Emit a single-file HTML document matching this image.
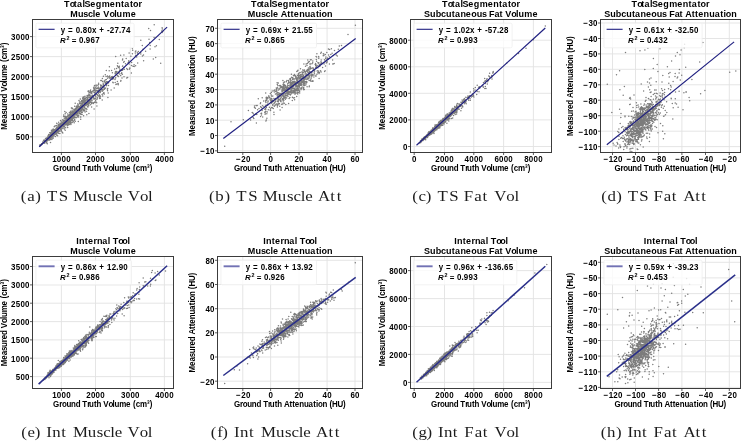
<!DOCTYPE html>
<html><head><meta charset="utf-8"><style>
html,body{margin:0;padding:0;background:#fff;}
svg{display:block;filter:blur(0.35px);}
text.s{font-family:"Liberation Sans",sans-serif;font-weight:bold;fill:#000;stroke:#000;stroke-width:0px;}
</style></head><body>
<svg width="741" height="441" viewBox="0 0 741 441">
<rect width="741" height="441" fill="#fff"/>
<path d="M61.4 19.5V152.5M95.5 19.5V152.5M130.3 19.5V152.5M164.4 19.5V152.5M32.5 136.8H173.5M32.5 116.8H173.5M32.5 96.7H173.5M32.5 76.7H173.5M32.5 56.6H173.5M32.5 36.6H173.5" stroke="#e2e2e2" stroke-width="0.9" fill="none"/>
<path d="M75.8 111.4h0M119.5 73.9h0M113.6 78.6h0M64.7 121.2h0M68.7 120.4h0M64.4 122.2h0M90.1 99.1h0M73.8 109.3h0M95.6 87.8h0M47.0 142.1h0M129.2 63.9h0M72.9 112.5h0M93.5 97.9h0M72.0 113.1h0M67.1 119.5h0M86.9 99.2h0M98.3 91.6h0M70.6 116.2h0M71.7 114.4h0M93.6 102.8h0M58.7 130.8h0M50.4 138.4h0M85.0 96.3h0M61.9 124.5h0M46.3 139.4h0M59.6 127.1h0M65.4 123.7h0M54.2 134.4h0M50.6 134.2h0M75.9 113.7h0M100.8 80.4h0M70.0 117.1h0M60.7 126.3h0M84.7 104.9h0M94.7 95.0h0M68.6 119.0h0M89.3 92.6h0M106.3 70.5h0M70.5 121.2h0M59.6 126.9h0M83.7 101.9h0M81.1 111.1h0M108.5 85.6h0M53.1 134.7h0M62.1 132.1h0M59.2 126.2h0M48.1 138.5h0M78.0 110.6h0M88.8 99.7h0M60.8 125.8h0M120.6 55.3h0M98.2 90.4h0M91.8 93.2h0M85.2 105.7h0M103.0 84.9h0M52.5 134.9h0M91.4 98.3h0M91.1 102.2h0M47.7 140.3h0M83.7 102.9h0M69.6 115.6h0M96.8 90.2h0M66.0 123.6h0M74.6 112.2h0M83.6 115.8h0M58.6 126.0h0M90.9 98.2h0M72.7 114.3h0M87.8 95.8h0M64.5 124.2h0M108.0 76.7h0M91.1 99.9h0M71.1 114.8h0M92.0 99.0h0M115.1 73.8h0M140.8 40.3h0M49.7 138.2h0M100.3 92.5h0M87.0 103.2h0M72.9 113.9h0M56.7 123.3h0M115.0 79.4h0M53.4 138.1h0M90.0 102.0h0M116.9 84.0h0M49.5 138.2h0M68.6 119.0h0M52.8 136.1h0M81.0 110.2h0M126.7 78.0h0M154.1 37.5h0M47.6 140.2h0M63.5 120.6h0M94.2 89.7h0M129.9 68.2h0M85.7 104.5h0M60.7 126.3h0M82.4 102.9h0M74.7 119.4h0M70.6 117.4h0M60.9 121.1h0M84.8 104.1h0M82.6 104.8h0M73.0 114.9h0M70.2 121.5h0M53.1 131.5h0M65.1 121.5h0M112.8 76.6h0M70.9 114.4h0M51.2 133.7h0M118.3 84.8h0M88.9 97.6h0M159.3 39.4h0M76.5 110.9h0M65.6 124.0h0M51.1 137.3h0M117.9 66.8h0M59.5 127.6h0M62.3 125.7h0M90.9 99.3h0M59.3 127.5h0M69.2 118.4h0M67.7 127.5h0M79.6 112.0h0M108.3 83.1h0M75.5 109.6h0M101.6 80.5h0M66.3 124.0h0M83.2 97.0h0M44.4 141.6h0M51.1 134.4h0M97.3 94.6h0M63.3 125.7h0M90.4 91.6h0M89.2 100.4h0M117.8 73.5h0M97.8 85.3h0M105.3 74.7h0M72.5 120.4h0M61.4 126.2h0M60.9 126.2h0M65.1 116.7h0M55.1 125.7h0M64.0 123.3h0M73.0 113.4h0M81.2 103.4h0M67.9 115.8h0M46.3 140.5h0M73.4 111.2h0M80.5 110.4h0M107.9 97.4h0M90.3 104.7h0M62.4 124.1h0M61.0 123.8h0M153.3 59.0h0M96.0 102.0h0M143.0 49.2h0M160.7 63.3h0M59.5 125.9h0M84.7 99.0h0M86.8 114.8h0M89.8 95.1h0M89.2 100.1h0M79.9 102.3h0M79.2 107.6h0M50.5 136.4h0M71.4 115.6h0M60.6 123.7h0M78.0 109.0h0M65.4 121.6h0M91.5 103.8h0M98.1 88.3h0M82.7 105.2h0M82.9 97.4h0M77.2 110.5h0M65.8 121.6h0M71.4 118.2h0M64.9 119.9h0M84.8 104.2h0M75.4 114.9h0M90.4 90.4h0M52.5 129.9h0M100.5 90.9h0M60.4 129.2h0M60.9 122.9h0M70.7 119.5h0M63.7 114.9h0M82.2 106.3h0M63.5 120.6h0M55.9 133.9h0M59.1 127.7h0M117.4 65.7h0M76.1 109.9h0M54.6 133.2h0M75.2 103.2h0M49.9 134.8h0M140.7 52.6h0M50.3 137.3h0M87.4 102.0h0M89.3 92.7h0M51.1 136.9h0M82.4 105.3h0M104.5 89.2h0M87.1 95.5h0M81.4 107.1h0M102.7 81.6h0M78.9 106.6h0M83.4 107.0h0M72.2 112.7h0M92.0 91.9h0M57.7 131.9h0M97.1 87.9h0M64.8 111.5h0M55.6 131.7h0M84.2 101.0h0M135.6 65.7h0M103.2 83.3h0M64.6 124.2h0M94.0 90.6h0M65.7 121.5h0M72.3 119.3h0M77.1 106.3h0M43.0 143.3h0M79.6 112.2h0M56.4 130.0h0M61.5 128.1h0M50.8 134.7h0M50.4 136.1h0M57.7 130.0h0M98.3 86.9h0M134.2 66.5h0M74.5 109.5h0M108.2 93.0h0M69.4 112.5h0M46.4 139.4h0M78.6 110.1h0M86.4 104.9h0M66.2 119.2h0M82.5 106.1h0M90.1 99.0h0M58.8 125.1h0M50.8 136.5h0M70.2 117.9h0M70.4 115.4h0M67.6 116.1h0M104.2 85.8h0M137.3 52.7h0M66.4 120.6h0M94.1 90.7h0M102.4 78.4h0M94.5 98.6h0M106.5 83.6h0M66.9 120.4h0M95.4 90.2h0M154.2 24.7h0M97.6 91.2h0M62.8 123.5h0M91.2 91.7h0M115.2 82.6h0M84.3 107.0h0M63.7 124.6h0M128.1 62.8h0M53.5 132.4h0M88.1 102.5h0M74.7 106.3h0M54.2 134.0h0M113.4 77.7h0M83.7 99.6h0M54.6 130.1h0M91.0 97.4h0M66.1 119.8h0M46.5 138.1h0M61.6 125.3h0M81.5 103.7h0M92.1 100.8h0M79.0 108.5h0M76.1 117.8h0M87.1 105.1h0M70.4 120.8h0M111.6 70.5h0M78.6 111.0h0M82.3 104.4h0M89.2 103.4h0M56.0 131.1h0M61.3 126.4h0M127.4 69.6h0M83.4 101.0h0M69.0 123.9h0M83.5 101.8h0M65.2 113.7h0M81.9 109.5h0M62.0 124.9h0M81.8 112.7h0M49.7 136.7h0M118.2 83.5h0M64.6 120.6h0M49.6 137.7h0M70.2 123.6h0M67.3 124.2h0M78.7 115.6h0M54.9 132.5h0M85.1 99.4h0M53.1 134.4h0M83.4 109.8h0M68.4 121.8h0M79.7 107.9h0M47.3 143.7h0M54.8 130.5h0M86.8 99.8h0M74.2 122.7h0M132.7 50.2h0M61.3 130.4h0M79.2 109.8h0M60.4 123.4h0M58.2 133.1h0M74.2 120.5h0M74.0 118.0h0M99.0 96.2h0M78.1 110.5h0M60.5 128.1h0M80.1 110.1h0M115.6 78.1h0M39.9 146.3h0M71.9 118.9h0M58.7 127.5h0M91.7 97.3h0M71.2 120.1h0M148.7 28.5h0M102.1 94.6h0M100.6 84.9h0M79.5 111.7h0M74.1 112.4h0M83.5 102.7h0M116.6 68.5h0M89.0 93.1h0M67.6 122.6h0M115.7 56.5h0M79.7 106.9h0M73.3 117.5h0M60.0 130.9h0M63.7 116.5h0M62.5 119.9h0M39.8 146.1h0M105.3 80.1h0M90.0 92.5h0M70.4 116.9h0M106.4 85.8h0M86.2 102.4h0M84.4 100.3h0M41.9 144.1h0M70.0 121.8h0M88.9 96.1h0M131.4 73.0h0M143.5 54.9h0M122.5 59.9h0M54.6 131.5h0M43.9 141.8h0M90.1 98.1h0M75.7 108.2h0M103.2 86.6h0M72.2 122.4h0M80.4 106.8h0M50.5 142.5h0M86.5 111.2h0M65.9 116.5h0M83.8 100.0h0M86.8 103.8h0M72.4 115.5h0M82.9 105.0h0M74.7 109.3h0M96.0 96.9h0M88.0 104.6h0M64.0 125.1h0M63.3 123.5h0M138.3 51.6h0M72.8 116.4h0M104.3 81.0h0M85.0 108.0h0M63.7 123.7h0M60.6 128.4h0M77.9 114.1h0M81.3 101.8h0M91.4 98.9h0M53.3 135.7h0M63.2 123.9h0M72.9 118.4h0M130.9 56.2h0M42.7 142.0h0M86.2 97.6h0M64.1 126.3h0M86.0 103.1h0M65.0 116.6h0M84.2 105.1h0M129.1 53.1h0M83.9 97.8h0M86.1 108.6h0M84.4 98.6h0M60.6 124.3h0M89.3 95.2h0M70.5 111.2h0M59.6 126.1h0M74.2 113.3h0M70.1 115.3h0M95.8 94.9h0M74.1 111.9h0M64.3 129.1h0M123.9 55.1h0M104.2 88.4h0M115.5 71.4h0M91.2 96.0h0M72.6 114.7h0M66.3 120.7h0M69.0 118.2h0M102.7 96.0h0M77.7 112.5h0M50.7 133.2h0M74.2 117.4h0M51.5 137.4h0M79.0 100.5h0M54.1 129.7h0M53.3 129.7h0M77.8 110.2h0M73.3 113.5h0M48.8 136.0h0M95.7 90.4h0M162.8 31.3h0M50.7 138.9h0M142.4 55.9h0M61.6 129.8h0M65.0 117.5h0M71.1 117.9h0M51.2 135.8h0M116.8 72.0h0M87.8 100.7h0M60.6 125.0h0M69.1 120.6h0M50.4 139.4h0M67.7 114.0h0M102.3 91.3h0M48.3 139.1h0M66.0 123.9h0M78.5 111.8h0M106.5 83.3h0M119.0 66.9h0M65.6 125.1h0M60.8 125.6h0M86.6 105.1h0M67.4 116.2h0M68.4 123.2h0M107.7 81.7h0M135.4 51.2h0M81.5 112.5h0M70.8 116.5h0M90.1 98.0h0M46.6 141.2h0M74.6 114.1h0M56.0 128.4h0M94.8 93.1h0M78.4 111.4h0M70.8 117.7h0M41.6 143.8h0M94.5 88.3h0M132.4 53.7h0M60.9 124.2h0M93.6 87.8h0M94.8 102.1h0M50.0 139.6h0M102.2 100.0h0M119.3 66.3h0M80.6 117.1h0M73.6 114.5h0M97.0 88.4h0M50.1 139.4h0M77.2 113.5h0M106.7 84.9h0M53.6 131.5h0M104.4 94.1h0M66.4 120.2h0M44.9 140.2h0M72.7 114.7h0M57.2 129.4h0M82.9 100.3h0M54.5 131.8h0M106.6 83.7h0M60.8 127.4h0M83.9 101.9h0M63.2 125.0h0M68.2 117.4h0M112.2 77.8h0M80.2 103.6h0M66.8 123.3h0M53.5 133.1h0M110.9 77.5h0M95.2 92.0h0M68.1 115.9h0M81.0 105.9h0M56.4 128.3h0M56.6 125.4h0M59.4 125.5h0M83.9 109.3h0M82.3 112.2h0M60.7 124.7h0M95.3 95.9h0M96.9 91.0h0M79.2 109.8h0M106.1 76.6h0M68.9 114.9h0M72.5 119.4h0M87.2 100.4h0M74.3 114.9h0M97.2 98.9h0M53.5 131.9h0M122.5 69.9h0M60.1 125.9h0M71.4 107.9h0M51.9 131.9h0M91.0 92.8h0M115.7 77.8h0M107.4 89.7h0M98.6 84.5h0M49.9 137.3h0M60.1 127.0h0M65.5 123.2h0M57.8 129.0h0M109.4 66.8h0M79.5 110.2h0M74.5 114.6h0M87.6 100.3h0M57.5 128.8h0M58.2 132.0h0M58.6 133.2h0M87.9 103.6h0M83.5 106.0h0M90.3 102.4h0M107.7 88.5h0M52.2 136.7h0M63.8 124.9h0M78.5 110.3h0M52.3 138.1h0M64.3 124.9h0M105.2 83.0h0M108.6 82.6h0M107.6 90.7h0M76.0 113.5h0M70.4 117.6h0M107.7 78.3h0M67.2 125.7h0M83.5 102.4h0M117.9 76.3h0M67.3 119.8h0M62.9 122.6h0M74.8 116.6h0M90.9 102.1h0M87.5 102.0h0M78.7 106.8h0M89.7 102.0h0M49.5 140.1h0M58.9 130.2h0M78.9 108.0h0M57.9 126.3h0M52.4 135.6h0M54.0 133.7h0M58.0 129.6h0M71.1 117.3h0M56.5 132.9h0M80.7 109.7h0M135.8 55.3h0M71.8 115.9h0M115.7 75.3h0M82.1 110.7h0M55.2 133.1h0M69.5 120.8h0M57.1 127.4h0M96.3 85.9h0M54.7 131.4h0M117.8 63.3h0M90.3 100.3h0M45.4 141.5h0M96.9 99.3h0M128.6 62.0h0M60.0 128.6h0M104.1 85.6h0M47.4 138.2h0M81.2 108.4h0M48.8 140.0h0M87.5 101.7h0M47.5 139.1h0M40.8 145.3h0M85.0 100.9h0M63.2 125.0h0M98.5 92.6h0M77.6 104.1h0M68.2 116.2h0M91.4 98.2h0M133.0 66.3h0M53.7 134.2h0M89.9 97.5h0M83.6 101.5h0M51.4 130.2h0M131.6 62.5h0M149.7 42.4h0M57.5 130.5h0M137.9 54.1h0M76.3 113.3h0M71.4 120.2h0M126.2 58.6h0M80.5 107.4h0M83.1 100.2h0M126.8 68.5h0M116.3 73.0h0M100.7 85.6h0M51.7 139.1h0M49.7 139.5h0M109.5 76.5h0M57.9 128.9h0M78.6 116.9h0M55.8 132.9h0M71.0 120.4h0M53.1 134.7h0M132.4 48.5h0M56.6 131.8h0M72.3 108.6h0M70.9 117.8h0M112.8 82.2h0M51.4 131.9h0M74.3 110.3h0M70.5 112.7h0M88.9 91.2h0M87.2 96.9h0M65.5 118.3h0M80.9 114.4h0M67.2 123.0h0M87.1 99.7h0M72.7 114.4h0M62.2 123.1h0M74.4 115.3h0M84.1 99.7h0M65.0 116.3h0M82.6 103.4h0M124.2 61.4h0M44.9 140.5h0M48.0 136.6h0M54.3 132.0h0M72.5 117.1h0M84.9 102.7h0M112.9 76.8h0M70.2 122.5h0M41.9 143.8h0M43.0 143.0h0M105.3 83.3h0M79.5 110.9h0M52.9 132.7h0M109.2 77.3h0M50.1 137.9h0M109.9 78.4h0M123.7 62.3h0M60.4 124.7h0M55.3 133.7h0M99.0 95.7h0M55.5 131.3h0M99.6 95.3h0M54.2 126.8h0M97.7 95.8h0M77.2 113.9h0M66.1 119.4h0M58.4 129.9h0M80.8 117.0h0M46.5 140.1h0M69.1 121.8h0M66.8 122.5h0M93.4 103.6h0M53.5 135.4h0M136.7 57.1h0M68.4 119.6h0M54.9 134.6h0M120.7 75.5h0M134.1 64.7h0M70.9 116.6h0M58.4 129.2h0M75.4 117.4h0M61.6 124.1h0M68.4 121.7h0M128.8 60.7h0M84.9 107.9h0M78.5 108.9h0M83.7 105.7h0M73.7 114.3h0M98.9 88.4h0M100.2 87.5h0M67.3 120.0h0M77.5 110.3h0M85.7 108.7h0M71.0 117.3h0M155.7 57.5h0M75.3 121.3h0M55.5 132.3h0M93.3 97.3h0M58.3 125.1h0M64.9 120.8h0M83.1 101.1h0M72.2 117.0h0M60.4 125.8h0M63.9 120.2h0M63.2 122.8h0M111.2 77.6h0M61.1 126.0h0M63.6 126.6h0M155.0 46.7h0M63.9 127.9h0M125.5 63.7h0M117.5 75.5h0M71.7 118.7h0M51.5 134.6h0M86.6 104.8h0M93.2 91.1h0M103.4 76.3h0M76.7 109.9h0M112.8 82.3h0M120.9 80.4h0M56.1 126.1h0M122.7 66.0h0M79.2 113.8h0M63.7 120.7h0M68.3 124.9h0M145.6 51.2h0M104.0 87.4h0M47.5 139.7h0M77.0 115.6h0M71.9 107.8h0M71.2 118.1h0M64.6 121.8h0M51.0 135.6h0M99.6 98.5h0M57.7 130.8h0M67.3 119.8h0M63.1 121.7h0M61.0 127.3h0M95.5 92.1h0M84.7 105.5h0M61.8 123.9h0M57.6 135.8h0M65.4 120.3h0M103.4 90.0h0M78.0 112.6h0M80.7 119.2h0M68.1 123.1h0M69.5 116.3h0M80.3 99.0h0M47.0 140.8h0M131.5 65.5h0M60.0 125.9h0M63.6 123.0h0M118.5 76.5h0M80.4 108.7h0M76.0 113.6h0M63.4 122.3h0M49.9 135.1h0M79.5 102.0h0M112.4 72.8h0M58.3 127.1h0M119.6 70.6h0M55.1 129.6h0M60.9 129.1h0M88.2 91.0h0M75.0 112.0h0M93.8 88.6h0M60.7 128.7h0M56.4 128.1h0M46.8 138.9h0M54.1 133.2h0M55.8 132.8h0M51.4 137.2h0M82.7 98.4h0M62.0 121.9h0M45.7 140.5h0M59.3 127.4h0M53.4 135.0h0M114.2 87.9h0M111.1 90.1h0M54.8 133.6h0M50.8 136.2h0M56.8 133.1h0M109.7 76.1h0M68.4 117.6h0M59.7 127.1h0M74.4 120.1h0M112.7 79.2h0M51.8 135.0h0M67.0 124.6h0M51.9 139.6h0M142.3 45.6h0M102.8 89.2h0M72.1 110.3h0M92.8 91.0h0M44.7 140.8h0M81.8 105.8h0M52.4 132.6h0M52.6 130.9h0M61.3 125.8h0M67.7 120.7h0M90.2 96.1h0M94.1 109.0h0M81.5 106.7h0M57.6 130.5h0M93.3 95.9h0M72.3 116.2h0M111.7 76.8h0M58.0 128.8h0M40.0 145.9h0M65.3 122.6h0M162.1 27.7h0M87.1 104.0h0M70.8 113.7h0M100.4 98.3h0M88.1 99.9h0M86.9 99.9h0M64.6 126.7h0M76.8 113.0h0M79.9 103.2h0M62.4 125.4h0M55.2 133.8h0M78.3 121.6h0M103.5 84.6h0M92.4 96.2h0M87.8 98.3h0M88.1 91.5h0M81.4 107.1h0M106.2 83.2h0M150.1 48.9h0M76.3 112.1h0M81.5 107.1h0M106.3 79.6h0M135.3 52.9h0M82.8 109.0h0M84.1 106.6h0M77.2 105.8h0M54.1 135.0h0M109.2 76.8h0M69.6 112.8h0M48.2 137.0h0M71.8 115.2h0M48.1 135.7h0M56.8 129.4h0M75.5 112.6h0M58.0 129.6h0M107.5 76.1h0M50.9 134.2h0M81.6 100.5h0M89.9 100.7h0M124.4 69.3h0M102.0 90.2h0M80.9 106.4h0M77.1 113.8h0M73.9 110.8h0M110.4 78.1h0M62.3 127.9h0M88.9 113.6h0M73.2 121.4h0M81.1 101.5h0M69.6 118.4h0M161.7 30.9h0M62.3 126.3h0M81.5 105.4h0M82.1 114.4h0M91.6 107.0h0M86.9 109.2h0M86.2 102.3h0M104.4 81.7h0M50.6 135.0h0M75.5 113.1h0M53.9 136.0h0M81.0 104.2h0M54.5 133.0h0M57.6 129.5h0M73.9 114.4h0M121.7 72.8h0M90.7 101.8h0M82.7 108.4h0M122.0 78.0h0M57.8 128.6h0M44.9 141.7h0M66.5 117.9h0M69.3 124.5h0M114.6 69.0h0M162.2 32.5h0M52.7 134.5h0M129.8 68.0h0M99.2 94.7h0M84.6 110.5h0M77.3 107.6h0M65.6 122.6h0M78.7 106.8h0M52.2 132.7h0M87.6 103.5h0M72.9 115.9h0M83.6 106.5h0M84.4 99.8h0M56.2 130.5h0M118.2 71.9h0M56.8 128.4h0M101.0 89.2h0M49.7 132.7h0M84.8 107.9h0M59.7 124.1h0M76.4 106.5h0M62.5 128.2h0M44.2 140.6h0M55.5 130.8h0M77.0 107.9h0M92.2 102.7h0M51.1 135.1h0M44.6 143.3h0M58.9 129.1h0M70.8 112.3h0M62.8 125.0h0M59.9 133.4h0M99.7 97.3h0M103.9 92.4h0M96.0 88.3h0M58.0 130.9h0M77.2 117.0h0M71.1 112.9h0M51.5 134.6h0M100.9 87.0h0M77.5 113.9h0M65.4 117.7h0M122.8 69.5h0M96.7 102.7h0M99.9 95.8h0M113.2 82.7h0M95.2 94.9h0M53.5 131.6h0M67.2 122.7h0M105.3 88.2h0M60.5 120.6h0M76.2 111.6h0M85.5 105.5h0M123.9 67.4h0M117.4 81.6h0M101.4 85.5h0M71.3 113.3h0M102.0 91.0h0M89.2 95.1h0M71.8 117.2h0M120.0 69.4h0M88.2 104.0h0M60.7 128.7h0M115.9 84.4h0M69.8 117.3h0M91.2 99.2h0M50.4 136.8h0M74.9 117.4h0M57.8 132.3h0M57.4 131.3h0M46.5 139.0h0M162.3 28.9h0M72.0 118.3h0M81.1 106.2h0M109.2 70.8h0M72.6 115.0h0M88.7 91.0h0M52.3 133.5h0M80.0 103.1h0M66.6 122.6h0M88.3 95.3h0M79.6 113.5h0M52.0 134.2h0M47.0 140.0h0M56.8 135.3h0M95.6 100.6h0M86.1 97.7h0M85.5 101.1h0M45.5 138.6h0M40.5 145.3h0M62.8 133.0h0M68.1 118.8h0M63.2 125.9h0M84.1 106.7h0M71.4 118.0h0M54.4 134.3h0M58.7 131.0h0M78.6 104.9h0M76.8 109.7h0M73.5 116.9h0M69.5 119.7h0M78.0 106.6h0M56.9 129.1h0M67.5 119.5h0M88.8 105.8h0M90.0 101.0h0M71.6 120.2h0M85.1 112.0h0M76.4 108.5h0M46.7 140.4h0M98.5 93.2h0M73.8 117.8h0M48.0 137.0h0M53.2 128.9h0M119.3 68.1h0M39.8 144.9h0M68.2 123.6h0M99.8 89.0h0M78.4 109.0h0M95.9 86.0h0M72.1 115.8h0M56.4 132.9h0M52.1 134.8h0M81.8 108.6h0M122.7 59.1h0M73.8 111.9h0M106.5 81.8h0M64.3 122.6h0M54.3 130.6h0M121.3 73.4h0M129.3 69.3h0M127.6 77.6h0M66.0 117.9h0M54.7 131.0h0M54.5 130.9h0M70.2 117.5h0M90.4 90.9h0M88.3 105.1h0M51.3 132.8h0M79.7 112.1h0M75.4 114.4h0M77.2 115.8h0M74.5 113.3h0M70.6 118.2h0M90.8 96.3h0M78.0 112.6h0M80.5 113.6h0M61.6 124.2h0M85.0 98.2h0M72.3 113.1h0M44.6 141.8h0M87.5 99.6h0M69.4 124.1h0M101.9 89.9h0M71.5 112.5h0M72.9 113.5h0M80.1 111.8h0M74.8 110.3h0M65.8 122.2h0M47.5 137.6h0M143.6 60.8h0M49.7 138.0h0M67.8 118.9h0M92.6 95.2h0M84.6 101.8h0M90.0 99.2h0M96.4 94.1h0M115.2 72.8h0M82.4 102.7h0M56.7 134.2h0M80.5 109.3h0M67.4 120.9h0M64.0 123.0h0M82.1 102.3h0M124.0 76.8h0M61.2 124.6h0M61.2 130.9h0M94.9 98.2h0M89.3 102.2h0M150.2 45.6h0M105.7 88.0h0M80.6 110.0h0M68.1 120.8h0M80.2 109.4h0M71.2 123.1h0M52.1 137.8h0M75.2 114.6h0M71.2 114.9h0M70.0 114.5h0M66.1 112.6h0M135.4 56.3h0M94.0 99.2h0M102.3 86.7h0M63.0 122.5h0M56.5 130.2h0M69.0 122.3h0M81.0 108.0h0M67.7 120.1h0M70.9 121.8h0M103.2 93.5h0M82.4 101.2h0M57.1 135.6h0M66.2 120.9h0M62.1 126.0h0M79.4 103.6h0M54.6 130.9h0M71.1 119.8h0M93.9 89.3h0M75.7 114.6h0M58.1 123.9h0M62.8 119.8h0M78.0 110.7h0M87.5 98.0h0M98.7 90.0h0M71.8 119.3h0M52.7 131.8h0M122.5 66.3h0M82.4 102.7h0M85.3 98.8h0M82.6 100.2h0M56.3 128.2h0M68.3 119.8h0M81.3 106.9h0M105.9 82.0h0M76.4 112.2h0M69.8 118.8h0M83.8 97.0h0M116.6 71.4h0M94.5 85.5h0M122.4 74.2h0M118.9 72.5h0M102.5 89.8h0M51.9 135.7h0M99.1 92.1h0M91.0 98.7h0M64.4 124.4h0M90.6 90.1h0M85.6 100.2h0M65.5 124.3h0M72.3 117.6h0M69.4 116.0h0M80.6 105.6h0M66.2 123.2h0M89.3 95.4h0M46.3 142.7h0M69.0 120.3h0M48.6 134.6h0M65.2 130.2h0M88.5 101.3h0M75.5 109.0h0M72.6 115.9h0M76.6 114.5h0M129.4 68.9h0M55.4 136.5h0M100.5 96.2h0M50.4 136.1h0M65.4 123.8h0M78.9 109.5h0M59.0 128.5h0M80.0 107.3h0M95.0 102.5h0M54.2 133.4h0M73.3 115.9h0M67.1 121.5h0M46.1 141.9h0M70.9 124.4h0M59.9 125.7h0M118.6 67.4h0M58.7 122.3h0M135.9 51.0h0M64.3 118.3h0M149.0 39.2h0M89.1 101.5h0M86.7 100.0h0M97.6 97.8h0M101.0 87.4h0M121.5 70.6h0M137.7 62.9h0M67.7 116.1h0M53.5 130.8h0M40.5 144.8h0M66.9 118.1h0M96.1 85.1h0M84.5 104.7h0M77.8 115.7h0M67.7 123.0h0M62.4 122.9h0M69.0 118.0h0M84.8 110.2h0M47.8 136.2h0M95.0 93.2h0M51.0 132.2h0M71.5 112.5h0M62.5 126.1h0M67.3 120.0h0M56.2 132.6h0M54.7 134.1h0M70.0 118.8h0M55.6 130.1h0M66.3 117.0h0M62.1 127.8h0M63.9 121.5h0M55.8 131.1h0M41.9 144.5h0M69.4 114.6h0M82.5 107.4h0M50.4 133.3h0M75.0 114.2h0M53.9 135.0h0M74.1 111.1h0M83.8 110.9h0M87.4 106.7h0M85.9 103.5h0M61.2 126.0h0M100.0 91.0h0M65.7 127.8h0M83.6 110.6h0M94.0 92.6h0M68.4 117.5h0M53.0 136.0h0M91.1 96.5h0M55.1 131.2h0M58.3 126.1h0M55.3 133.3h0M98.6 83.3h0M71.3 117.5h0M43.5 140.3h0M94.9 89.6h0M156.4 45.8h0M140.8 54.1h0M63.5 123.0h0M76.6 107.6h0M88.0 107.0h0M100.4 91.8h0M75.6 110.1h0M55.4 130.3h0M95.6 98.8h0M91.1 102.0h0M52.4 133.3h0M67.1 123.6h0M81.3 106.0h0M74.7 109.9h0M88.4 100.3h0M96.9 106.0h0M88.9 94.5h0M72.2 111.6h0M52.1 131.4h0M91.1 93.8h0M120.8 81.3h0M150.5 30.4h0M74.0 112.7h0M74.0 110.6h0M122.9 69.4h0M122.5 70.3h0M83.2 106.3h0M94.1 87.1h0M60.2 126.2h0M90.1 99.7h0M59.2 131.3h0M71.5 114.6h0M72.0 115.8h0M65.2 121.8h0M44.5 140.0h0M59.2 125.9h0M82.9 105.5h0" stroke="#7c7c7c" stroke-width="1.5" stroke-linecap="round" fill="none"/>
<path d="M39.2 146.7L167.1 27.1" stroke="#1f1f80" stroke-width="1.2" fill="none"/>
<rect x="35.9" y="23.2" width="98.2" height="24.6" rx="1.5" fill="#fff" fill-opacity="0.8" stroke="#efefef" stroke-width="0.8"/>
<path d="M38.6 29.3h16" stroke="#1f1f80" stroke-width="1.1"/>
<text class="s" transform="matrix(1,0,0,1.1,0,-3.26)" x="60.77 64.98 67.98 73.41 75.79 80.38 82.75 87.40 92.10 96.31 99.31 104.74 107.00 109.75 114.40 118.99 121.36 126.01" y="32.6" font-size="7.96">y = 0.80x + -27.74</text>
<text x="60.1" y="43.0" font-size="7.96" font-style="italic" class="s">R</text>
<text x="66.5" y="40.3" font-size="5.4" class="s">2</text>
<text x="71.7" y="43.0" font-size="7.96" class="s">=</text>
<text class="s" transform="matrix(1,0,0,1.1,0,-4.30)" x="78.91 83.50 85.87 90.52 95.16" y="43.0" font-size="7.96">0.967</text>
<rect x="32.5" y="19.5" width="141.0" height="133.0" fill="none" stroke="#3c3c3c" stroke-width="1"/>
<text class="s" transform="matrix(1,0,0,1.1,0,-16.24)" x="52.22 56.86 61.51 66.15" y="162.4" font-size="7.96">1000</text>
<text class="s" transform="matrix(1,0,0,1.1,0,-16.24)" x="86.32 90.96 95.61 100.25" y="162.4" font-size="7.96">2000</text>
<text class="s" transform="matrix(1,0,0,1.1,0,-16.24)" x="121.12 125.76 130.41 135.05" y="162.4" font-size="7.96">3000</text>
<text class="s" transform="matrix(1,0,0,1.1,0,-16.24)" x="155.22 159.86 164.51 169.15" y="162.4" font-size="7.96">4000</text>
<text class="s" transform="matrix(1,0,0,1.1,0,-14.03)" x="15.78 20.42 25.06" y="140.3" font-size="7.96">500</text>
<text class="s" transform="matrix(1,0,0,1.1,0,-12.03)" x="11.13 15.78 20.42 25.06" y="120.3" font-size="7.96">1000</text>
<text class="s" transform="matrix(1,0,0,1.1,0,-10.02)" x="11.13 15.78 20.42 25.06" y="100.2" font-size="7.96">1500</text>
<text class="s" transform="matrix(1,0,0,1.1,0,-8.02)" x="11.13 15.78 20.42 25.06" y="80.2" font-size="7.96">2000</text>
<text class="s" transform="matrix(1,0,0,1.1,0,-6.01)" x="11.13 15.78 20.42 25.06" y="60.1" font-size="7.96">2500</text>
<text class="s" transform="matrix(1,0,0,1.1,0,-4.01)" x="11.13 15.78 20.42 25.06" y="40.1" font-size="7.96">3000</text>
<path d="M61.4 152.5v2.5M95.5 152.5v2.5M130.3 152.5v2.5M164.4 152.5v2.5M32.5 136.8h-2.5M32.5 116.8h-2.5M32.5 96.7h-2.5M32.5 76.7h-2.5M32.5 56.6h-2.5M32.5 36.6h-2.5" stroke="#333" stroke-width="0.8"/>
<text class="s" transform="matrix(1,0,0,1.1,0,-17.14)" x="53.13 59.22 62.07 66.46 71.08 75.71 80.30 82.36 87.20 89.05 93.91 96.54 101.12 103.23 108.40 112.41 114.41 119.18 126.08 130.59 132.96 135.73 139.96 146.97 149.86" y="171.4" font-size="7.96">Ground Truth Volume (cm³)</text>
<text class="s" transform="translate(7.4,86.0) rotate(-90) scale(1,1.1)" x="-43.76 -37.27 -32.79 -28.42 -24.43 -19.73 -16.87 -12.47 -7.88 -5.78 -0.61 3.40 5.40 10.17 17.07 21.59 23.95 26.72 30.96 37.96 40.85" y="0" font-size="7.96">Measured Volume (cm³)</text>
<text class="s" transform="matrix(1,0,0,1.1,0,-0.67)" x="64.10 69.70 73.86 77.01 82.42 84.41 90.38 95.86 101.66 109.87 115.34 121.09 124.23 129.89 133.03 138.52" y="6.7" font-size="9.02">TotalSegmentator</text>
<text class="s" transform="matrix(1,0,0,1.1,0,-1.67)" x="70.18 77.99 83.30 87.99 92.87 95.27 100.61 103.25 109.42 114.15 116.63 122.43 130.64" y="16.6" font-size="9.02">Muscle Volume</text>
<text transform="translate(86.70,0) scale(1.14,1) translate(-86.70,0)" x="28.94 34.47 41.59 47.12 51.86 62.15 70.06 74.81 87.86 95.76 101.38 107.70 111.64 117.97 122.71 133.40 140.52" y="200.8" font-size="14.8" font-family='"Liberation Serif", serif' fill="#1c1c1c">(a) TS Muscle Vol</text>
<path d="M242.8 19.5V152.5M270.6 19.5V152.5M299.0 19.5V152.5M327.1 19.5V152.5M355.0 19.5V152.5M217.5 150.8H362.5M217.5 135.5H362.5M217.5 120.2H362.5M217.5 104.9H362.5M217.5 89.6H362.5M217.5 74.2H362.5M217.5 58.9H362.5M217.5 43.6H362.5M217.5 28.3H362.5" stroke="#e2e2e2" stroke-width="0.9" fill="none"/>
<path d="M293.2 84.8h0M311.0 68.5h0M305.9 84.8h0M305.6 76.0h0M320.7 70.9h0M272.8 100.6h0M282.6 86.7h0M270.8 100.5h0M291.5 85.7h0M310.2 67.4h0M292.9 93.0h0M301.7 78.8h0M261.0 113.5h0M295.8 77.4h0M277.9 101.3h0M323.3 53.7h0M308.3 62.4h0M309.4 86.0h0M292.3 87.3h0M303.7 87.2h0M304.5 70.0h0M287.5 95.0h0M284.8 88.2h0M291.4 85.2h0M283.0 98.7h0M283.2 102.0h0M288.5 82.6h0M280.9 98.3h0M306.3 74.2h0M266.2 97.4h0M307.3 75.3h0M282.7 95.2h0M284.0 98.5h0M270.3 99.9h0M290.9 92.2h0M289.1 98.6h0M296.6 86.6h0M284.2 96.0h0M294.9 93.9h0M324.1 63.9h0M300.3 75.6h0M283.5 89.5h0M309.4 61.5h0M291.1 80.5h0M303.4 76.5h0M303.7 89.8h0M286.7 89.2h0M260.6 102.8h0M287.4 91.5h0M302.7 70.1h0M286.8 95.7h0M300.8 78.4h0M309.9 68.1h0M284.0 82.3h0M314.1 70.1h0M320.7 53.3h0M311.6 73.9h0M313.0 81.3h0M311.9 72.2h0M331.4 48.7h0M296.5 85.1h0M293.4 75.7h0M303.5 79.0h0M277.8 85.7h0M266.9 118.3h0M278.3 83.0h0M299.7 92.9h0M301.4 79.9h0M267.2 112.1h0M261.4 107.5h0M287.9 90.8h0M290.1 89.7h0M292.5 82.3h0M304.7 71.2h0M314.1 71.9h0M297.3 75.2h0M303.7 88.1h0M274.7 105.8h0M273.3 108.6h0M297.3 79.7h0M304.6 71.6h0M305.6 78.9h0M303.4 81.9h0M306.6 82.8h0M307.0 71.2h0M263.6 100.9h0M280.8 98.2h0M301.1 80.9h0M303.4 80.4h0M267.6 104.9h0M313.2 67.9h0M285.8 104.5h0M289.4 91.8h0M298.0 77.2h0M306.0 81.5h0M268.9 96.1h0M310.1 64.5h0M294.6 90.2h0M280.2 100.1h0M288.6 81.1h0M256.4 123.1h0M282.3 100.1h0M296.4 93.0h0M281.2 94.4h0M287.7 87.6h0M290.8 84.5h0M294.1 83.2h0M310.6 81.0h0M292.9 78.8h0M288.9 89.2h0M302.5 81.1h0M328.4 48.9h0M287.5 89.2h0M302.0 76.9h0M266.5 100.5h0M316.1 56.4h0M304.5 77.3h0M315.9 64.5h0M292.3 100.4h0M275.6 104.7h0M308.3 61.9h0M306.1 64.0h0M278.5 97.5h0M268.3 109.7h0M301.0 88.2h0M290.4 95.0h0M337.3 56.0h0M282.9 103.8h0M284.3 93.0h0M291.4 88.1h0M265.1 114.2h0M278.2 104.8h0M321.1 71.9h0M291.1 90.3h0M283.0 94.7h0M271.6 98.4h0M303.2 88.8h0M304.5 79.4h0M297.7 82.2h0M286.7 88.7h0M298.5 76.6h0M299.8 83.3h0M281.7 86.8h0M303.9 63.9h0M257.6 109.8h0M271.4 92.6h0M288.1 83.5h0M291.5 84.2h0M273.5 101.6h0M298.9 79.8h0M311.2 59.8h0M301.0 79.3h0M297.1 87.3h0M307.3 77.9h0M300.2 75.6h0M273.9 103.7h0M289.9 82.5h0M315.2 64.6h0M273.9 98.4h0M294.4 74.6h0M286.7 98.1h0M278.0 100.1h0M276.1 99.2h0M295.0 81.7h0M298.7 89.5h0M298.6 84.9h0M268.7 95.9h0M288.4 91.5h0M299.2 75.6h0M309.3 74.9h0M304.7 81.5h0M307.4 71.9h0M311.9 63.8h0M307.3 75.4h0M279.4 103.8h0M294.3 89.5h0M281.2 97.4h0M253.1 117.4h0M264.8 112.6h0M328.6 55.1h0M274.3 106.2h0M255.4 108.2h0M283.4 99.4h0M319.0 72.3h0M292.6 79.5h0M300.3 76.3h0M288.7 91.2h0M291.9 90.3h0M314.7 71.0h0M306.8 75.3h0M291.9 85.3h0M308.4 68.1h0M311.5 77.0h0M289.6 88.4h0M297.9 81.9h0M297.7 90.7h0M281.9 87.2h0M312.8 61.1h0M290.5 87.9h0M282.8 104.1h0M264.9 111.9h0M271.8 96.2h0M319.1 78.6h0M273.9 112.2h0M300.6 83.4h0M287.1 87.7h0M302.0 74.4h0M303.5 72.2h0M280.1 109.9h0M288.3 93.1h0M295.0 90.4h0M295.3 90.3h0M292.8 81.6h0M288.0 87.4h0M304.0 82.3h0M315.6 67.8h0M302.5 77.8h0M280.7 87.7h0M300.1 84.1h0M294.4 81.3h0M301.2 84.2h0M324.5 59.8h0M289.7 88.7h0M293.1 84.4h0M278.2 97.0h0M288.4 80.5h0M283.6 97.0h0M320.4 70.8h0M298.5 85.0h0M283.6 90.1h0M325.9 56.9h0M270.7 102.6h0M307.9 78.4h0M310.5 74.9h0M303.1 82.1h0M288.9 85.8h0M291.1 87.0h0M287.5 88.3h0M306.6 75.0h0M254.0 114.4h0M284.6 85.1h0M295.9 86.1h0M283.4 90.2h0M262.5 105.7h0M289.2 92.6h0M280.5 85.5h0M306.9 73.9h0M316.9 74.2h0M294.5 79.0h0M260.6 106.7h0M290.0 83.9h0M277.6 98.3h0M304.9 78.8h0M321.9 63.1h0M298.7 89.2h0M327.7 58.7h0M318.9 65.9h0M305.1 71.6h0M278.7 97.6h0M296.9 79.4h0M270.5 110.6h0M312.8 75.3h0M297.4 78.1h0M318.7 58.2h0M300.5 75.1h0M262.7 117.0h0M306.7 81.5h0M311.5 75.5h0M323.9 55.6h0M279.2 99.5h0M280.1 94.1h0M296.9 80.3h0M277.8 94.5h0M272.3 102.0h0M277.1 95.8h0M339.3 46.1h0M284.8 91.0h0M278.1 97.1h0M287.7 85.3h0M295.2 75.5h0M316.9 53.8h0M311.1 78.7h0M308.4 72.6h0M295.8 83.0h0M297.7 88.5h0M284.2 93.9h0M269.4 107.2h0M329.4 64.0h0M287.2 93.5h0M312.1 67.9h0M289.6 94.2h0M293.4 88.5h0M292.3 87.1h0M271.5 107.5h0M293.6 92.4h0M301.4 88.7h0M308.9 78.3h0M303.3 70.3h0M312.1 81.3h0M299.9 76.0h0M294.8 89.9h0M261.5 114.9h0M285.7 87.0h0M321.0 61.8h0M296.9 79.5h0M308.3 74.6h0M291.2 82.5h0M283.3 96.8h0M329.3 56.8h0M300.8 74.7h0M320.0 66.0h0M303.7 82.9h0M289.7 78.9h0M256.8 114.4h0M296.3 89.1h0M268.1 101.0h0M257.2 105.6h0M315.7 65.7h0M306.9 82.3h0M305.6 76.2h0M295.5 82.3h0M294.1 81.5h0M301.9 87.4h0M297.3 89.9h0M295.9 82.7h0M307.2 75.2h0M253.1 113.3h0M309.8 66.7h0M283.8 100.5h0M309.1 80.4h0M314.4 73.2h0M280.1 86.9h0M307.9 76.0h0M307.6 69.5h0M282.1 107.6h0M285.0 90.7h0M295.8 78.6h0M256.1 105.5h0M286.1 95.1h0M296.8 71.5h0M286.0 95.8h0M266.4 97.3h0M286.9 80.6h0M319.1 66.6h0M315.9 76.2h0M291.4 74.2h0M279.7 93.4h0M293.2 92.4h0M293.7 82.3h0M281.9 100.0h0M287.7 88.7h0M304.0 83.8h0M309.2 86.7h0M252.2 112.5h0M309.9 77.1h0M295.7 84.6h0M312.9 70.3h0M293.1 86.8h0M300.9 84.0h0M321.1 62.7h0M243.3 119.8h0M320.3 64.1h0M296.6 85.1h0M262.5 108.4h0M248.4 110.6h0M298.7 74.6h0M275.8 99.9h0M310.4 69.1h0M297.0 79.2h0M291.1 83.5h0M310.2 72.3h0M296.7 79.8h0M305.9 77.5h0M307.5 70.5h0M298.8 77.9h0M306.7 71.1h0M306.7 71.2h0M270.0 99.1h0M288.7 92.9h0M291.3 93.3h0M286.9 89.0h0M266.4 107.4h0M283.7 88.0h0M299.1 84.5h0M296.6 85.3h0M319.1 73.5h0M283.0 93.5h0M286.0 92.9h0M283.6 85.8h0M287.9 88.8h0M283.0 84.8h0M261.6 113.2h0M299.2 89.9h0M310.1 66.4h0M312.3 68.0h0M274.8 89.9h0M290.0 91.4h0M324.6 71.5h0M291.5 77.3h0M299.3 78.8h0M290.7 90.1h0M310.4 59.7h0M309.7 72.1h0M332.6 59.9h0M301.8 76.1h0M301.0 81.9h0M272.7 104.7h0M286.3 87.5h0M281.4 93.2h0M287.7 89.8h0M271.0 101.8h0M313.9 76.9h0M275.4 93.9h0M298.0 70.2h0M271.9 98.9h0M299.2 72.9h0M321.3 52.2h0M279.3 96.2h0M299.5 83.9h0M292.2 91.0h0M298.2 83.7h0M300.5 74.8h0M282.5 93.5h0M290.3 80.1h0M283.3 95.8h0M279.3 85.6h0M272.4 102.0h0M309.7 72.9h0M280.7 93.6h0M304.6 77.5h0M302.7 78.3h0M276.3 94.0h0M311.1 72.0h0M278.7 93.1h0M304.0 81.3h0M318.0 70.8h0M281.1 101.8h0M277.5 92.4h0M277.3 101.5h0M332.1 53.2h0M286.9 89.0h0M271.8 100.1h0M307.1 75.8h0M290.3 83.8h0M292.7 82.4h0M276.3 88.1h0M255.6 114.3h0M280.8 96.2h0M275.4 105.0h0M265.7 93.0h0M274.6 102.7h0M277.0 92.2h0M306.8 70.3h0M305.1 82.9h0M301.9 82.0h0M284.0 87.5h0M271.7 100.9h0M298.2 88.5h0M300.9 78.4h0M310.1 63.6h0M292.7 83.4h0M290.9 83.5h0M298.4 73.8h0M277.3 84.5h0M279.4 95.1h0M304.0 80.4h0M271.7 101.4h0M291.8 88.8h0M306.4 83.0h0M297.2 83.0h0M300.5 85.2h0M274.3 92.1h0M291.1 87.4h0M288.6 103.5h0M303.5 83.5h0M300.4 77.8h0M293.8 88.3h0M325.5 65.9h0M302.6 81.7h0M288.6 93.8h0M283.0 89.7h0M292.9 88.6h0M283.8 98.0h0M321.2 59.9h0M303.2 85.1h0M288.3 88.2h0M282.5 99.6h0M275.4 101.6h0M289.0 91.9h0M315.9 75.4h0M307.9 78.3h0M292.8 77.8h0M296.1 90.2h0M262.2 97.7h0M306.7 71.1h0M290.0 79.3h0M317.1 70.9h0M290.8 81.5h0M285.6 90.4h0M297.5 70.9h0M283.0 96.0h0M316.6 61.2h0M298.8 85.2h0M300.2 72.6h0M299.7 83.2h0M288.0 96.2h0M302.2 87.1h0M297.0 86.4h0M323.8 54.1h0M295.2 92.1h0M300.5 84.9h0M286.4 91.7h0M287.9 89.7h0M289.1 87.7h0M316.3 59.4h0M295.9 85.2h0M311.0 81.0h0M290.2 83.9h0M288.5 91.9h0M262.1 110.5h0M308.8 73.5h0M329.6 49.4h0M291.0 80.4h0M319.1 66.2h0M309.3 75.9h0M283.3 90.6h0M307.9 79.3h0M279.7 106.2h0M289.9 92.2h0M315.6 63.4h0M297.7 86.4h0M275.0 102.3h0M318.9 58.1h0M276.3 89.9h0M292.3 77.8h0M289.1 93.3h0M292.3 83.5h0M280.5 87.3h0M267.2 99.1h0M326.3 63.1h0M278.9 97.6h0M279.9 99.9h0M253.8 118.4h0M296.5 81.1h0M316.8 65.9h0M318.6 71.7h0M341.5 45.5h0M320.3 64.2h0M302.0 71.7h0M295.5 87.1h0M319.3 64.8h0M294.5 97.7h0M298.5 77.3h0M278.8 93.0h0M296.8 78.0h0M328.4 59.0h0M293.9 85.0h0M301.9 79.5h0M254.5 107.5h0M317.8 72.7h0M301.4 80.0h0M318.8 62.8h0M299.1 83.2h0M280.4 100.4h0M271.7 103.3h0M303.3 76.2h0M294.2 75.6h0M278.0 99.9h0M293.4 97.9h0M283.6 86.8h0M306.4 75.6h0M287.2 86.5h0M273.2 101.0h0M292.5 86.3h0M284.3 103.3h0M318.6 63.3h0M285.7 97.6h0M271.1 98.4h0M292.4 97.3h0M288.9 82.1h0M297.7 83.4h0M296.7 96.5h0M275.4 98.4h0M292.0 86.2h0M291.0 86.9h0M272.3 107.8h0M282.9 80.6h0M296.0 86.7h0M265.5 100.8h0M274.0 114.6h0M284.4 88.9h0M290.7 85.0h0M300.9 80.4h0M269.0 96.8h0M297.1 86.5h0M302.6 76.3h0M318.0 67.7h0M284.8 90.6h0M276.3 104.1h0M265.9 102.6h0M301.3 76.7h0M313.7 68.9h0M280.2 93.8h0M299.5 83.4h0M306.6 79.3h0M308.3 75.8h0M285.5 89.4h0M303.4 85.2h0M291.9 87.4h0M276.8 89.1h0M297.5 78.5h0M299.3 86.7h0M276.9 90.8h0M300.9 89.7h0M327.1 61.5h0M268.1 98.1h0M305.4 72.7h0M309.1 71.8h0M294.5 90.7h0M299.2 90.7h0M289.1 85.7h0M316.5 66.7h0M277.5 87.7h0M291.1 90.6h0M260.6 116.5h0M298.8 84.8h0M299.6 91.6h0M264.8 109.2h0M278.2 97.4h0M301.1 81.1h0M284.6 82.1h0M272.2 90.9h0M250.6 119.9h0M298.6 85.2h0M325.3 54.5h0M284.7 86.1h0M299.9 88.1h0M299.6 85.4h0M291.0 92.1h0M294.1 92.7h0M294.4 88.3h0M277.6 104.8h0M334.5 50.5h0M338.3 49.2h0M297.7 92.4h0M322.6 67.5h0M278.4 100.3h0M288.6 81.3h0M311.6 75.8h0M272.8 96.0h0M270.3 93.6h0M298.3 87.1h0M259.0 108.4h0M321.7 63.8h0M305.3 71.6h0M296.9 90.9h0M304.2 79.7h0M277.4 107.1h0M276.9 93.7h0M307.1 86.7h0M308.9 73.5h0M295.5 93.1h0M292.3 90.7h0M284.0 97.3h0M316.8 67.6h0M268.0 101.4h0M278.6 89.9h0M284.1 84.5h0M267.3 104.8h0M270.6 108.8h0M275.7 91.5h0M310.4 79.9h0M323.8 62.6h0M299.3 85.1h0M265.8 109.7h0M283.0 92.1h0M291.0 93.9h0M288.7 89.5h0M287.0 90.8h0M302.1 72.8h0M260.4 103.6h0M283.5 88.3h0M297.0 82.4h0M305.5 66.3h0M298.3 76.1h0M293.8 92.4h0M291.1 85.3h0M282.2 91.0h0M295.1 89.0h0M290.2 86.3h0M281.7 96.0h0M314.1 75.1h0M313.8 69.7h0M287.5 93.4h0M304.3 84.3h0M314.1 69.7h0M298.4 92.4h0M296.1 76.7h0M302.4 80.7h0M266.0 105.3h0M269.7 97.4h0M302.9 72.8h0M298.7 83.1h0M317.2 65.6h0M285.6 85.5h0M312.7 62.7h0M312.0 76.0h0M327.4 58.1h0M280.5 101.3h0M288.1 94.5h0M298.8 81.8h0M298.7 82.7h0M277.2 103.9h0M284.5 97.4h0M272.0 101.9h0M333.1 64.1h0M293.1 84.9h0M294.0 92.1h0M283.8 84.6h0M294.6 83.7h0M307.5 70.7h0M288.6 91.4h0M293.7 79.0h0M330.8 54.6h0M309.8 69.0h0M298.2 81.4h0M287.0 86.7h0M293.8 85.9h0M281.5 90.9h0M298.8 83.4h0M282.7 95.4h0M281.7 93.4h0M287.1 89.7h0M275.7 99.1h0M297.2 87.3h0M336.2 55.0h0M283.2 87.8h0M265.6 105.7h0M309.8 71.4h0M291.7 89.8h0M326.8 52.4h0M299.8 82.0h0M309.0 70.7h0M280.0 95.7h0M266.1 99.0h0M289.9 97.4h0M304.3 89.5h0M278.3 98.9h0M265.9 120.9h0M282.7 98.4h0M285.2 96.1h0M287.1 92.1h0M292.0 83.0h0M332.8 64.1h0M293.0 83.1h0M284.0 85.5h0M273.9 90.8h0M305.9 82.9h0M265.5 108.6h0M316.7 57.0h0M292.1 92.4h0M266.8 98.8h0M295.3 82.0h0M290.2 84.6h0M312.9 80.7h0M266.8 113.8h0M295.6 89.1h0M291.9 83.1h0M307.6 70.2h0M272.8 105.6h0M278.9 94.6h0M325.2 60.9h0M301.5 85.2h0M267.0 111.7h0M297.6 94.0h0M278.7 103.4h0M280.3 100.4h0M271.3 95.1h0M308.6 69.6h0M282.9 94.9h0M295.4 82.6h0M293.3 91.0h0M266.3 120.0h0M279.4 95.1h0M305.0 74.1h0M265.5 111.6h0M296.2 77.0h0M290.2 82.3h0M302.9 74.2h0M303.6 89.6h0M306.0 76.5h0M293.1 82.7h0M296.4 89.0h0M280.1 99.1h0M282.9 88.9h0M307.3 63.6h0M282.0 89.8h0M309.4 72.6h0M309.0 77.3h0M278.6 103.3h0M301.7 84.8h0M278.4 94.9h0M298.0 85.4h0M279.0 88.7h0M297.9 90.3h0M295.1 91.3h0M274.6 100.1h0M326.9 59.4h0M308.6 73.7h0M265.3 113.1h0M298.3 86.4h0M285.2 86.3h0M327.0 62.6h0M291.5 89.9h0M299.2 77.5h0M289.4 86.1h0M303.2 78.1h0M283.4 83.1h0M277.3 105.4h0M284.1 90.2h0M285.4 95.0h0M303.2 72.3h0M294.1 90.6h0M285.1 87.8h0M285.7 93.5h0M277.1 82.8h0M294.8 83.0h0M258.3 98.8h0M288.9 92.8h0M312.7 74.6h0M286.5 88.5h0M281.6 104.2h0M293.4 90.9h0M276.9 89.0h0M279.8 89.1h0M304.3 78.6h0M281.9 87.5h0M325.7 58.5h0M301.9 76.4h0M291.0 92.8h0M282.2 88.1h0M288.4 92.5h0M254.5 106.0h0M296.9 88.9h0M307.8 60.1h0M302.4 82.6h0M285.4 99.3h0M303.2 84.7h0M303.6 75.6h0M290.5 85.9h0M298.7 85.5h0M310.3 68.3h0M300.5 68.8h0M286.3 90.0h0M293.0 81.2h0M295.4 78.8h0M265.6 101.2h0M295.0 94.3h0M290.6 78.6h0M256.3 113.4h0M263.9 106.6h0M323.2 55.8h0M294.6 99.8h0M315.5 63.9h0M286.5 88.6h0M318.7 56.4h0M302.5 76.1h0M281.2 86.3h0M297.6 75.6h0M319.4 72.6h0M333.2 55.5h0M301.7 83.1h0M285.4 91.5h0M278.3 101.5h0M304.7 85.6h0M311.5 72.3h0M295.5 85.5h0M291.3 84.0h0M307.0 65.4h0M301.5 81.3h0M299.9 81.7h0M267.3 97.6h0M287.7 83.8h0M325.1 70.7h0M293.0 85.7h0M334.2 63.5h0M299.9 85.6h0M288.5 92.1h0M298.1 83.0h0M303.6 79.8h0M281.1 93.7h0M297.5 80.7h0M286.3 81.8h0M317.9 62.7h0M285.6 97.7h0M295.4 76.3h0M267.8 102.9h0M270.1 109.9h0M291.8 92.6h0M277.8 97.1h0M224.7 146.2h0M231.0 121.7h0M348.0 34.4h0M355.4 25.2h0" stroke="#7c7c7c" stroke-width="1.5" stroke-linecap="round" fill="none"/>
<path d="M223.3 138.4L355.7 38.6" stroke="#1f1f80" stroke-width="1.2" fill="none"/>
<rect x="220.9" y="23.2" width="95.6" height="24.6" rx="1.5" fill="#fff" fill-opacity="0.8" stroke="#efefef" stroke-width="0.8"/>
<path d="M223.6 29.3h16" stroke="#1f1f80" stroke-width="1.1"/>
<text class="s" transform="matrix(1,0,0,1.1,0,-3.26)" x="245.77 249.98 252.98 258.41 260.79 265.38 267.75 272.40 277.10 281.31 284.31 289.74 292.12 296.76 301.35 303.73 308.37" y="32.6" font-size="7.96">y = 0.69x + 21.55</text>
<text x="245.1" y="43.0" font-size="7.96" font-style="italic" class="s">R</text>
<text x="251.5" y="40.3" font-size="5.4" class="s">2</text>
<text x="256.7" y="43.0" font-size="7.96" class="s">=</text>
<text class="s" transform="matrix(1,0,0,1.1,0,-4.30)" x="263.91 268.50 270.87 275.52 280.16" y="43.0" font-size="7.96">0.865</text>
<rect x="217.5" y="19.5" width="145.0" height="133.0" fill="none" stroke="#3c3c3c" stroke-width="1"/>
<text class="s" transform="matrix(1,0,0,1.1,0,-16.24)" x="235.83 241.32 245.97" y="162.4" font-size="7.96">−20</text>
<text class="s" transform="matrix(1,0,0,1.1,0,-16.24)" x="268.39" y="162.4" font-size="7.96">0</text>
<text class="s" transform="matrix(1,0,0,1.1,0,-16.24)" x="294.46 299.11" y="162.4" font-size="7.96">20</text>
<text class="s" transform="matrix(1,0,0,1.1,0,-16.24)" x="322.56 327.21" y="162.4" font-size="7.96">40</text>
<text class="s" transform="matrix(1,0,0,1.1,0,-16.24)" x="350.46 355.11" y="162.4" font-size="7.96">60</text>
<text class="s" transform="matrix(1,0,0,1.1,0,-15.43)" x="199.93 205.42 210.06" y="154.3" font-size="7.96">−10</text>
<text class="s" transform="matrix(1,0,0,1.1,0,-13.90)" x="210.06" y="139.0" font-size="7.96">0</text>
<text class="s" transform="matrix(1,0,0,1.1,0,-12.37)" x="205.42 210.06" y="123.7" font-size="7.96">10</text>
<text class="s" transform="matrix(1,0,0,1.1,0,-10.84)" x="205.42 210.06" y="108.4" font-size="7.96">20</text>
<text class="s" transform="matrix(1,0,0,1.1,0,-9.31)" x="205.42 210.06" y="93.1" font-size="7.96">30</text>
<text class="s" transform="matrix(1,0,0,1.1,0,-7.77)" x="205.42 210.06" y="77.7" font-size="7.96">40</text>
<text class="s" transform="matrix(1,0,0,1.1,0,-6.24)" x="205.42 210.06" y="62.4" font-size="7.96">50</text>
<text class="s" transform="matrix(1,0,0,1.1,0,-4.71)" x="205.42 210.06" y="47.1" font-size="7.96">60</text>
<text class="s" transform="matrix(1,0,0,1.1,0,-3.18)" x="205.42 210.06" y="31.8" font-size="7.96">70</text>
<path d="M242.8 152.5v2.5M270.6 152.5v2.5M299.0 152.5v2.5M327.1 152.5v2.5M355.0 152.5v2.5M217.5 150.8h-2.5M217.5 135.5h-2.5M217.5 120.2h-2.5M217.5 104.9h-2.5M217.5 89.6h-2.5M217.5 74.2h-2.5M217.5 58.9h-2.5M217.5 43.6h-2.5M217.5 28.3h-2.5" stroke="#333" stroke-width="0.8"/>
<text class="s" transform="matrix(1,0,0,1.1,0,-17.14)" x="233.91 240.01 242.86 247.25 251.87 256.50 261.09 263.15 267.99 269.84 274.69 277.33 281.91 284.02 289.50 292.23 294.80 299.36 303.99 308.54 313.31 315.98 317.90 322.44 327.03 329.39 332.01 337.43 343.07" y="171.4" font-size="7.96">Ground Truth Attenuation (HU)</text>
<text class="s" transform="translate(195.3,86.0) rotate(-90) scale(1,1.1)" x="-49.98 -43.48 -39.00 -34.64 -30.64 -25.94 -23.08 -18.68 -14.10 -11.99 -6.51 -3.78 -1.21 3.35 7.98 12.53 17.30 19.97 21.89 26.44 31.02 33.38 36.00 41.42 47.06" y="0" font-size="7.96">Measured Attenuation (HU)</text>
<text class="s" transform="matrix(1,0,0,1.1,0,-0.67)" x="251.10 256.70 260.86 264.01 269.42 271.41 277.38 282.86 288.66 296.87 302.34 308.09 311.23 316.89 320.03 325.52" y="6.7" font-size="9.02">TotalSegmentator</text>
<text class="s" transform="matrix(1,0,0,1.1,0,-1.67)" x="247.80 255.60 260.91 265.60 270.48 272.89 278.23 280.86 287.33 290.61 293.77 299.24 304.79 310.25 315.91 319.09 321.48 326.94" y="16.6" font-size="9.02">Muscle Attenuation</text>
<text transform="translate(276.00,0) scale(1.14,1) translate(-276.00,0)" x="217.18 222.78 230.78 236.37 241.17 251.57 259.57 264.37 277.57 285.57 291.25 297.64 301.63 308.02 312.82 323.63 329.22" y="200.8" font-size="14.8" font-family='"Liberation Serif", serif' fill="#1c1c1c">(b) TS Muscle Att</text>
<path d="M414.2 19.5V152.5M444.5 19.5V152.5M473.8 19.5V152.5M503.6 19.5V152.5M533.4 19.5V152.5M410.5 146.5H551.5M410.5 119.9H551.5M410.5 93.3H551.5M410.5 66.8H551.5M410.5 40.2H551.5" stroke="#e2e2e2" stroke-width="0.9" fill="none"/>
<path d="M473.6 91.1h0M419.4 142.9h0M453.0 109.0h0M439.3 125.3h0M460.5 104.5h0M443.6 122.9h0M473.6 88.7h0M438.8 124.1h0M432.9 128.9h0M446.5 120.1h0M444.3 117.9h0M434.5 128.4h0M435.6 128.7h0M448.8 116.7h0M448.5 118.9h0M433.1 130.4h0M434.4 128.0h0M424.0 139.1h0M469.5 95.8h0M435.9 129.2h0M460.9 110.7h0M444.1 120.7h0M477.2 85.3h0M465.8 97.3h0M442.6 122.7h0M464.3 98.5h0M429.3 132.6h0M459.2 105.5h0M425.8 137.1h0M443.0 119.9h0M455.1 110.4h0M441.3 123.5h0M434.4 127.9h0M430.4 133.4h0M434.6 128.1h0M454.8 107.5h0M451.8 114.6h0M435.5 128.0h0M427.2 135.1h0M448.0 119.8h0M425.9 137.1h0M432.8 131.2h0M431.0 132.8h0M449.2 117.3h0M441.5 120.9h0M444.7 121.3h0M442.0 122.5h0M431.5 131.1h0M445.8 116.3h0M462.7 107.0h0M438.0 127.7h0M447.4 119.3h0M437.0 127.3h0M454.4 109.1h0M447.9 117.2h0M451.5 113.4h0M443.1 119.1h0M468.4 98.8h0M434.4 128.9h0M434.7 126.5h0M432.2 130.2h0M447.0 118.8h0M432.0 132.1h0M431.8 130.3h0M448.9 118.0h0M457.1 110.3h0M446.4 117.0h0M420.5 140.7h0M429.2 132.1h0M428.4 135.5h0M427.5 134.9h0M434.0 133.4h0M473.4 95.7h0M435.0 125.0h0M431.0 130.5h0M448.4 115.2h0M439.3 126.0h0M439.9 125.9h0M431.4 130.6h0M438.4 125.7h0M444.3 121.5h0M423.5 138.3h0M425.0 136.9h0M455.5 111.3h0M450.9 114.9h0M433.0 127.8h0M428.8 135.1h0M436.3 126.1h0M427.5 135.9h0M434.6 129.9h0M468.7 100.3h0M440.1 124.2h0M457.2 108.3h0M435.9 126.8h0M443.4 122.2h0M462.1 102.8h0M426.6 136.6h0M434.6 129.8h0M436.6 126.3h0M442.1 121.5h0M466.2 103.7h0M448.2 116.3h0M425.7 138.5h0M435.4 129.6h0M429.7 131.7h0M429.5 132.2h0M479.8 88.0h0M428.4 133.9h0M441.5 120.9h0M431.2 130.2h0M451.3 110.6h0M443.1 122.5h0M440.0 124.2h0M437.5 126.2h0M456.6 114.0h0M429.4 134.4h0M431.1 131.7h0M428.1 135.0h0M460.9 106.3h0M435.1 130.0h0M428.6 134.9h0M433.9 129.7h0M437.2 127.1h0M451.1 112.0h0M444.8 118.6h0M438.3 127.4h0M431.3 130.9h0M434.7 128.9h0M434.5 128.2h0M422.2 140.5h0M452.4 111.1h0M439.9 125.3h0M436.1 126.4h0M430.5 132.7h0M452.9 112.9h0M436.3 129.2h0M445.0 122.3h0M426.3 135.7h0M443.5 122.8h0M479.0 91.8h0M435.2 128.0h0M450.2 114.9h0M438.9 124.4h0M455.9 112.3h0M455.2 114.6h0M439.2 126.2h0M432.5 129.8h0M442.2 122.3h0M439.0 124.5h0M432.0 130.8h0M444.6 119.8h0M444.3 120.1h0M429.7 133.6h0M437.1 126.5h0M450.5 114.0h0M439.7 125.4h0M433.5 129.3h0M421.2 141.0h0M423.5 139.0h0M425.5 137.3h0M441.8 121.3h0M453.4 112.2h0M422.4 139.1h0M456.2 111.4h0M427.3 135.0h0M441.8 124.9h0M444.8 119.8h0M444.3 121.1h0M438.5 126.1h0M440.6 125.1h0M427.9 135.0h0M442.1 121.5h0M453.5 115.5h0M452.4 113.1h0M455.5 109.6h0M448.9 115.0h0M469.0 96.5h0M441.5 124.4h0M426.9 135.0h0M422.1 140.8h0M459.6 105.1h0M446.3 118.1h0M451.0 115.2h0M434.7 130.0h0M443.0 121.8h0M475.3 87.6h0M442.9 120.7h0M428.1 135.4h0M433.7 128.9h0M462.1 100.1h0M428.3 132.6h0M420.9 142.4h0M421.9 139.9h0M426.6 135.4h0M450.2 116.4h0M439.5 127.2h0M430.8 131.1h0M426.9 136.3h0M437.1 128.9h0M436.6 128.6h0M432.5 130.1h0M435.6 125.4h0M430.8 131.5h0M472.9 96.2h0M421.6 139.7h0M440.0 126.9h0M428.8 133.2h0M448.6 114.8h0M435.8 125.7h0M443.3 119.7h0M445.8 117.1h0M441.1 123.1h0M453.7 112.3h0M426.3 136.4h0M452.9 108.6h0M435.9 128.5h0M443.5 121.1h0M466.2 101.1h0M456.3 107.8h0M478.5 87.3h0M422.1 138.8h0M429.2 131.6h0M453.2 109.9h0M428.0 134.1h0M436.3 127.6h0M470.3 100.2h0M451.5 113.3h0M429.2 133.8h0M444.6 121.8h0M447.6 116.9h0M439.3 123.4h0M437.3 127.8h0M440.2 122.7h0M425.6 136.6h0M440.0 124.9h0M429.1 133.7h0M443.7 119.6h0M444.2 120.6h0M429.7 133.4h0M447.0 115.5h0M443.2 120.4h0M437.9 125.3h0M448.9 116.9h0M434.9 127.8h0M435.2 126.6h0M439.4 126.0h0M437.7 128.4h0M456.7 110.5h0M421.6 140.7h0M435.0 129.9h0M423.1 140.6h0M432.8 128.7h0M441.4 123.5h0M438.2 126.9h0M452.7 118.1h0M442.2 120.8h0M420.2 142.8h0M427.8 133.9h0M465.2 99.6h0M465.2 100.4h0M439.1 125.3h0M425.1 136.7h0M483.0 86.4h0M422.5 139.6h0M441.7 123.4h0M437.1 127.1h0M440.7 121.2h0M427.2 134.6h0M433.3 131.2h0M453.9 113.1h0M432.5 130.9h0M425.9 136.9h0M437.3 125.9h0M438.5 126.0h0M435.9 129.1h0M429.8 132.4h0M444.6 120.4h0M436.0 126.9h0M427.1 136.5h0M440.1 121.9h0M437.1 126.4h0M439.2 124.5h0M424.1 138.1h0M430.0 134.7h0M443.4 120.0h0M451.1 115.0h0M441.9 124.1h0M439.5 124.1h0M447.8 114.1h0M452.3 114.2h0M470.3 92.1h0M444.0 124.1h0M432.0 131.0h0M444.3 121.3h0M423.1 139.1h0M438.7 122.4h0M433.3 129.4h0M437.8 128.1h0M444.8 117.5h0M438.8 126.7h0M425.8 137.4h0M434.3 130.4h0M430.3 132.7h0M438.0 126.1h0M443.0 118.9h0M429.1 133.6h0M448.9 114.8h0M459.9 106.2h0M435.3 127.0h0M448.8 118.0h0M425.7 138.2h0M432.6 129.7h0M453.0 110.7h0M424.2 138.3h0M433.0 127.8h0M429.6 134.3h0M456.7 105.8h0M456.7 105.6h0M431.9 132.8h0M439.9 123.4h0M420.7 140.9h0M451.0 114.4h0M443.0 121.6h0M460.6 105.3h0M421.5 141.3h0M443.0 123.6h0M434.5 128.1h0M420.7 141.2h0M431.3 131.9h0M437.4 125.7h0M450.1 116.4h0M440.9 124.3h0M432.9 129.6h0M444.4 120.2h0M437.1 126.1h0M431.7 130.4h0M428.7 132.5h0M440.2 125.2h0M440.3 124.6h0M473.9 96.9h0M433.5 130.8h0M467.3 97.6h0M443.0 122.3h0M457.4 103.5h0M429.6 133.9h0M429.8 135.1h0M434.9 129.8h0M451.8 109.3h0M440.6 124.9h0M449.3 115.8h0M442.6 123.1h0M454.4 113.2h0M440.9 121.6h0M432.8 131.9h0M445.5 122.1h0M439.6 125.6h0M471.4 97.0h0M436.6 126.6h0M439.8 124.2h0M435.0 127.1h0M457.0 109.0h0M451.5 112.8h0M447.7 116.3h0M427.2 134.7h0M425.6 138.1h0M441.9 123.0h0M448.8 121.0h0M464.3 103.7h0M424.1 139.4h0M436.5 128.4h0M424.6 136.7h0M429.2 132.8h0M435.9 129.7h0M453.1 108.6h0M432.8 129.1h0M431.1 131.9h0M434.9 128.9h0M459.2 106.8h0M425.4 137.2h0M435.3 127.5h0M433.7 130.1h0M457.2 106.2h0M444.3 120.8h0M465.8 102.1h0M428.8 134.3h0M438.6 125.0h0M433.5 129.5h0M428.2 134.7h0M436.6 129.2h0M427.6 136.5h0M484.8 88.6h0M444.1 121.0h0M428.8 133.5h0M432.1 131.2h0M470.9 95.8h0M433.3 130.7h0M448.4 117.2h0M446.6 119.4h0M455.7 107.6h0M447.4 119.6h0M436.0 128.9h0M432.2 130.6h0M424.2 138.6h0M437.9 125.2h0M440.2 124.7h0M434.4 128.6h0M436.8 126.8h0M427.4 136.6h0M484.8 81.2h0M433.1 128.9h0M428.6 135.0h0M432.2 131.3h0M436.5 126.5h0M449.2 113.1h0M421.4 140.6h0M445.5 115.3h0M432.0 131.7h0M436.4 124.9h0M454.2 112.6h0M449.6 115.4h0M431.5 132.8h0M437.3 125.2h0M475.0 90.0h0M461.5 108.3h0M451.4 118.6h0M438.6 122.5h0M453.2 112.6h0M443.8 123.4h0M432.7 131.7h0M428.9 134.5h0M445.7 116.4h0M443.6 120.2h0M458.2 107.4h0M433.3 131.3h0M462.6 101.8h0M434.4 131.2h0M459.2 104.0h0M446.1 117.1h0M432.4 131.5h0M429.3 135.2h0M437.1 127.6h0M435.5 128.4h0M452.8 108.6h0M431.4 130.0h0M425.8 137.4h0M438.3 126.7h0M476.7 94.4h0M468.5 97.0h0M432.0 131.9h0M435.4 127.4h0M442.7 121.7h0M431.6 132.2h0M435.7 129.3h0M435.4 130.3h0M428.6 133.8h0M432.0 132.8h0M433.3 129.4h0M441.5 125.3h0M427.6 137.6h0M439.8 124.3h0M429.1 134.5h0M430.4 131.8h0M428.0 134.9h0M459.2 106.7h0M461.2 102.7h0M450.5 115.8h0M435.8 127.1h0M439.3 121.4h0M442.3 121.8h0M444.6 121.5h0M446.8 118.0h0M465.6 102.6h0M419.7 142.5h0M432.6 128.9h0M448.1 118.5h0M434.5 130.6h0M436.6 126.5h0M464.7 102.4h0M440.9 123.6h0M472.4 95.9h0M437.9 125.7h0M441.5 120.6h0M428.4 133.9h0M423.2 139.5h0M433.9 130.0h0M439.2 126.1h0M434.6 130.0h0M426.6 135.3h0M447.8 116.1h0M439.3 124.1h0M438.6 124.7h0M430.6 133.2h0M468.7 97.7h0M464.3 100.5h0M442.5 119.5h0M437.1 126.4h0M441.7 122.5h0M470.0 98.5h0M438.6 124.0h0M433.8 130.0h0M424.0 138.3h0M428.2 134.3h0M451.5 115.0h0M445.3 118.8h0M460.9 102.3h0M430.0 134.0h0M425.0 138.0h0M440.3 125.0h0M444.0 120.4h0M456.9 104.2h0M424.6 137.6h0M433.5 128.5h0M435.5 127.9h0M426.5 136.6h0M436.6 127.2h0M450.2 114.3h0M438.1 126.1h0M426.0 136.7h0M443.1 121.2h0M451.3 115.0h0M445.9 116.3h0M450.0 114.1h0M424.8 137.8h0M444.8 120.7h0M446.9 117.2h0M434.3 130.1h0M437.8 127.7h0M430.7 132.8h0M458.8 104.1h0M435.1 128.7h0M429.3 133.5h0M440.8 124.7h0M439.9 123.5h0M448.0 117.8h0M430.2 133.5h0M431.5 132.6h0M443.6 121.1h0M487.3 84.1h0M444.9 120.4h0M426.5 136.4h0M440.6 124.9h0M430.6 134.5h0M423.8 138.3h0M431.4 133.1h0M432.4 133.1h0M444.1 120.4h0M460.7 105.2h0M456.7 106.5h0M450.4 112.3h0M433.8 132.3h0M440.5 124.5h0M438.0 125.6h0M462.7 106.3h0M431.7 130.3h0M432.6 130.3h0M464.9 102.8h0M446.5 119.1h0M433.6 129.5h0M440.6 120.6h0M440.4 121.1h0M440.9 125.4h0M450.3 113.6h0M443.4 123.3h0M436.4 127.6h0M433.1 131.5h0M424.4 138.3h0M433.7 130.3h0M456.9 107.9h0M441.4 123.9h0M431.7 130.8h0M435.7 128.1h0M430.0 134.0h0M442.3 119.9h0M479.5 86.7h0M473.3 94.0h0M458.1 107.3h0M450.0 113.7h0M435.9 128.0h0M427.3 136.1h0M438.7 125.5h0M433.6 130.5h0M450.9 115.1h0M440.6 121.3h0M432.5 130.0h0M444.8 117.7h0M429.7 133.9h0M456.9 112.3h0M447.0 118.4h0M437.4 125.7h0M430.9 132.8h0M438.9 124.9h0M441.5 124.2h0M449.9 114.2h0M448.8 116.9h0M442.9 121.6h0M431.6 131.0h0M442.6 122.9h0M433.5 131.2h0M428.7 135.1h0M452.2 111.9h0M431.7 131.9h0M427.6 134.3h0M439.7 123.7h0M423.5 138.1h0M437.8 125.9h0M444.7 118.0h0M433.9 128.7h0M441.6 125.5h0M484.7 78.5h0M463.2 100.7h0M452.8 113.2h0M447.0 119.8h0M433.0 132.5h0M436.9 126.7h0M435.3 129.4h0M438.9 126.7h0M440.0 125.5h0M430.4 134.4h0M467.9 96.1h0M428.6 135.2h0M443.3 121.2h0M454.6 110.4h0M438.1 125.3h0M431.6 131.9h0M438.8 124.0h0M477.2 91.6h0M447.3 113.9h0M435.2 130.4h0M446.6 117.0h0M436.2 124.8h0M423.7 139.5h0M441.6 120.6h0M454.7 106.6h0M457.0 109.5h0M437.7 124.2h0M426.2 137.0h0M457.9 107.0h0M436.6 127.4h0M449.1 117.5h0M456.5 111.3h0M442.9 122.4h0M437.7 128.2h0M431.9 131.2h0M433.7 129.6h0M438.8 123.7h0M433.4 129.6h0M443.2 121.5h0M423.3 139.3h0M428.8 131.8h0M438.0 128.0h0M431.3 133.4h0M432.6 128.2h0M427.8 134.0h0M447.8 116.7h0M467.9 97.0h0M428.8 133.2h0M456.6 111.9h0M425.8 137.1h0M440.0 123.1h0M423.0 138.8h0M444.8 118.0h0M438.5 125.1h0M440.0 124.6h0M457.9 108.9h0M446.4 117.2h0M437.9 126.0h0M430.1 132.5h0M438.8 123.3h0M431.1 130.7h0M433.6 131.3h0M463.7 99.5h0M451.0 115.7h0M441.8 124.9h0M446.8 114.3h0M425.8 136.6h0M439.4 125.4h0M424.4 138.4h0M431.3 130.9h0M442.9 118.4h0M443.0 119.3h0M447.9 117.2h0M439.9 125.8h0M438.5 125.5h0M437.9 124.6h0M461.5 103.0h0M459.1 109.3h0M425.6 136.8h0M439.4 123.7h0M458.7 108.7h0M435.0 127.5h0M440.5 121.5h0M431.6 130.6h0M427.1 136.4h0M439.3 125.1h0M433.3 130.2h0M435.7 128.3h0M425.5 136.3h0M427.2 135.4h0M435.8 127.7h0M432.7 130.2h0M444.5 120.7h0M427.7 136.3h0M446.7 117.7h0M444.5 120.5h0M438.0 124.9h0M445.5 118.6h0M436.0 128.0h0M434.7 127.5h0M436.5 127.2h0M426.2 137.6h0M436.3 125.4h0M447.5 115.2h0M424.3 138.2h0M445.7 121.4h0M430.5 133.6h0M432.9 129.3h0M437.6 126.3h0M439.5 125.0h0M457.9 106.6h0M435.0 129.3h0M466.0 101.3h0M437.0 125.2h0M442.7 120.8h0M445.5 117.8h0M430.3 132.2h0M427.0 134.7h0M438.0 124.7h0M446.1 119.8h0M448.8 116.3h0M433.1 128.3h0M468.0 97.6h0M435.6 125.8h0M430.5 132.9h0M454.9 113.1h0M456.4 108.7h0M428.7 134.7h0M449.4 116.7h0M426.7 136.6h0M438.3 128.2h0M486.6 79.2h0M459.1 106.7h0M448.2 118.2h0M447.4 120.1h0M430.2 132.2h0M442.8 121.4h0M444.6 118.8h0M428.7 133.8h0M441.2 121.8h0M446.3 118.4h0M441.5 124.8h0M444.6 119.6h0M436.1 126.4h0M428.3 135.9h0M439.2 125.3h0M423.6 137.6h0M431.5 133.0h0M456.4 106.2h0M473.5 95.6h0M444.5 122.6h0M421.6 140.9h0M461.9 105.3h0M446.6 116.5h0M436.8 129.7h0M450.1 116.6h0M446.8 119.6h0M427.9 136.0h0M427.2 135.5h0M455.6 111.0h0M422.1 140.2h0M447.7 117.7h0M443.4 119.6h0M454.5 112.2h0M472.8 94.0h0M462.3 101.8h0M467.8 97.4h0M451.7 113.5h0M446.4 117.1h0M456.6 108.1h0M439.2 124.3h0M430.1 132.9h0M438.4 124.3h0M425.5 136.2h0M433.3 130.8h0M483.5 82.4h0M446.7 117.3h0M437.2 125.7h0M432.8 131.3h0M424.6 138.9h0M433.4 130.3h0M431.2 130.8h0M439.2 126.1h0M440.2 122.5h0M438.3 125.5h0M423.8 138.4h0M465.0 100.5h0M445.2 119.9h0M439.2 125.1h0M435.4 127.5h0M445.1 117.0h0M459.9 105.3h0M447.7 116.3h0M428.1 135.5h0M427.4 135.4h0M421.8 139.7h0M440.5 122.1h0M449.2 116.1h0M458.8 106.8h0M440.4 124.3h0M450.8 115.7h0M429.7 132.8h0M445.8 119.5h0M437.1 124.7h0M431.6 133.9h0M424.7 139.2h0M457.0 111.1h0M422.1 140.2h0M447.2 117.9h0M430.4 133.5h0M446.9 123.2h0M432.6 130.6h0M449.3 118.6h0M435.9 126.1h0M428.6 134.3h0M432.9 131.4h0M425.0 137.8h0M441.9 120.1h0M454.5 111.5h0M444.0 122.4h0M439.7 128.0h0M459.7 106.4h0M427.7 135.9h0M446.1 116.8h0M438.5 125.3h0M433.3 128.9h0M446.0 119.5h0M427.9 135.8h0M436.8 125.8h0M442.8 121.9h0M427.7 135.8h0M435.7 128.1h0M445.6 117.5h0M452.9 113.6h0M429.3 131.8h0M451.9 112.4h0M435.1 130.0h0M439.6 126.1h0M432.6 130.9h0M449.8 115.9h0M431.2 132.4h0M442.1 122.5h0M443.4 120.7h0M449.3 116.1h0M428.6 134.9h0M449.7 118.8h0M438.8 123.0h0M463.5 102.2h0M434.6 128.4h0M432.4 130.8h0M437.7 124.6h0M434.9 128.7h0M436.4 125.8h0M427.0 136.3h0M422.7 139.8h0M425.8 136.4h0M432.2 130.5h0M444.1 118.6h0M434.9 129.5h0M429.1 133.4h0M436.5 127.9h0M439.1 126.9h0M459.4 104.2h0M440.7 123.6h0M425.9 137.7h0M436.3 128.4h0M434.9 128.1h0M446.0 118.8h0M482.8 85.2h0M437.6 125.5h0M423.2 139.2h0M437.0 129.2h0M424.6 137.3h0M450.7 115.3h0M455.8 110.5h0M442.8 125.3h0M425.7 139.7h0M436.3 127.4h0M458.1 108.6h0M428.8 134.2h0M432.2 130.9h0M441.7 121.4h0M445.2 117.4h0M439.4 123.1h0M442.9 123.1h0M441.1 124.4h0M432.3 130.9h0M437.4 124.6h0M442.1 120.6h0M428.2 135.2h0M440.9 125.1h0M439.6 124.1h0M487.8 80.9h0M489.6 76.4h0M492.6 73.1h0M486.1 80.8h0M483.3 87.2h0M485.3 86.5h0M488.4 80.6h0M485.5 80.8h0M488.5 79.9h0M493.3 72.7h0M487.7 81.7h0M493.2 71.5h0M491.7 75.5h0M485.4 83.4h0M492.0 78.9h0M491.7 77.2h0M492.1 76.1h0M489.6 73.3h0M489.8 78.1h0M487.1 78.7h0M486.0 88.5h0M488.7 76.1h0M506.6 63.3h0M518.5 53.4h0M526.0 48.3h0M533.4 39.8h0M545.3 26.0h0" stroke="#7c7c7c" stroke-width="1.5" stroke-linecap="round" fill="none"/>
<path d="M416.5 145.2L545.3 28.0" stroke="#1f1f80" stroke-width="1.2" fill="none"/>
<rect x="413.9" y="23.2" width="98.2" height="24.6" rx="1.5" fill="#fff" fill-opacity="0.8" stroke="#efefef" stroke-width="0.8"/>
<path d="M416.6 29.3h16" stroke="#1f1f80" stroke-width="1.1"/>
<text class="s" transform="matrix(1,0,0,1.1,0,-3.26)" x="438.77 442.98 445.98 451.41 453.79 458.38 460.75 465.40 470.10 474.31 477.31 482.74 485.00 487.75 492.40 496.99 499.36 504.01" y="32.6" font-size="7.96">y = 1.02x + -57.28</text>
<text x="438.1" y="43.0" font-size="7.96" font-style="italic" class="s">R</text>
<text x="444.5" y="40.3" font-size="5.4" class="s">2</text>
<text x="449.7" y="43.0" font-size="7.96" class="s">=</text>
<text class="s" transform="matrix(1,0,0,1.1,0,-4.30)" x="456.91 461.50 463.87 468.52 473.16" y="43.0" font-size="7.96">0.993</text>
<rect x="410.5" y="19.5" width="141.0" height="133.0" fill="none" stroke="#3c3c3c" stroke-width="1"/>
<text class="s" transform="matrix(1,0,0,1.1,0,-16.24)" x="411.99" y="162.4" font-size="7.96">0</text>
<text class="s" transform="matrix(1,0,0,1.1,0,-16.24)" x="435.32 439.96 444.61 449.25" y="162.4" font-size="7.96">2000</text>
<text class="s" transform="matrix(1,0,0,1.1,0,-16.24)" x="464.62 469.26 473.91 478.55" y="162.4" font-size="7.96">4000</text>
<text class="s" transform="matrix(1,0,0,1.1,0,-16.24)" x="494.42 499.06 503.71 508.35" y="162.4" font-size="7.96">6000</text>
<text class="s" transform="matrix(1,0,0,1.1,0,-16.24)" x="524.22 528.86 533.51 538.15" y="162.4" font-size="7.96">8000</text>
<text class="s" transform="matrix(1,0,0,1.1,0,-15.00)" x="403.06" y="150.0" font-size="7.96">0</text>
<text class="s" transform="matrix(1,0,0,1.1,0,-12.34)" x="389.13 393.78 398.42 403.06" y="123.4" font-size="7.96">2000</text>
<text class="s" transform="matrix(1,0,0,1.1,0,-9.69)" x="389.13 393.78 398.42 403.06" y="96.8" font-size="7.96">4000</text>
<text class="s" transform="matrix(1,0,0,1.1,0,-7.03)" x="389.13 393.78 398.42 403.06" y="70.3" font-size="7.96">6000</text>
<text class="s" transform="matrix(1,0,0,1.1,0,-4.37)" x="389.13 393.78 398.42 403.06" y="43.7" font-size="7.96">8000</text>
<path d="M414.2 152.5v2.5M444.5 152.5v2.5M473.8 152.5v2.5M503.6 152.5v2.5M533.4 152.5v2.5M410.5 146.5h-2.5M410.5 119.9h-2.5M410.5 93.3h-2.5M410.5 66.8h-2.5M410.5 40.2h-2.5" stroke="#333" stroke-width="0.8"/>
<text class="s" transform="matrix(1,0,0,1.1,0,-17.14)" x="431.13 437.22 440.07 444.46 449.08 453.71 458.30 460.36 465.20 467.05 471.91 474.54 479.12 481.23 486.40 490.41 492.41 497.18 504.08 508.59 510.96 513.73 517.96 524.97 527.86" y="171.4" font-size="7.96">Ground Truth Volume (cm³)</text>
<text class="s" transform="translate(385.0,86.0) rotate(-90) scale(1,1.1)" x="-43.76 -37.27 -32.79 -28.42 -24.43 -19.73 -16.87 -12.47 -7.88 -5.78 -0.61 3.40 5.40 10.17 17.07 21.59 23.95 26.72 30.96 37.96 40.85" y="0" font-size="7.96">Measured Volume (cm³)</text>
<text class="s" transform="matrix(1,0,0,1.1,0,-0.67)" x="442.10 447.70 451.86 455.01 460.42 462.41 468.38 473.86 479.66 487.87 493.34 499.09 502.23 507.89 511.03 516.52" y="6.7" font-size="9.02">TotalSegmentator</text>
<text class="s" transform="matrix(1,0,0,1.1,0,-1.67)" x="424.05 430.10 435.66 441.10 446.03 451.78 454.93 460.39 465.86 471.23 476.69 482.00 486.68 489.09 494.54 499.39 502.50 505.13 511.31 516.03 518.52 524.31 532.52" y="16.6" font-size="9.02">Subcutaneous Fat Volume</text>
<text transform="translate(465.60,0) scale(1.14,1) translate(-465.60,0)" x="418.80 424.34 430.67 436.20 440.95 451.25 459.17 463.92 473.21 480.34 485.88 490.63 501.32 508.45" y="200.8" font-size="14.8" font-family='"Liberation Serif", serif' fill="#1c1c1c">(c) TS Fat Vol</text>
<path d="M612.5 19.5V152.5M635.5 19.5V152.5M658.6 19.5V152.5M681.9 19.5V152.5M705.5 19.5V152.5M729.3 19.5V152.5M600.5 146.6H740.5M600.5 131.2H740.5M600.5 115.7H740.5M600.5 100.2H740.5M600.5 84.8H740.5M600.5 69.3H740.5M600.5 53.9H740.5M600.5 38.5H740.5M600.5 23.0H740.5" stroke="#e2e2e2" stroke-width="0.9" fill="none"/>
<path d="M647.3 113.1h0M632.8 125.7h0M627.7 126.9h0M616.0 145.9h0M638.2 117.4h0M652.1 107.4h0M641.6 114.1h0M645.7 110.7h0M650.1 109.2h0M633.6 122.0h0M664.3 106.3h0M633.7 144.6h0M644.5 128.7h0M665.1 97.0h0M640.3 123.0h0M642.3 125.2h0M636.8 116.1h0M644.2 113.8h0M622.9 126.4h0M635.7 135.7h0M656.0 112.5h0M643.1 117.2h0M639.2 117.0h0M644.5 108.0h0M644.9 115.9h0M642.6 109.0h0M646.3 107.6h0M626.9 133.5h0M646.4 106.4h0M635.4 123.9h0M648.1 111.9h0M641.1 130.1h0M632.6 136.0h0M640.7 128.0h0M632.6 127.6h0M650.0 122.8h0M641.0 136.2h0M648.7 116.8h0M631.6 111.3h0M655.3 108.9h0M638.7 132.5h0M653.1 114.5h0M648.7 111.6h0M631.8 122.9h0M644.1 116.7h0M636.6 113.0h0M644.8 112.8h0M653.7 118.5h0M647.2 107.9h0M650.5 118.5h0M631.1 122.4h0M643.0 119.0h0M644.4 135.0h0M650.7 128.7h0M635.9 128.6h0M646.2 116.6h0M645.0 110.2h0M628.1 129.7h0M632.3 118.9h0M645.1 112.9h0M631.1 130.9h0M630.7 139.8h0M649.0 104.3h0M643.7 111.7h0M639.2 116.4h0M642.2 127.4h0M637.8 117.1h0M636.6 141.1h0M637.3 121.8h0M644.6 119.3h0M652.7 112.1h0M637.2 149.1h0M640.7 107.8h0M639.4 133.1h0M630.4 139.1h0M643.5 124.3h0M648.8 121.1h0M634.0 144.5h0M648.5 111.2h0M636.3 129.3h0M651.2 112.6h0M651.8 125.8h0M638.0 123.4h0M624.0 138.6h0M638.3 114.7h0M629.3 139.3h0M629.9 149.0h0M639.1 124.4h0M653.1 109.2h0M640.5 114.6h0M639.4 118.7h0M625.3 144.0h0M636.0 126.9h0M629.2 142.4h0M645.8 114.3h0M636.7 105.6h0M640.9 131.4h0M641.1 134.3h0M639.6 135.5h0M649.5 118.1h0M645.5 116.0h0M638.5 128.1h0M642.6 136.8h0M646.1 117.6h0M653.2 108.2h0M642.4 111.9h0M653.8 108.5h0M636.1 141.4h0M639.2 118.7h0M628.4 138.9h0M648.4 129.0h0M632.3 133.4h0M632.3 131.6h0M648.6 115.4h0M636.7 135.3h0M634.8 134.1h0M649.5 116.9h0M639.7 123.3h0M649.2 113.7h0M637.8 137.7h0M647.6 110.7h0M650.6 126.7h0M642.0 121.0h0M656.9 110.4h0M637.8 149.4h0M639.4 132.5h0M642.0 124.6h0M650.0 114.3h0M638.8 128.3h0M637.5 124.3h0M643.5 123.1h0M652.1 116.8h0M637.7 120.8h0M630.2 104.3h0M640.1 128.5h0M646.7 121.5h0M636.6 124.3h0M642.4 129.0h0M625.1 131.8h0M641.5 124.0h0M642.2 108.5h0M646.7 127.3h0M644.0 120.4h0M648.0 125.1h0M632.7 128.4h0M647.0 124.0h0M627.0 146.6h0M636.1 135.5h0M650.9 120.4h0M648.6 116.2h0M625.3 145.9h0M646.4 114.0h0M637.5 128.9h0M634.5 131.5h0M643.0 124.8h0M642.4 122.4h0M653.4 99.2h0M628.8 142.1h0M637.6 126.9h0M640.0 123.1h0M625.4 134.5h0M651.4 118.5h0M656.5 127.4h0M635.9 123.1h0M644.6 115.4h0M638.9 118.2h0M643.6 116.7h0M635.4 136.7h0M648.5 106.0h0M631.2 134.6h0M653.1 108.8h0M644.4 104.0h0M662.3 94.1h0M627.0 142.0h0M640.4 122.5h0M630.2 121.5h0M640.1 116.3h0M645.0 119.9h0M633.3 140.3h0M628.9 140.8h0M626.3 139.0h0M643.2 119.4h0M652.3 102.8h0M651.4 104.7h0M641.6 136.1h0M633.0 134.2h0M638.1 132.8h0M628.2 140.3h0M627.7 131.3h0M650.5 115.3h0M638.9 134.0h0M644.0 108.9h0M638.9 130.9h0M652.8 121.3h0M653.7 115.9h0M634.6 115.1h0M638.1 120.0h0M635.4 133.5h0M652.7 110.4h0M652.1 120.6h0M638.8 118.1h0M661.2 102.1h0M641.5 141.0h0M630.8 131.3h0M623.7 130.0h0M640.0 135.5h0M644.1 120.5h0M636.2 131.4h0M644.4 116.6h0M651.6 125.2h0M640.8 116.5h0M648.6 118.6h0M655.7 98.9h0M645.6 112.8h0M636.2 130.1h0M645.0 128.6h0M645.9 123.7h0M659.8 95.6h0M637.5 118.6h0M627.9 132.2h0M643.9 117.0h0M644.1 121.1h0M637.7 131.1h0M646.2 120.6h0M644.0 123.1h0M651.8 119.2h0M634.0 127.6h0M635.2 112.0h0M641.1 137.5h0M636.9 122.4h0M652.3 112.6h0M646.3 127.4h0M641.1 120.3h0M654.5 93.5h0M645.6 129.8h0M649.9 113.9h0M648.2 125.9h0M640.0 115.4h0M640.1 119.6h0M641.3 121.7h0M631.8 132.9h0M638.3 118.4h0M648.7 107.9h0M644.0 128.0h0M633.1 142.3h0M661.8 105.6h0M632.4 124.0h0M646.7 119.1h0M647.6 103.8h0M652.3 112.4h0M633.8 132.5h0M641.5 119.5h0M639.6 134.2h0M651.2 120.5h0M644.7 122.6h0M645.0 123.9h0M646.1 105.1h0M658.4 99.2h0M647.3 114.7h0M649.1 118.1h0M633.4 121.1h0M647.5 107.1h0M630.8 134.2h0M649.8 125.4h0M642.9 118.0h0M634.0 130.9h0M631.8 134.7h0M640.9 123.1h0M642.8 113.6h0M636.9 128.4h0M638.9 125.7h0M639.1 128.8h0M637.2 132.3h0M640.2 131.5h0M644.2 114.9h0M653.1 111.4h0M647.5 120.6h0M637.0 129.0h0M656.0 106.4h0M652.3 107.9h0M639.8 123.5h0M650.9 112.7h0M637.5 122.4h0M635.6 134.1h0M635.9 139.4h0M656.2 93.2h0M643.4 116.2h0M644.9 108.5h0M642.8 129.1h0M638.8 123.7h0M646.5 106.9h0M648.2 103.8h0M659.3 103.0h0M635.0 119.6h0M655.6 107.6h0M648.2 123.7h0M627.5 144.2h0M650.9 125.5h0M656.4 113.8h0M651.9 104.5h0M644.6 122.1h0M643.9 105.3h0M625.4 128.5h0M645.3 112.4h0M644.1 127.1h0M634.4 129.9h0M644.2 113.8h0M636.7 133.0h0M662.0 96.8h0M631.9 122.1h0M634.6 124.3h0M623.7 149.4h0M638.8 122.2h0M643.2 130.0h0M642.2 109.9h0M636.6 131.4h0M649.6 119.1h0M644.1 119.3h0M652.3 116.8h0M641.0 116.0h0M626.8 133.3h0M640.7 108.5h0M633.2 141.5h0M649.0 115.3h0M636.6 124.2h0M639.7 125.3h0M641.6 131.9h0M628.6 143.7h0M638.4 122.3h0M649.2 121.1h0M636.7 141.2h0M640.2 133.7h0M643.0 119.5h0M635.7 123.9h0M639.0 125.6h0M645.3 114.0h0M638.2 125.0h0M642.0 120.2h0M640.3 133.7h0M632.4 136.6h0M630.3 126.6h0M658.6 105.0h0M653.3 107.3h0M640.4 115.7h0M649.6 134.1h0M651.0 109.0h0M649.7 109.5h0M638.3 124.4h0M629.0 131.6h0M630.5 141.7h0M639.4 119.8h0M653.1 108.0h0M654.9 108.5h0M639.4 118.5h0M638.6 113.5h0M651.8 111.4h0M659.3 109.4h0M633.5 128.9h0M645.5 108.3h0M642.7 114.9h0M638.7 125.3h0M638.7 124.9h0M638.6 122.0h0M641.5 131.3h0M628.2 141.2h0M641.5 118.7h0M648.3 113.3h0M648.0 119.9h0M648.4 117.2h0M644.4 122.2h0M643.2 111.0h0M658.3 109.2h0M640.0 123.1h0M642.9 123.4h0M652.3 121.6h0M641.9 139.7h0M630.4 138.7h0M636.8 107.4h0M637.8 131.0h0M640.2 120.0h0M637.7 125.3h0M650.1 104.2h0M647.7 122.3h0M645.8 129.9h0M638.1 143.0h0M650.4 104.5h0M650.1 109.5h0M660.5 123.6h0M636.4 126.0h0M640.7 130.2h0M653.6 112.6h0M632.3 137.0h0M643.9 118.7h0M643.5 108.3h0M642.1 120.1h0M633.5 127.1h0M642.0 120.0h0M628.9 136.1h0M651.9 115.5h0M637.5 119.0h0M643.0 109.8h0M641.5 117.3h0M643.2 120.7h0M642.7 116.3h0M645.2 112.4h0M638.4 124.1h0M641.8 128.2h0M632.0 125.6h0M632.5 140.7h0M634.2 124.7h0M632.8 137.5h0M629.7 140.8h0M636.1 129.0h0M646.9 124.3h0M645.0 119.8h0M637.9 124.1h0M644.2 122.0h0M644.6 117.3h0M664.6 92.4h0M627.8 135.0h0M643.6 123.3h0M630.2 130.0h0M652.3 110.1h0M639.7 135.2h0M645.4 120.5h0M643.3 129.3h0M647.6 107.1h0M631.7 136.4h0M642.3 121.6h0M630.2 151.3h0M646.3 133.3h0M652.2 118.2h0M630.5 135.5h0M637.9 137.8h0M647.0 118.8h0M657.2 105.9h0M650.3 112.0h0M647.9 106.2h0M634.1 125.3h0M641.9 125.2h0M642.7 112.4h0M636.4 119.6h0M645.2 122.3h0M638.9 131.2h0M637.8 122.5h0M659.9 102.5h0M640.2 112.4h0M657.7 105.7h0M638.3 117.1h0M640.9 113.2h0M630.9 129.3h0M636.6 120.4h0M655.2 119.9h0M641.6 128.8h0M624.3 137.3h0M653.7 113.2h0M633.8 130.1h0M637.8 123.9h0M641.0 132.2h0M625.2 127.6h0M654.7 106.7h0M652.4 106.0h0M638.5 139.2h0M644.4 127.4h0M638.8 137.8h0M636.2 135.8h0M639.3 123.5h0M628.9 131.8h0M637.8 118.3h0M636.5 133.2h0M657.8 101.0h0M628.7 140.7h0M652.2 108.9h0M647.4 109.6h0M642.6 129.9h0M636.1 130.5h0M656.9 104.8h0M653.8 106.8h0M640.9 132.3h0M639.6 136.9h0M642.9 131.4h0M657.0 104.8h0M633.4 125.1h0M642.0 120.5h0M651.1 108.3h0M629.3 128.2h0M640.6 121.8h0M650.9 103.9h0M637.5 141.6h0M640.3 134.7h0M628.0 144.5h0M644.6 118.2h0M631.1 148.4h0M637.9 112.9h0M644.2 108.7h0M636.4 115.4h0M648.8 130.2h0M647.4 113.5h0M645.4 118.6h0M649.7 104.9h0M639.8 126.0h0M622.7 138.5h0M648.7 127.3h0M647.9 109.9h0M637.2 114.4h0M634.0 128.8h0M651.2 130.9h0M637.2 132.0h0M637.9 135.7h0M637.4 124.1h0M661.4 107.2h0M635.0 123.7h0M618.9 139.5h0M640.1 120.8h0M632.0 122.6h0M625.7 145.4h0M641.7 113.3h0M635.9 130.5h0M648.0 123.8h0M637.5 119.0h0M650.6 109.6h0M648.8 107.1h0M640.6 112.9h0M646.9 119.4h0M655.9 102.1h0M646.2 127.5h0M628.0 133.3h0M641.0 124.9h0M642.0 128.7h0M651.0 125.7h0M639.2 121.2h0M650.0 128.0h0M639.2 128.7h0M640.5 110.2h0M638.2 112.5h0M640.3 119.2h0M639.0 127.1h0M643.1 107.9h0M633.7 130.5h0M631.2 129.8h0M639.4 118.8h0M641.4 130.6h0M636.7 139.8h0M643.6 135.9h0M642.9 132.7h0M654.5 120.3h0M627.5 138.8h0M657.0 103.1h0M619.9 144.9h0M624.7 143.9h0M642.1 117.4h0M631.6 140.1h0M637.1 117.9h0M635.8 124.5h0M628.3 123.6h0M627.8 131.4h0M636.2 125.8h0M642.5 117.1h0M644.6 115.6h0M640.9 117.6h0M636.6 124.3h0M649.7 107.5h0M620.7 146.8h0M639.6 113.7h0M650.3 117.5h0M653.3 94.5h0M649.8 120.5h0M651.0 113.3h0M648.4 98.6h0M640.7 114.1h0M620.4 147.4h0M635.2 118.9h0M637.2 125.7h0M653.2 118.9h0M635.9 113.9h0M636.6 124.1h0M645.3 101.2h0M631.4 131.5h0M640.0 121.1h0M644.5 109.4h0M637.0 130.5h0M639.2 123.2h0M629.1 124.9h0M637.6 113.7h0M649.5 105.1h0M634.8 126.2h0M631.8 139.2h0M632.8 116.9h0M645.3 122.3h0M627.4 134.8h0M641.1 108.9h0M636.5 120.2h0M640.3 116.4h0M633.3 111.0h0M640.4 124.0h0M651.4 104.6h0M637.2 134.0h0M635.5 128.3h0M617.7 144.3h0M643.8 118.4h0M634.2 127.5h0M643.0 133.4h0M640.7 129.2h0M632.9 124.7h0M634.2 139.0h0M628.2 125.5h0M656.9 96.9h0M647.8 128.3h0M647.0 128.0h0M650.2 99.7h0M651.9 105.0h0M647.4 122.2h0M648.8 120.2h0M661.4 107.2h0M625.4 134.6h0M641.9 131.8h0M634.8 117.2h0M640.7 129.7h0M618.6 148.1h0M631.0 130.0h0M647.3 109.8h0M629.5 133.0h0M645.1 116.9h0M633.3 117.2h0M639.0 123.9h0M627.4 135.2h0M635.1 120.0h0M627.5 129.6h0M645.2 118.7h0M625.6 140.4h0M643.4 115.1h0M635.9 122.2h0M639.2 117.7h0M653.0 115.4h0M638.5 136.3h0M635.3 136.9h0M640.9 103.9h0M646.9 120.5h0M636.2 131.8h0M655.6 112.5h0M642.5 131.6h0M637.9 132.9h0M635.4 121.7h0M639.8 115.6h0M646.0 125.2h0M650.3 115.3h0M641.9 123.9h0M636.2 124.3h0M640.9 125.4h0M623.2 141.4h0M650.9 117.5h0M648.5 120.2h0M639.7 132.3h0M647.5 114.6h0M633.0 124.8h0M657.2 119.8h0M640.7 118.1h0M638.3 131.6h0M660.4 99.0h0M634.6 125.4h0M646.7 137.1h0M636.0 141.5h0M638.7 124.5h0M641.1 119.9h0M638.6 124.3h0M656.2 115.7h0M653.1 109.5h0M638.8 143.1h0M664.3 94.8h0M643.3 117.9h0M642.2 125.7h0M647.1 111.6h0M634.8 139.1h0M655.2 106.6h0M635.8 123.1h0M632.7 131.8h0M652.6 107.9h0M635.5 131.3h0M641.2 108.6h0M632.8 148.2h0M639.3 125.6h0M643.9 116.8h0M622.4 132.8h0M642.2 108.8h0M635.8 127.6h0M654.8 115.3h0M660.1 104.2h0M647.1 120.8h0M647.6 115.8h0M651.6 117.4h0M651.6 126.7h0M630.1 123.2h0M631.0 140.2h0M638.0 120.0h0M630.2 125.3h0M639.2 126.5h0M642.9 111.9h0M635.0 137.8h0M645.9 124.0h0M654.2 109.9h0M642.2 113.8h0M645.5 124.8h0M641.4 130.2h0M641.0 119.4h0M637.2 121.0h0M632.0 140.3h0M646.5 110.1h0M650.9 100.1h0M641.2 116.8h0M642.4 114.1h0M629.8 122.1h0M639.4 129.9h0M644.1 115.3h0M640.6 128.2h0M641.9 119.8h0M632.8 129.4h0M630.5 135.0h0M639.2 134.3h0M654.1 119.0h0M638.0 139.2h0M628.5 142.4h0M635.6 133.7h0M639.5 116.6h0M651.6 109.2h0M650.5 110.9h0M634.4 136.4h0M632.6 137.4h0M639.0 127.0h0M641.1 115.8h0M632.7 143.3h0M649.4 123.2h0M637.4 123.6h0M643.3 123.4h0M639.4 116.9h0M645.5 115.7h0M640.1 129.5h0M643.2 125.8h0M651.6 118.5h0M643.0 124.0h0M653.4 104.4h0M630.2 135.2h0M639.3 127.9h0M632.1 123.0h0M628.8 132.0h0M640.6 109.7h0M657.2 104.2h0M643.0 125.1h0M649.4 107.7h0M624.6 139.7h0M642.8 117.4h0M631.0 128.6h0M642.7 109.6h0M649.5 103.8h0M636.6 125.5h0M649.9 111.8h0M633.9 134.7h0M641.5 127.5h0M635.1 125.9h0M641.2 120.1h0M639.1 132.8h0M621.7 137.6h0M637.2 129.4h0M636.0 120.0h0M654.6 119.4h0M619.0 136.2h0M640.9 123.0h0M647.2 124.2h0M656.4 108.3h0M651.3 117.1h0M639.8 135.0h0M652.5 123.6h0M639.1 117.8h0M638.6 126.3h0M637.2 120.0h0M636.9 114.5h0M653.2 114.2h0M626.1 139.7h0M626.9 148.1h0M648.1 114.6h0M644.0 128.0h0M647.3 128.2h0M637.8 127.1h0M645.6 112.3h0M637.8 123.8h0M635.5 140.9h0M636.1 111.2h0M640.9 113.9h0M640.3 120.3h0M636.3 117.7h0M653.2 113.8h0M643.5 116.9h0M636.7 119.4h0M628.4 133.6h0M638.9 113.6h0M625.7 141.1h0M631.9 128.4h0M629.7 131.5h0M631.9 140.7h0M640.9 130.4h0M651.7 101.7h0M642.9 119.4h0M635.3 138.8h0M633.7 133.3h0M645.1 126.9h0M638.0 114.8h0M653.8 122.2h0M637.6 115.5h0M631.0 135.9h0M626.7 132.6h0M638.0 130.6h0M647.7 133.2h0M628.5 126.2h0M649.7 109.8h0M646.1 114.5h0M636.2 123.0h0M649.9 105.8h0M624.0 146.7h0M620.2 146.4h0M641.3 119.7h0M642.5 129.9h0M642.1 127.1h0M638.6 134.5h0M626.4 129.5h0M643.7 127.6h0M635.9 120.8h0M646.5 114.0h0M640.8 120.3h0M629.0 137.2h0M644.2 114.6h0M645.9 129.9h0M645.8 112.5h0M633.0 143.3h0M630.1 126.9h0M645.9 118.9h0M638.5 127.5h0M638.0 121.1h0M647.7 114.4h0M648.1 118.0h0M643.4 120.2h0M637.2 142.0h0M652.0 107.9h0M630.2 138.6h0M639.1 119.4h0M641.9 123.7h0M627.3 128.5h0M632.9 136.4h0M646.7 124.2h0M638.4 122.7h0M630.0 134.9h0M653.5 118.8h0M640.8 120.7h0M640.1 132.6h0M655.0 117.5h0M626.5 135.8h0M634.6 130.6h0M631.3 133.6h0M650.7 113.4h0M632.2 139.8h0M659.6 105.4h0M643.4 122.1h0M641.9 122.8h0M647.8 119.8h0M637.4 140.9h0M631.5 124.9h0M634.1 144.2h0M639.5 129.2h0M630.9 131.7h0M640.4 111.4h0M633.8 140.5h0M637.5 124.7h0M638.6 125.2h0M653.0 110.6h0M659.3 114.2h0M655.8 104.4h0M638.8 131.4h0M634.4 134.0h0M649.7 118.4h0M652.2 110.5h0M649.0 122.9h0M635.9 128.6h0M643.8 122.3h0M638.8 128.7h0M650.2 126.6h0M649.3 116.7h0M643.2 119.2h0M637.7 126.0h0M656.5 101.5h0M643.1 122.7h0M648.6 109.1h0M646.3 116.9h0M648.4 115.1h0M651.7 104.2h0M638.6 125.8h0M637.8 131.7h0M647.0 111.4h0M614.0 145.1h0M641.1 130.9h0M635.7 117.0h0M655.9 118.0h0M663.0 93.5h0M643.2 147.1h0M662.5 90.6h0M641.2 131.6h0M669.8 94.1h0M611.8 112.6h0M662.2 95.6h0M661.6 88.8h0M652.3 128.9h0M628.2 144.3h0M647.1 138.4h0M625.0 116.8h0M665.5 114.8h0M618.8 132.6h0M650.8 85.3h0M634.1 143.5h0M613.2 143.3h0M649.6 137.3h0M680.3 80.0h0M671.1 98.2h0M638.7 107.0h0M650.4 106.5h0M656.1 90.0h0M672.8 119.0h0M651.0 130.0h0M677.1 77.9h0M648.7 107.7h0M656.9 111.6h0M651.0 124.8h0M649.1 122.2h0M655.0 126.4h0M649.1 107.4h0M689.1 97.4h0M620.7 138.3h0M683.0 109.8h0M669.2 77.0h0M658.9 104.4h0M675.3 98.8h0M675.2 103.0h0M640.4 144.7h0M629.4 125.5h0M699.7 62.1h0M670.0 72.5h0M662.3 104.8h0M700.6 93.7h0M649.8 127.7h0M644.2 115.0h0M673.2 107.8h0M658.0 132.7h0M650.6 92.2h0M641.9 131.6h0M657.4 114.6h0M634.0 95.0h0M678.1 107.3h0M633.6 118.1h0M640.9 107.5h0M647.3 115.4h0M631.7 134.7h0M683.9 92.7h0M640.1 119.2h0M666.8 112.5h0M633.0 107.6h0M702.9 42.5h0M663.4 138.8h0M670.6 85.5h0M652.7 112.1h0M664.1 99.8h0M638.8 116.3h0M650.0 115.1h0M662.7 98.1h0M629.6 144.4h0M641.4 106.8h0M679.1 73.1h0M671.2 87.0h0M654.7 89.9h0M672.3 103.4h0M657.2 93.8h0M679.4 69.5h0M646.1 124.4h0M630.2 125.3h0M644.6 123.5h0M685.9 91.9h0M630.6 99.0h0M650.2 110.9h0M656.6 116.1h0M636.0 123.8h0M659.8 100.1h0M644.8 69.5h0M662.0 82.0h0M647.6 120.7h0M670.6 89.8h0M641.6 115.4h0M617.6 143.4h0M691.9 79.4h0M679.1 91.2h0M650.6 103.8h0M651.1 91.9h0M638.8 137.1h0M686.4 92.0h0M634.8 130.7h0M668.8 83.2h0M664.1 116.0h0M640.9 131.6h0M681.7 75.2h0M631.0 143.1h0M662.7 131.3h0M651.1 96.6h0M658.4 112.7h0M618.9 128.9h0M647.4 126.8h0M662.8 125.8h0M657.9 71.4h0M671.6 61.0h0M668.7 73.4h0M629.6 98.2h0M671.3 98.7h0M630.7 123.5h0M664.8 133.8h0M617.1 142.4h0M639.4 109.1h0M620.8 138.3h0M681.1 50.1h0M663.6 116.3h0M626.6 127.6h0M630.2 139.5h0M663.3 108.3h0M655.8 119.5h0M643.4 119.1h0M649.4 141.6h0M655.5 96.1h0M641.5 123.8h0M631.8 151.4h0M657.0 106.3h0M660.3 113.1h0M666.6 101.7h0M665.2 110.5h0M648.7 98.7h0M646.0 97.4h0M676.5 104.0h0M629.7 104.5h0M638.3 112.8h0M675.5 91.9h0M664.6 89.6h0M634.7 133.7h0M617.8 131.5h0M623.0 135.8h0M640.0 50.7h0M649.7 89.7h0M636.4 102.7h0M657.2 64.5h0M623.7 129.3h0M625.0 116.0h0M684.2 47.8h0M660.0 48.7h0M628.8 116.2h0M631.3 116.4h0M650.2 92.6h0M656.2 81.7h0M646.0 100.2h0M685.7 67.3h0M625.5 52.5h0M653.3 68.5h0M635.7 111.5h0M671.2 32.4h0M642.2 107.6h0M621.6 127.4h0M620.8 117.4h0M649.5 79.0h0M651.0 77.9h0M684.6 44.3h0M638.1 104.9h0M653.4 58.6h0M619.9 89.7h0M656.1 97.9h0M680.0 54.8h0M677.7 76.9h0M619.6 109.2h0M643.6 91.0h0M660.4 96.5h0M624.4 86.6h0M648.4 86.9h0M675.2 73.5h0M647.5 82.0h0M673.1 81.4h0M649.5 83.1h0M660.0 39.9h0M620.2 123.6h0M667.4 66.7h0M642.3 110.6h0M621.0 113.4h0M660.1 93.0h0M675.5 55.9h0M677.3 52.4h0M656.3 97.8h0M619.6 70.7h0M623.2 95.2h0M662.8 75.6h0M630.1 97.4h0M659.2 99.8h0M675.0 76.6h0M641.2 84.0h0M607.3 84.3h0M616.5 74.8h0M644.9 49.9h0M647.9 48.3h0M729.7 72.3h0M735.8 70.9h0M704.9 90.4h0M689.7 100.7h0M668.5 88.8h0" stroke="#7c7c7c" stroke-width="1.5" stroke-linecap="round" fill="none"/>
<path d="M606.8 144.7L734.1 41.9" stroke="#1f1f80" stroke-width="1.2" fill="none"/>
<rect x="603.9" y="23.2" width="98.2" height="24.6" rx="1.5" fill="#fff" fill-opacity="0.8" stroke="#efefef" stroke-width="0.8"/>
<path d="M606.6 29.3h16" stroke="#1f1f80" stroke-width="1.1"/>
<text class="s" transform="matrix(1,0,0,1.1,0,-3.26)" x="628.77 632.98 635.98 641.41 643.79 648.38 650.75 655.40 660.10 664.31 667.31 672.74 675.00 677.75 682.40 686.99 689.36 694.01" y="32.6" font-size="7.96">y = 0.61x + -32.50</text>
<text x="628.1" y="43.0" font-size="7.96" font-style="italic" class="s">R</text>
<text x="634.5" y="40.3" font-size="5.4" class="s">2</text>
<text x="639.7" y="43.0" font-size="7.96" class="s">=</text>
<text class="s" transform="matrix(1,0,0,1.1,0,-4.30)" x="646.91 651.50 653.87 658.52 663.16" y="43.0" font-size="7.96">0.432</text>
<rect x="600.5" y="19.5" width="140.0" height="133.0" fill="none" stroke="#3c3c3c" stroke-width="1"/>
<text class="s" transform="matrix(1,0,0,1.1,0,-16.24)" x="603.21 608.70 613.35 617.99" y="162.4" font-size="7.96">−120</text>
<text class="s" transform="matrix(1,0,0,1.1,0,-16.24)" x="626.21 631.70 636.35 640.99" y="162.4" font-size="7.96">−100</text>
<text class="s" transform="matrix(1,0,0,1.1,0,-16.24)" x="651.63 657.12 661.77" y="162.4" font-size="7.96">−80</text>
<text class="s" transform="matrix(1,0,0,1.1,0,-16.24)" x="674.93 680.42 685.07" y="162.4" font-size="7.96">−60</text>
<text class="s" transform="matrix(1,0,0,1.1,0,-16.24)" x="698.53 704.02 708.67" y="162.4" font-size="7.96">−40</text>
<text class="s" transform="matrix(1,0,0,1.1,0,-16.24)" x="722.33 727.82 732.47" y="162.4" font-size="7.96">−20</text>
<text class="s" transform="matrix(1,0,0,1.1,0,-15.01)" x="578.28 583.78 588.42 593.06" y="150.1" font-size="7.96">−110</text>
<text class="s" transform="matrix(1,0,0,1.1,0,-13.47)" x="578.28 583.78 588.42 593.06" y="134.7" font-size="7.96">−100</text>
<text class="s" transform="matrix(1,0,0,1.1,0,-11.92)" x="582.93 588.42 593.06" y="119.2" font-size="7.96">−90</text>
<text class="s" transform="matrix(1,0,0,1.1,0,-10.38)" x="582.93 588.42 593.06" y="103.8" font-size="7.96">−80</text>
<text class="s" transform="matrix(1,0,0,1.1,0,-8.83)" x="582.93 588.42 593.06" y="88.3" font-size="7.96">−70</text>
<text class="s" transform="matrix(1,0,0,1.1,0,-7.29)" x="582.93 588.42 593.06" y="72.8" font-size="7.96">−60</text>
<text class="s" transform="matrix(1,0,0,1.1,0,-5.74)" x="582.93 588.42 593.06" y="57.4" font-size="7.96">−50</text>
<text class="s" transform="matrix(1,0,0,1.1,0,-4.20)" x="582.93 588.42 593.06" y="42.0" font-size="7.96">−40</text>
<text class="s" transform="matrix(1,0,0,1.1,0,-2.65)" x="582.93 588.42 593.06" y="26.5" font-size="7.96">−30</text>
<path d="M612.5 152.5v2.5M635.5 152.5v2.5M658.6 152.5v2.5M681.9 152.5v2.5M705.5 152.5v2.5M729.3 152.5v2.5M600.5 146.6h-2.5M600.5 131.2h-2.5M600.5 115.7h-2.5M600.5 100.2h-2.5M600.5 84.8h-2.5M600.5 69.3h-2.5M600.5 53.9h-2.5M600.5 38.5h-2.5M600.5 23.0h-2.5" stroke="#333" stroke-width="0.8"/>
<text class="s" transform="matrix(1,0,0,1.1,0,-17.14)" x="614.41 620.51 623.36 627.75 632.37 637.00 641.59 643.65 648.49 650.34 655.19 657.83 662.41 664.52 670.00 672.73 675.30 679.86 684.49 689.04 693.81 696.48 698.40 702.94 707.53 709.89 712.51 717.93 723.57" y="171.4" font-size="7.96">Ground Truth Attenuation (HU)</text>
<text class="s" transform="translate(572.7,86.0) rotate(-90) scale(1,1.1)" x="-49.98 -43.48 -39.00 -34.64 -30.64 -25.94 -23.08 -18.68 -14.10 -11.99 -6.51 -3.78 -1.21 3.35 7.98 12.53 17.30 19.97 21.89 26.44 31.02 33.38 36.00 41.42 47.06" y="0" font-size="7.96">Measured Attenuation (HU)</text>
<text class="s" transform="matrix(1,0,0,1.1,0,-0.67)" x="631.60 637.20 641.36 644.51 649.92 651.91 657.88 663.36 669.16 677.37 682.84 688.59 691.73 697.39 700.53 706.02" y="6.7" font-size="9.02">TotalSegmentator</text>
<text class="s" transform="matrix(1,0,0,1.1,0,-1.67)" x="604.16 610.22 615.77 621.22 626.15 631.90 635.04 640.50 645.97 651.35 656.80 662.11 666.79 669.20 674.65 679.50 682.61 685.25 691.72 695.00 698.15 703.62 709.18 714.64 720.29 723.48 725.87 731.33" y="16.6" font-size="9.02">Subcutaneous Fat Attenuation</text>
<text transform="translate(654.40,0) scale(1.14,1) translate(-654.40,0)" x="607.82 613.24 620.99 626.41 631.05 641.13 648.88 653.53 662.63 669.61 675.03 679.67 690.14 695.56" y="200.8" font-size="14.8" font-family='"Liberation Serif", serif' fill="#1c1c1c">(d) TS Fat Att</text>
<path d="M61.4 256.5V388.5M95.5 256.5V388.5M130.3 256.5V388.5M164.4 256.5V388.5M32.5 376.6H173.5M32.5 358.2H173.5M32.5 339.9H173.5M32.5 321.6H173.5M32.5 303.2H173.5M32.5 284.9H173.5M32.5 266.5H173.5" stroke="#e2e2e2" stroke-width="0.9" fill="none"/>
<path d="M52.4 371.2h0M58.6 366.5h0M84.3 342.7h0M65.0 357.8h0M87.8 341.5h0M96.0 331.3h0M52.2 374.0h0M102.9 323.0h0M63.8 363.4h0M150.5 278.2h0M93.6 330.0h0M64.8 359.9h0M79.6 347.7h0M79.9 345.3h0M82.7 340.1h0M117.1 307.6h0M88.0 340.1h0M128.8 297.9h0M90.8 336.6h0M71.4 352.3h0M51.3 371.9h0M51.0 372.2h0M79.6 345.9h0M92.5 334.9h0M119.2 306.3h0M63.5 363.2h0M76.7 350.6h0M60.4 363.9h0M66.8 358.2h0M44.4 378.2h0M93.9 330.5h0M61.8 363.4h0M73.5 354.0h0M85.6 335.2h0M82.9 348.7h0M53.7 369.9h0M122.4 306.9h0M94.4 334.0h0M87.1 334.8h0M62.8 361.4h0M50.5 376.6h0M50.2 372.9h0M70.8 352.9h0M78.6 343.4h0M62.1 361.9h0M136.7 299.1h0M82.0 345.1h0M102.3 327.3h0M99.2 332.5h0M56.8 366.8h0M102.1 323.1h0M85.8 338.1h0M54.3 368.2h0M93.4 332.1h0M104.8 324.6h0M101.5 319.8h0M104.1 323.7h0M52.6 372.6h0M70.0 354.6h0M64.6 361.9h0M76.2 349.4h0M77.4 346.6h0M106.8 323.4h0M94.3 333.3h0M60.2 363.5h0M99.0 328.7h0M127.2 303.2h0M82.1 346.2h0M51.5 373.2h0M63.0 361.1h0M71.3 354.3h0M50.3 373.1h0M72.2 353.6h0M54.2 372.0h0M95.5 331.1h0M92.3 338.3h0M73.4 351.0h0M54.4 369.0h0M81.7 344.2h0M63.1 361.5h0M62.3 360.5h0M106.2 319.7h0M61.3 366.3h0M53.0 371.4h0M95.4 328.8h0M134.3 300.5h0M126.4 308.6h0M95.1 329.7h0M150.4 285.9h0M68.0 355.2h0M155.1 272.9h0M150.7 284.2h0M68.2 358.6h0M84.8 336.5h0M54.1 369.1h0M57.4 366.6h0M88.9 337.0h0M55.6 366.2h0M79.9 344.8h0M86.1 341.2h0M78.1 348.0h0M101.6 323.1h0M143.2 285.8h0M79.4 346.0h0M103.1 323.2h0M122.2 314.0h0M66.5 355.2h0M62.9 361.7h0M43.4 380.1h0M85.8 346.3h0M105.0 321.7h0M86.0 345.6h0M152.3 270.6h0M124.1 315.7h0M97.2 328.9h0M74.8 352.6h0M59.9 362.9h0M78.1 354.0h0M87.9 340.7h0M74.3 355.1h0M69.5 356.5h0M68.0 357.4h0M93.6 333.4h0M49.7 373.0h0M69.2 356.4h0M77.3 350.3h0M93.5 333.1h0M93.7 333.8h0M71.0 354.7h0M64.5 359.8h0M55.9 365.9h0M109.4 317.8h0M90.3 333.4h0M80.4 343.5h0M62.2 363.7h0M56.4 365.4h0M109.6 316.9h0M75.5 350.9h0M87.2 337.8h0M137.1 288.6h0M51.6 371.3h0M61.5 361.0h0M84.5 342.9h0M91.5 340.0h0M57.6 367.5h0M74.0 351.4h0M64.2 361.0h0M64.6 358.7h0M84.9 345.6h0M80.2 345.0h0M109.9 314.0h0M90.9 334.7h0M122.8 307.3h0M60.8 361.8h0M85.5 344.7h0M52.7 370.3h0M50.0 371.3h0M52.9 371.3h0M93.5 332.1h0M79.8 346.0h0M50.2 373.4h0M114.0 312.4h0M101.4 323.0h0M71.3 357.1h0M70.1 360.0h0M74.8 349.9h0M54.8 370.1h0M165.5 271.1h0M65.9 359.2h0M71.0 354.2h0M68.5 356.7h0M62.6 360.5h0M58.9 366.0h0M82.7 341.8h0M54.6 370.2h0M57.0 367.5h0M60.4 364.6h0M95.7 327.2h0M57.7 365.1h0M57.7 365.6h0M82.4 344.5h0M55.8 368.9h0M68.3 355.5h0M98.4 326.2h0M84.5 339.6h0M75.5 350.6h0M122.4 307.4h0M66.6 359.5h0M63.4 359.9h0M48.8 373.9h0M75.5 347.4h0M90.4 334.3h0M62.4 360.8h0M138.9 294.3h0M102.6 328.7h0M99.4 324.8h0M54.9 369.0h0M81.5 342.3h0M83.3 347.0h0M46.2 376.8h0M74.2 352.2h0M69.9 354.1h0M49.0 377.7h0M86.5 340.2h0M147.7 286.1h0M93.9 335.3h0M59.6 366.5h0M69.5 352.7h0M106.3 321.2h0M59.9 364.6h0M83.0 343.2h0M75.5 348.7h0M78.8 345.6h0M128.3 297.1h0M51.2 375.1h0M108.2 327.6h0M80.9 345.9h0M72.9 355.5h0M49.7 372.9h0M82.0 345.1h0M66.9 353.8h0M39.9 382.9h0M52.9 372.4h0M55.0 369.5h0M57.4 365.0h0M63.3 360.3h0M59.9 364.3h0M124.0 308.4h0M104.5 327.7h0M73.1 353.3h0M116.8 305.1h0M152.9 278.8h0M86.7 342.7h0M53.5 372.4h0M83.7 341.7h0M118.7 306.0h0M57.6 365.1h0M74.8 352.1h0M100.2 331.8h0M109.0 316.8h0M97.4 332.1h0M83.8 339.8h0M72.1 356.3h0M64.2 360.6h0M102.5 328.0h0M99.9 329.5h0M65.6 356.5h0M62.2 364.8h0M111.8 322.4h0M102.4 324.5h0M61.0 362.2h0M49.9 373.9h0M77.6 345.3h0M96.0 331.1h0M101.0 333.1h0M96.2 331.6h0M51.0 371.2h0M76.0 350.7h0M67.4 358.6h0M61.5 361.1h0M74.9 345.5h0M80.7 344.2h0M68.9 356.5h0M92.1 330.6h0M108.1 318.3h0M69.2 354.3h0M74.3 351.3h0M66.2 357.0h0M57.3 366.9h0M71.1 350.5h0M83.0 341.8h0M75.3 350.5h0M69.9 352.2h0M47.7 376.1h0M82.6 349.8h0M78.5 350.0h0M122.6 309.4h0M62.8 360.8h0M52.7 369.5h0M47.1 376.9h0M62.6 360.4h0M73.1 351.8h0M80.2 346.8h0M50.4 372.8h0M63.9 363.8h0M101.9 327.8h0M75.8 347.0h0M67.8 358.8h0M67.3 356.2h0M50.4 373.6h0M52.3 371.1h0M64.5 363.0h0M109.5 316.4h0M106.8 322.4h0M71.3 355.7h0M89.8 327.1h0M84.3 347.1h0M107.1 320.9h0M61.7 362.3h0M80.5 341.9h0M99.9 331.3h0M54.1 368.9h0M73.1 351.1h0M80.3 345.4h0M84.4 340.5h0M87.2 339.8h0M89.1 338.8h0M101.9 322.5h0M116.6 316.1h0M83.6 341.1h0M155.9 280.0h0M65.7 360.4h0M70.9 351.3h0M82.5 343.9h0M60.8 365.4h0M51.8 372.0h0M53.7 369.5h0M108.0 322.9h0M62.8 361.5h0M53.4 371.8h0M139.6 299.0h0M83.7 339.9h0M79.3 345.1h0M58.2 363.9h0M81.2 339.5h0M65.1 356.2h0M80.4 344.4h0M74.3 351.0h0M70.1 355.9h0M79.6 342.8h0M58.9 364.7h0M66.5 358.5h0M60.5 365.4h0M83.7 343.6h0M92.4 334.7h0M95.3 332.4h0M47.2 376.3h0M131.0 297.6h0M70.2 351.5h0M72.1 351.5h0M73.6 351.0h0M73.3 350.9h0M110.8 314.0h0M77.5 344.5h0M81.4 347.1h0M100.0 329.6h0M113.2 313.5h0M57.3 363.8h0M54.7 368.1h0M47.3 374.9h0M47.4 376.5h0M81.8 342.4h0M76.8 346.1h0M74.2 352.6h0M82.6 343.1h0M81.8 340.3h0M109.0 317.7h0M130.5 301.5h0M60.5 362.9h0M121.3 308.5h0M104.7 321.7h0M60.7 361.6h0M79.3 346.9h0M66.8 356.8h0M49.7 373.9h0M76.2 353.3h0M50.4 374.9h0M76.3 349.0h0M57.4 365.3h0M68.7 353.8h0M96.3 336.4h0M77.9 346.8h0M60.8 365.5h0M80.5 351.3h0M92.8 335.0h0M101.6 328.8h0M60.4 362.6h0M107.3 319.9h0M71.8 355.8h0M64.8 361.0h0M109.1 315.4h0M90.9 334.4h0M92.6 332.2h0M78.4 349.0h0M48.8 375.8h0M86.5 336.6h0M89.2 334.1h0M73.0 352.9h0M131.1 302.8h0M78.4 345.7h0M131.5 296.7h0M109.9 324.5h0M63.1 360.4h0M60.7 362.3h0M69.4 356.9h0M74.8 347.4h0M93.5 332.6h0M64.4 359.5h0M57.7 368.3h0M155.3 280.5h0M76.8 349.0h0M82.8 342.1h0M135.1 293.8h0M78.8 347.6h0M44.6 377.9h0M88.0 341.9h0M64.4 360.5h0M104.2 325.7h0M49.2 375.0h0M80.7 344.6h0M97.8 329.1h0M120.7 306.4h0M103.5 320.9h0M102.4 330.6h0M76.4 347.2h0M76.1 350.4h0M58.7 365.3h0M103.4 324.5h0M126.8 301.2h0M92.1 337.2h0M60.7 365.2h0M53.6 371.3h0M66.4 359.2h0M127.7 301.5h0M80.5 344.9h0M59.2 365.6h0M69.4 353.9h0M98.7 329.4h0M64.1 361.9h0M67.2 356.6h0M66.1 361.3h0M60.4 363.1h0M145.8 281.7h0M61.8 362.5h0M83.1 338.5h0M111.5 318.7h0M74.3 354.6h0M68.5 353.7h0M73.4 351.8h0M76.7 347.5h0M72.3 352.6h0M67.8 358.2h0M68.9 354.8h0M79.2 349.5h0M136.7 290.1h0M68.4 357.6h0M98.0 327.7h0M72.8 350.9h0M59.4 363.9h0M56.9 366.8h0M84.5 338.3h0M54.9 368.7h0M87.5 339.5h0M69.8 354.1h0M133.3 300.2h0M58.4 367.3h0M108.3 325.6h0M120.0 307.6h0M99.0 329.4h0M66.4 355.8h0M85.3 341.7h0M80.1 343.7h0M73.8 351.7h0M101.8 326.5h0M75.3 349.2h0M82.7 343.9h0M108.3 318.9h0M74.8 352.2h0M69.5 357.7h0M81.7 339.6h0M67.1 357.3h0M45.0 379.0h0M66.9 357.8h0M73.4 352.5h0M56.7 367.1h0M48.8 375.8h0M88.1 337.7h0M64.2 360.1h0M93.3 332.0h0M88.2 338.4h0M126.0 304.2h0M91.6 332.6h0M102.1 319.7h0M119.4 308.6h0M69.9 353.5h0M109.2 316.8h0M112.6 317.2h0M49.5 371.2h0M58.2 367.6h0M80.3 350.4h0M134.9 295.1h0M70.0 356.0h0M55.2 369.6h0M51.7 373.7h0M84.1 341.5h0M81.5 346.0h0M64.2 361.2h0M83.4 345.5h0M68.9 353.8h0M109.3 321.5h0M53.5 370.6h0M66.9 358.6h0M108.2 321.5h0M64.2 360.4h0M60.5 365.2h0M70.1 352.3h0M139.3 291.7h0M82.4 346.3h0M119.4 307.7h0M59.6 362.9h0M71.9 355.5h0M93.6 337.5h0M81.7 345.1h0M65.6 359.6h0M45.2 377.6h0M88.9 340.6h0M95.2 329.0h0M87.3 338.0h0M50.0 375.6h0M52.9 370.7h0M64.4 361.5h0M57.7 367.3h0M104.4 326.5h0M56.7 364.9h0M68.7 355.1h0M56.5 368.2h0M49.3 375.0h0M102.2 331.1h0M78.7 340.8h0M62.2 364.0h0M75.6 347.0h0M45.3 377.6h0M124.6 307.7h0M57.4 365.8h0M47.6 376.3h0M57.0 367.4h0M80.1 343.6h0M75.2 352.4h0M91.7 330.8h0M92.4 339.9h0M76.0 347.3h0M103.1 325.4h0M48.4 376.0h0M86.2 344.1h0M86.1 342.2h0M83.0 342.6h0M71.7 355.5h0M64.9 359.8h0M63.7 359.2h0M49.6 374.7h0M65.3 359.1h0M104.5 326.7h0M118.8 310.8h0M65.7 357.4h0M64.6 363.0h0M65.2 361.4h0M71.9 352.0h0M74.9 347.7h0M86.1 338.8h0M117.9 308.6h0M46.5 377.1h0M56.8 368.4h0M65.7 357.9h0M73.5 353.9h0M84.1 341.5h0M133.1 300.6h0M58.7 364.8h0M90.8 336.6h0M73.1 355.9h0M76.3 348.5h0M82.0 343.8h0M97.4 331.4h0M77.8 349.0h0M56.5 368.4h0M86.4 345.2h0M86.7 338.2h0M51.2 372.2h0M85.4 336.4h0M73.5 348.3h0M71.6 352.9h0M77.0 353.9h0M131.9 301.7h0M50.0 372.9h0M79.2 348.9h0M48.0 374.2h0M75.4 349.1h0M99.4 328.1h0M48.5 375.9h0M107.1 318.7h0M86.5 339.0h0M72.7 355.8h0M71.5 352.3h0M75.0 353.4h0M76.7 349.0h0M74.6 346.3h0M104.7 326.6h0M96.5 327.1h0M59.8 367.6h0M106.3 326.9h0M138.6 298.8h0M128.8 305.1h0M83.2 346.1h0M51.5 371.6h0M66.3 356.3h0M74.1 352.6h0M74.9 353.2h0M52.9 371.4h0M92.3 335.7h0M101.7 330.7h0M54.5 370.0h0M62.9 362.5h0M59.1 364.8h0M78.3 344.0h0M111.6 317.6h0M47.1 376.1h0M130.1 296.9h0M105.9 315.9h0M55.5 368.6h0M133.2 300.6h0M113.8 314.3h0M92.0 332.4h0M86.2 339.3h0M61.3 361.5h0M90.7 336.9h0M62.4 362.4h0M79.7 347.9h0M108.8 319.4h0M70.4 355.6h0M65.6 359.7h0M91.7 338.9h0M105.7 322.9h0M106.9 322.4h0M73.4 353.0h0M122.8 307.8h0M134.6 298.5h0M71.1 353.5h0M93.9 332.4h0M50.1 374.6h0M74.7 349.7h0M59.0 366.0h0M81.1 344.7h0M65.6 358.1h0M44.9 379.5h0M93.9 337.6h0M59.3 364.1h0M113.4 315.1h0M124.6 297.8h0M92.9 333.1h0M75.9 350.1h0M83.3 341.2h0M53.8 369.7h0M79.6 346.4h0M105.2 316.6h0M96.4 329.0h0M58.8 365.8h0M127.3 305.5h0M90.5 334.6h0M60.1 363.6h0M88.8 337.5h0M60.2 363.6h0M67.6 356.0h0M78.3 344.3h0M143.2 278.0h0M52.7 373.0h0M75.7 351.4h0M73.7 352.8h0M94.0 331.4h0M85.7 338.4h0M65.0 356.0h0M84.3 342.7h0M64.2 360.7h0M61.4 362.8h0M90.6 335.6h0M80.6 347.5h0M64.8 359.1h0M93.0 332.4h0M68.3 357.7h0M61.9 363.2h0M73.6 348.3h0M91.7 339.5h0M64.4 359.6h0M121.1 304.3h0M71.2 352.4h0M82.9 341.4h0M96.7 328.6h0M76.1 349.8h0M64.0 359.8h0M71.7 351.9h0M102.1 321.2h0M113.1 318.7h0M92.0 340.8h0M67.0 358.9h0M59.0 366.6h0M65.1 359.3h0M67.0 358.2h0M81.4 344.6h0M75.7 347.0h0M61.9 364.1h0M94.1 332.1h0M62.7 361.8h0M77.9 349.0h0M62.3 363.3h0M105.5 324.7h0M86.0 339.1h0M80.9 344.9h0M107.6 318.0h0M102.4 318.5h0M55.0 368.0h0M81.0 345.3h0M58.3 365.4h0M65.0 360.9h0M67.8 358.8h0M53.1 371.1h0M55.6 367.8h0M78.2 349.6h0M78.4 347.7h0M88.6 343.3h0M72.9 354.7h0M68.0 354.3h0M69.3 354.4h0M69.4 351.1h0M61.6 362.7h0M77.6 346.4h0M59.0 364.0h0M57.8 367.5h0M51.8 371.9h0M77.5 346.0h0M62.3 363.5h0M69.7 354.7h0M76.6 344.4h0M59.1 365.4h0M78.7 348.0h0M75.6 349.3h0M73.9 351.5h0M47.8 373.0h0M101.5 330.0h0M86.7 341.6h0M88.6 334.6h0M128.7 302.3h0M57.4 366.8h0M139.1 282.8h0M70.6 357.0h0M98.1 327.7h0M107.7 319.1h0M57.8 367.2h0M81.5 345.9h0M64.5 360.3h0M85.6 338.4h0M52.6 371.8h0M129.1 307.6h0M85.3 341.5h0M70.5 356.1h0M60.2 362.2h0M114.1 311.6h0M65.7 356.9h0M95.3 333.8h0M55.8 369.5h0M88.2 334.7h0M48.3 375.0h0M83.1 342.4h0M58.2 364.6h0M57.8 367.0h0M98.9 325.2h0M91.7 338.2h0M63.5 364.5h0M61.3 364.9h0M103.2 321.8h0M51.5 371.6h0M68.9 361.3h0M61.5 361.4h0M74.5 352.7h0M73.0 354.3h0M70.8 351.9h0M54.8 369.0h0M79.7 343.8h0M85.2 347.0h0M66.1 359.0h0M127.6 308.3h0M65.9 357.9h0M74.3 351.3h0M139.4 289.5h0M68.8 352.4h0M72.0 351.8h0M51.8 371.5h0M74.6 348.5h0M66.3 357.3h0M81.0 343.1h0M56.6 365.7h0M106.9 315.3h0M86.4 341.8h0M96.7 328.0h0M67.3 357.4h0M49.0 374.6h0M81.9 345.6h0M73.8 352.7h0M65.3 361.1h0M123.8 302.4h0M80.7 346.1h0M77.4 347.9h0M84.9 341.2h0M82.3 343.6h0M84.0 341.0h0M94.3 333.3h0M77.1 346.5h0M66.4 361.1h0M60.5 364.2h0M79.6 346.8h0M86.0 344.4h0M94.2 331.9h0M60.7 366.1h0M51.9 373.7h0M52.5 370.9h0M117.7 313.5h0M89.0 337.3h0M74.4 353.4h0M68.8 357.9h0M151.6 272.4h0M94.6 332.7h0M92.0 337.6h0M64.9 359.8h0M106.6 316.4h0M67.3 357.1h0M61.3 363.2h0M114.3 313.4h0M82.7 340.3h0M91.7 331.7h0M52.1 372.9h0M67.5 354.0h0M59.8 361.6h0M79.2 347.5h0M72.3 351.1h0M73.8 354.6h0M60.9 361.9h0M114.1 320.1h0M53.7 369.4h0M84.3 343.7h0M72.9 352.3h0M100.3 325.1h0M57.6 365.5h0M100.0 328.5h0M59.4 364.4h0M78.9 347.3h0M69.6 358.3h0M159.3 275.0h0M53.3 369.7h0M61.6 364.1h0M47.8 375.1h0M56.0 366.4h0M68.9 358.2h0M65.4 358.3h0M58.3 360.4h0M60.5 364.4h0M67.8 355.0h0M74.2 352.7h0M120.1 308.7h0M80.4 348.2h0M71.1 351.3h0M65.4 361.8h0M87.3 340.6h0M107.1 320.8h0M67.0 357.6h0M95.4 336.5h0M83.4 343.0h0M44.9 378.5h0M132.7 295.8h0M94.9 331.3h0M51.7 374.0h0M46.4 378.1h0M76.5 347.4h0M63.5 358.9h0M83.9 339.4h0M65.4 362.6h0M105.7 324.0h0M62.7 363.8h0M82.3 346.7h0M88.7 335.9h0M67.7 359.9h0M95.5 332.7h0M75.9 352.4h0M73.3 349.9h0M69.3 356.7h0M43.4 379.4h0M56.8 366.2h0M132.2 297.7h0M66.5 360.8h0M59.9 364.2h0M69.8 356.6h0M69.5 356.3h0M144.7 282.1h0M55.8 368.0h0M61.3 365.7h0M89.0 337.1h0M48.5 372.7h0M50.1 371.8h0M53.9 369.2h0M61.5 361.6h0M100.6 325.6h0M111.5 320.1h0M85.7 343.6h0M139.7 287.0h0M47.6 375.7h0M102.0 324.2h0M61.7 362.2h0M85.3 337.1h0M68.8 353.7h0M52.2 370.5h0M105.7 319.8h0M116.6 309.6h0M80.1 346.4h0M60.0 366.5h0M144.1 286.2h0M44.0 379.0h0M79.1 346.0h0M59.2 365.0h0M61.9 361.4h0M100.4 325.1h0M66.1 361.1h0M101.3 328.0h0M80.4 344.2h0M115.9 308.7h0M100.1 321.4h0M96.8 331.4h0M75.6 349.7h0M73.8 353.2h0M58.3 364.8h0M85.3 340.6h0M92.9 336.4h0M62.4 360.5h0M83.8 337.4h0M61.1 361.0h0M74.1 351.4h0M56.7 366.2h0M75.1 351.1h0M103.9 316.3h0M81.1 344.7h0M49.3 374.3h0M91.0 338.3h0M68.3 354.8h0M111.3 318.3h0M92.1 335.0h0M91.6 339.6h0M68.8 356.9h0M78.0 346.9h0M61.3 362.1h0M76.6 347.2h0M94.3 333.7h0M51.8 371.0h0M68.3 357.9h0M93.0 336.0h0M57.4 367.6h0M71.7 352.6h0M86.1 340.5h0M82.1 341.9h0M89.3 332.3h0M94.0 332.8h0M108.5 318.6h0M68.8 356.8h0M86.4 342.3h0M84.2 341.8h0M55.5 368.3h0M67.0 359.3h0M92.9 335.7h0M83.0 340.2h0M92.0 335.4h0M74.6 350.5h0M74.2 349.1h0M99.8 326.4h0M47.5 376.7h0M50.1 374.9h0M75.8 348.7h0M80.7 345.2h0M91.0 335.4h0M91.2 335.8h0M79.0 344.1h0M55.8 367.9h0M87.0 334.4h0M79.3 346.5h0M57.9 364.2h0M49.9 372.4h0M66.2 358.8h0M91.0 333.1h0M75.0 352.4h0M106.0 327.0h0M67.5 355.5h0M61.8 363.1h0M63.7 357.5h0M75.5 351.6h0M80.6 349.0h0M97.6 324.9h0M72.2 354.1h0M55.4 367.5h0M60.5 364.2h0M80.0 342.0h0M71.8 355.1h0M78.1 347.4h0M63.9 362.3h0M66.5 356.5h0M65.4 358.2h0M63.4 361.4h0M78.0 346.6h0M125.6 304.9h0M74.6 352.3h0M77.6 345.0h0M47.9 374.9h0M86.4 335.0h0M69.6 354.9h0M111.8 317.8h0M86.7 337.3h0M116.0 311.2h0M58.5 363.6h0M91.9 333.9h0M97.9 330.1h0M67.9 355.5h0M107.8 319.1h0M53.7 369.2h0M80.8 345.7h0M66.8 357.8h0M96.1 330.2h0M47.7 375.1h0M97.4 326.6h0M127.7 302.4h0M58.0 364.9h0M99.7 328.5h0M60.3 364.0h0M98.8 326.8h0M107.2 318.6h0M56.4 366.9h0M128.3 301.3h0M73.9 351.6h0M77.1 350.8h0M95.9 334.1h0M101.3 324.2h0M77.4 348.0h0M92.5 329.6h0M92.9 329.9h0M57.8 367.4h0M83.1 340.9h0M81.6 342.7h0M77.3 346.4h0M94.3 330.9h0M66.8 359.7h0M50.1 370.3h0M92.4 333.4h0M85.8 337.7h0M76.6 351.0h0M67.1 358.5h0M157.6 271.4h0M78.9 344.7h0M58.7 364.4h0M83.8 341.9h0M89.1 334.1h0M54.2 369.8h0M92.7 335.7h0M47.0 375.5h0M68.3 358.2h0M99.1 329.1h0M107.4 322.1h0M85.3 342.2h0M96.8 331.7h0M61.5 363.3h0M78.3 349.7h0M93.3 331.1h0M50.3 373.3h0M83.0 343.4h0M92.0 332.2h0M107.5 323.0h0M96.6 333.3h0M104.2 323.9h0M98.8 326.2h0M60.5 364.8h0M60.3 364.8h0M65.3 357.8h0M55.8 370.3h0M97.5 325.8h0M131.4 302.1h0M114.9 318.2h0M81.4 345.3h0M105.7 323.6h0M77.7 349.8h0M87.9 337.4h0M108.3 326.5h0M58.4 366.2h0M65.1 360.3h0M86.2 344.5h0M92.3 336.5h0M96.8 326.9h0M120.0 310.8h0M67.1 357.8h0M46.7 377.2h0M57.0 367.4h0M58.7 368.0h0M133.2 292.7h0M70.7 356.9h0M70.7 356.0h0M70.8 351.8h0M70.1 354.8h0M73.3 348.1h0M75.9 347.6h0M106.3 322.6h0M78.4 348.8h0" stroke="#7c7c7c" stroke-width="1.5" stroke-linecap="round" fill="none"/>
<path d="M38.6 384.1L167.1 265.7" stroke="#2a2f8a" stroke-width="1.5" fill="none"/>
<rect x="35.9" y="260.2" width="95.6" height="24.6" rx="1.5" fill="#fff" fill-opacity="0.8" stroke="#efefef" stroke-width="0.8"/>
<path d="M38.6 266.3h16" stroke="#7272b4" stroke-width="1.9"/>
<text class="s" transform="matrix(1,0,0,1.1,0,-26.96)" x="60.77 64.98 67.98 73.41 75.79 80.38 82.75 87.40 92.10 96.31 99.31 104.74 107.12 111.76 116.35 118.73 123.37" y="269.6" font-size="7.96">y = 0.86x + 12.90</text>
<text x="60.1" y="280.0" font-size="7.96" font-style="italic" class="s">R</text>
<text x="66.5" y="277.3" font-size="5.4" class="s">2</text>
<text x="71.7" y="280.0" font-size="7.96" class="s">=</text>
<text class="s" transform="matrix(1,0,0,1.1,0,-28.00)" x="78.91 83.50 85.87 90.52 95.16" y="280.0" font-size="7.96">0.986</text>
<rect x="32.5" y="256.5" width="141.0" height="132.0" fill="none" stroke="#3c3c3c" stroke-width="1"/>
<text class="s" transform="matrix(1,0,0,1.1,0,-39.84)" x="52.22 56.86 61.51 66.15" y="398.4" font-size="7.96">1000</text>
<text class="s" transform="matrix(1,0,0,1.1,0,-39.84)" x="86.32 90.96 95.61 100.25" y="398.4" font-size="7.96">2000</text>
<text class="s" transform="matrix(1,0,0,1.1,0,-39.84)" x="121.12 125.76 130.41 135.05" y="398.4" font-size="7.96">3000</text>
<text class="s" transform="matrix(1,0,0,1.1,0,-39.84)" x="155.22 159.86 164.51 169.15" y="398.4" font-size="7.96">4000</text>
<text class="s" transform="matrix(1,0,0,1.1,0,-38.01)" x="15.78 20.42 25.06" y="380.1" font-size="7.96">500</text>
<text class="s" transform="matrix(1,0,0,1.1,0,-36.18)" x="11.13 15.78 20.42 25.06" y="361.8" font-size="7.96">1000</text>
<text class="s" transform="matrix(1,0,0,1.1,0,-34.34)" x="11.13 15.78 20.42 25.06" y="343.4" font-size="7.96">1500</text>
<text class="s" transform="matrix(1,0,0,1.1,0,-32.51)" x="11.13 15.78 20.42 25.06" y="325.1" font-size="7.96">2000</text>
<text class="s" transform="matrix(1,0,0,1.1,0,-30.67)" x="11.13 15.78 20.42 25.06" y="306.7" font-size="7.96">2500</text>
<text class="s" transform="matrix(1,0,0,1.1,0,-28.84)" x="11.13 15.78 20.42 25.06" y="288.4" font-size="7.96">3000</text>
<text class="s" transform="matrix(1,0,0,1.1,0,-27.00)" x="11.13 15.78 20.42 25.06" y="270.0" font-size="7.96">3500</text>
<path d="M61.4 388.5v2.5M95.5 388.5v2.5M130.3 388.5v2.5M164.4 388.5v2.5M32.5 376.6h-2.5M32.5 358.2h-2.5M32.5 339.9h-2.5M32.5 321.6h-2.5M32.5 303.2h-2.5M32.5 284.9h-2.5M32.5 266.5h-2.5" stroke="#333" stroke-width="0.8"/>
<text class="s" transform="matrix(1,0,0,1.1,0,-40.74)" x="53.13 59.22 62.07 66.46 71.08 75.71 80.30 82.36 87.20 89.05 93.91 96.54 101.12 103.23 108.40 112.41 114.41 119.18 126.08 130.59 132.96 135.73 139.96 146.97 149.86" y="407.4" font-size="7.96">Ground Truth Volume (cm³)</text>
<text class="s" transform="translate(7.4,322.5) rotate(-90) scale(1,1.1)" x="-43.76 -37.27 -32.79 -28.42 -24.43 -19.73 -16.87 -12.47 -7.88 -5.78 -0.61 3.40 5.40 10.17 17.07 21.59 23.95 26.72 30.96 37.96 40.85" y="0" font-size="7.96">Measured Volume (cm³)</text>
<text class="s" transform="matrix(1,0,0,1.1,0,-24.37)" x="76.26 79.07 84.82 87.98 93.48 97.05 102.35 107.76 110.12 112.69 118.29 122.16 127.56" y="243.7" font-size="9.02">Internal Tool</text>
<text class="s" transform="matrix(1,0,0,1.1,0,-25.37)" x="70.18 77.99 83.30 87.99 92.87 95.27 100.61 103.25 109.42 114.15 116.63 122.43 130.64" y="253.7" font-size="9.02">Muscle Volume</text>
<text transform="translate(86.70,0) scale(1.14,1) translate(-86.70,0)" x="29.20 34.73 41.04 46.57 51.31 56.44 64.34 69.87 74.61 87.65 95.55 101.16 107.47 111.41 117.73 122.47 133.14 140.26" y="437.2" font-size="14.8" font-family='"Liberation Serif", serif' fill="#1c1c1c">(e) Int Muscle Vol</text>
<path d="M242.8 256.5V388.5M270.6 256.5V388.5M299.0 256.5V388.5M327.1 256.5V388.5M355.0 256.5V388.5M217.5 381.2H362.5M217.5 357.0H362.5M217.5 332.8H362.5M217.5 308.7H362.5M217.5 284.5H362.5M217.5 260.3H362.5" stroke="#e2e2e2" stroke-width="0.9" fill="none"/>
<path d="M281.3 323.0h0M303.1 325.2h0M310.2 310.3h0M310.1 310.7h0M323.9 299.8h0M285.1 324.4h0M301.5 322.0h0M285.4 333.7h0M266.7 345.2h0M279.4 334.1h0M294.3 314.9h0M275.7 342.7h0M288.5 324.8h0M311.6 306.4h0M302.0 318.6h0M302.0 314.7h0M298.0 314.0h0M288.8 325.4h0M259.0 351.5h0M309.4 307.6h0M265.3 343.9h0M295.7 323.6h0M290.0 324.7h0M294.3 321.8h0M296.4 321.2h0M286.0 336.5h0M307.8 313.6h0M269.1 347.2h0M305.9 308.7h0M262.1 350.7h0M312.8 310.6h0M282.9 336.3h0M298.5 315.2h0M318.5 305.8h0M253.9 348.8h0M286.3 326.4h0M302.0 314.6h0M307.8 306.7h0M315.8 301.4h0M302.6 313.3h0M301.0 323.6h0M293.8 320.3h0M296.6 320.9h0M293.2 323.9h0M309.4 306.5h0M294.7 324.2h0M303.7 317.9h0M320.4 301.9h0M312.5 306.5h0M285.8 331.1h0M290.1 324.9h0M304.9 312.1h0M280.5 326.0h0M259.6 347.5h0M273.9 338.8h0M301.4 323.4h0M288.2 324.9h0M285.6 333.3h0M305.1 317.3h0M273.2 337.9h0M331.7 298.0h0M292.3 330.4h0M286.1 330.1h0M327.7 299.6h0M272.6 331.1h0M283.1 336.9h0M290.3 321.3h0M274.9 336.6h0M285.9 331.3h0M302.2 311.4h0M294.9 320.4h0M291.0 329.2h0M309.3 311.9h0M325.1 303.6h0M319.4 301.3h0M255.1 349.4h0M316.1 306.1h0M305.6 311.5h0M299.1 322.3h0M274.4 341.8h0M283.9 327.2h0M288.2 321.9h0M267.3 339.6h0M313.7 303.6h0M307.6 308.3h0M291.7 324.3h0M275.1 336.8h0M315.6 307.4h0M303.2 311.6h0M310.6 304.6h0M284.5 333.5h0M334.0 300.2h0M289.4 329.1h0M326.3 304.2h0M256.6 351.9h0M297.4 318.9h0M293.4 320.0h0M247.6 363.8h0M280.4 334.1h0M270.2 336.1h0M267.0 340.6h0M278.5 335.4h0M271.1 333.1h0M297.7 322.7h0M300.1 316.1h0M296.7 315.1h0M277.2 329.0h0M283.3 331.1h0M321.5 303.4h0M285.8 329.5h0M291.5 318.8h0M281.5 334.0h0M301.2 317.1h0M307.5 308.6h0M305.9 317.4h0M299.5 318.5h0M304.5 311.6h0M288.1 322.7h0M302.9 313.3h0M274.3 342.1h0M293.7 318.5h0M307.2 314.3h0M273.9 336.2h0M305.7 307.7h0M297.5 323.5h0M270.2 338.0h0M261.9 341.2h0M262.7 353.1h0M273.3 339.0h0M297.6 319.4h0M296.3 321.4h0M313.5 310.9h0M331.8 299.6h0M283.4 333.5h0M256.0 349.9h0M265.6 343.3h0M256.2 347.9h0M279.6 334.2h0M282.3 336.1h0M314.4 302.5h0M265.2 349.9h0M287.5 326.1h0M287.4 332.9h0M289.5 321.1h0M281.7 328.5h0M329.0 294.9h0M288.5 323.3h0M292.5 332.3h0M304.3 315.0h0M295.8 323.2h0M323.1 299.3h0M270.5 343.5h0M288.3 322.3h0M282.8 333.7h0M290.4 324.4h0M307.6 316.1h0M281.1 334.1h0M257.3 351.6h0M293.1 331.8h0M273.2 335.5h0M302.7 318.3h0M295.8 321.3h0M328.7 299.8h0M301.4 319.2h0M277.1 334.5h0M298.3 320.5h0M310.6 302.3h0M293.3 327.5h0M291.3 324.8h0M287.1 332.3h0M284.6 332.1h0M275.5 341.7h0M313.2 307.8h0M298.9 321.8h0M266.6 337.1h0M310.8 308.5h0M292.3 320.1h0M295.9 317.0h0M294.6 322.3h0M312.9 304.5h0M252.8 355.3h0M291.6 330.0h0M301.7 323.7h0M289.6 328.7h0M262.8 348.4h0M269.5 331.6h0M295.8 321.2h0M317.0 308.2h0M257.9 359.1h0M281.6 332.0h0M297.7 315.2h0M296.4 330.7h0M301.8 325.6h0M312.7 306.1h0M305.9 318.7h0M266.3 347.2h0M287.1 330.9h0M273.0 339.7h0M292.3 328.6h0M319.1 307.8h0M310.6 314.1h0M333.3 289.9h0M316.9 312.6h0M312.0 311.6h0M310.8 304.8h0M280.8 327.8h0M290.4 328.3h0M303.4 317.1h0M306.3 311.3h0M303.6 310.2h0M276.3 336.2h0M274.1 335.4h0M272.8 341.0h0M325.5 298.4h0M291.0 324.6h0M307.6 317.9h0M291.9 319.6h0M289.9 326.0h0M288.7 335.0h0M286.1 329.7h0M294.2 322.3h0M307.1 306.2h0M270.1 347.2h0M293.6 323.4h0M287.6 326.1h0M285.1 330.9h0M304.4 315.1h0M320.8 301.5h0M268.9 344.2h0M295.5 319.2h0M311.7 307.6h0M307.7 317.7h0M264.2 342.0h0M301.5 315.9h0M285.6 330.0h0M284.9 336.5h0M306.0 314.5h0M274.5 346.0h0M296.9 324.0h0M307.7 311.0h0M281.2 328.5h0M275.0 331.4h0M330.3 301.0h0M274.9 336.9h0M315.8 309.6h0M280.6 337.9h0M295.9 322.4h0M283.8 336.6h0M295.2 327.3h0M295.4 324.1h0M273.3 340.4h0M289.8 321.9h0M308.9 309.5h0M278.7 337.6h0M253.4 357.4h0M297.3 320.4h0M277.5 334.3h0M298.8 322.8h0M285.3 328.7h0M278.4 325.8h0M287.6 330.4h0M298.5 313.2h0M297.9 319.9h0M269.0 341.1h0M267.7 347.4h0M269.9 346.3h0M312.2 305.9h0M295.0 326.5h0M275.6 338.9h0M286.9 321.2h0M315.0 304.9h0M271.5 344.4h0M284.1 335.6h0M304.9 316.0h0M304.4 316.0h0M303.0 316.2h0M275.5 339.5h0M291.5 327.0h0M249.4 357.2h0M284.8 327.7h0M280.5 331.9h0M281.1 322.1h0M312.1 313.4h0M287.8 326.2h0M287.6 324.5h0M303.6 309.5h0M322.9 302.1h0M276.6 336.1h0M304.1 312.1h0M286.0 323.7h0M263.9 345.5h0M281.3 332.0h0M297.2 319.1h0M287.0 332.2h0M283.5 339.2h0M291.3 332.0h0M286.4 325.7h0M286.4 326.0h0M273.2 340.7h0M301.8 313.4h0M251.4 353.0h0M294.8 319.4h0M277.8 337.2h0M305.1 310.3h0M271.1 340.7h0M250.2 358.1h0M300.2 314.9h0M309.5 309.6h0M259.2 346.9h0M298.8 314.3h0M296.5 317.1h0M274.1 334.1h0M302.6 313.7h0M276.3 330.0h0M309.2 315.1h0M312.7 317.0h0M284.2 333.7h0M285.6 329.3h0M293.0 320.4h0M258.0 346.0h0M279.9 330.3h0M291.6 328.9h0M330.9 296.7h0M312.8 311.2h0M296.2 316.9h0M276.2 334.3h0M298.3 317.3h0M293.2 322.5h0M267.8 337.7h0M287.0 333.8h0M267.7 344.6h0M282.7 334.1h0M234.3 369.8h0M316.7 310.8h0M282.3 329.3h0M272.3 339.8h0M279.9 335.6h0M262.1 344.8h0M288.2 325.8h0M315.0 302.9h0M296.4 323.7h0M284.8 326.5h0M288.7 325.9h0M293.0 322.4h0M284.3 330.3h0M280.7 332.2h0M291.6 327.4h0M295.9 319.2h0M281.5 329.3h0M296.4 325.2h0M269.9 340.0h0M259.5 350.4h0M257.6 353.9h0M297.4 322.9h0M277.5 335.8h0M290.0 332.4h0M277.2 331.3h0M284.3 331.9h0M294.0 317.1h0M265.9 343.9h0M279.4 337.5h0M316.7 314.9h0M325.1 299.1h0M293.9 325.5h0M294.5 325.8h0M280.5 332.2h0M272.1 342.9h0M304.9 318.9h0M312.6 309.7h0M299.5 325.2h0M300.9 322.8h0M278.6 330.1h0M312.0 314.7h0M296.5 325.6h0M280.7 333.8h0M310.4 310.4h0M277.0 342.5h0M274.3 337.8h0M293.9 321.6h0M273.5 340.3h0M273.1 343.2h0M302.7 313.5h0M294.8 326.8h0M283.4 335.5h0M302.9 313.1h0M294.4 330.9h0M305.8 321.6h0M306.3 321.4h0M306.2 318.0h0M272.6 340.7h0M307.3 311.3h0M292.5 325.1h0M300.0 315.4h0M292.8 329.8h0M305.4 306.8h0M289.2 323.0h0M283.1 329.1h0M301.9 314.0h0M285.4 323.4h0M271.0 344.9h0M287.9 326.2h0M285.9 326.6h0M284.9 335.3h0M288.1 319.1h0M279.0 331.6h0M278.1 335.6h0M341.4 289.4h0M274.9 337.8h0M296.6 316.3h0M293.8 314.3h0M279.5 332.1h0M281.0 330.9h0M271.6 339.6h0M268.7 336.9h0M319.5 303.1h0M271.4 348.5h0M274.7 339.2h0M307.2 315.3h0M266.4 347.6h0M314.4 310.8h0M289.3 323.1h0M314.6 307.5h0M274.8 335.8h0M278.5 331.9h0M303.9 316.7h0M283.9 328.1h0M277.2 336.7h0M306.2 313.6h0M288.8 323.0h0M274.6 337.3h0M289.6 324.7h0M298.3 324.2h0M285.1 330.9h0M329.5 294.1h0M299.6 321.1h0M288.4 327.2h0M292.7 323.4h0M306.2 311.2h0M280.3 328.7h0M284.2 324.3h0M289.7 335.5h0M284.3 324.1h0M282.9 327.5h0M239.5 370.0h0M277.2 333.9h0M287.2 331.1h0M306.4 319.6h0M272.9 333.9h0M289.4 325.6h0M283.8 332.1h0M290.6 323.4h0M321.4 299.7h0M315.7 300.7h0M319.1 305.2h0M271.4 337.1h0M274.7 329.8h0M301.0 319.2h0M270.4 341.1h0M305.4 313.4h0M348.5 282.3h0M269.8 340.9h0M307.1 312.6h0M292.4 324.1h0M298.9 314.7h0M286.4 329.9h0M259.9 344.1h0M281.1 337.9h0M274.4 337.7h0M266.8 341.5h0M287.9 326.0h0M294.7 324.1h0M273.1 336.6h0M301.1 317.3h0M292.1 323.1h0M299.3 315.8h0M298.0 320.9h0M280.8 337.8h0M332.8 296.0h0M301.3 323.0h0M308.0 311.2h0M285.8 323.6h0M291.8 325.9h0M306.2 312.2h0M277.1 330.9h0M296.6 321.2h0M318.4 309.4h0M286.5 324.4h0M294.7 324.6h0M271.2 337.8h0M294.4 319.6h0M298.3 315.7h0M291.8 325.0h0M301.0 311.4h0M286.0 325.0h0M288.2 330.3h0M311.2 304.9h0M307.7 315.4h0M297.3 318.1h0M323.0 302.7h0M291.5 324.2h0M290.8 312.2h0M304.4 314.8h0M332.5 297.6h0M286.7 331.8h0M287.6 330.4h0M288.3 328.1h0M282.5 328.3h0M271.6 338.6h0M303.5 322.0h0M309.3 306.0h0M302.2 323.0h0M298.7 326.8h0M284.6 327.3h0M303.4 309.0h0M296.9 319.6h0M280.7 339.6h0M295.7 316.9h0M274.4 340.5h0M286.6 324.4h0M278.5 328.2h0M305.1 310.3h0M280.0 327.9h0M299.3 320.0h0M267.8 340.1h0M295.5 321.0h0M303.5 310.8h0M290.6 326.6h0M277.9 339.5h0M280.2 331.7h0M295.2 325.6h0M291.2 330.0h0M283.9 327.4h0M267.1 343.1h0M266.4 339.9h0M283.8 338.1h0M276.9 333.4h0M294.7 322.7h0M303.0 319.7h0M292.1 329.5h0M280.4 331.5h0M285.3 329.3h0M300.8 321.5h0M262.6 343.6h0M304.4 311.2h0M303.2 316.6h0M280.8 334.8h0M291.7 326.5h0M291.4 322.1h0M311.2 313.0h0M301.7 318.0h0M278.6 329.2h0M236.9 366.0h0M326.0 304.3h0M305.4 317.5h0M282.2 332.3h0M262.8 345.3h0M281.3 342.9h0M271.0 336.5h0M314.5 307.9h0M304.2 310.3h0M260.1 351.5h0M301.1 316.6h0M282.0 332.1h0M296.9 317.0h0M278.3 340.3h0M256.8 355.4h0M262.9 347.1h0M290.2 325.8h0M305.1 313.3h0M315.2 309.0h0M314.5 303.3h0M289.4 321.8h0M295.1 313.8h0M300.7 325.1h0M289.0 328.3h0M311.5 311.6h0M282.5 319.1h0M296.9 326.4h0M292.9 334.0h0M296.9 317.6h0M317.2 306.2h0M297.1 322.0h0M304.7 306.0h0M297.0 318.2h0M295.3 320.1h0M316.6 313.8h0M284.3 330.2h0M291.0 324.0h0M306.4 308.8h0M301.2 325.1h0M293.6 329.6h0M288.6 332.0h0M269.4 342.3h0M295.6 323.9h0M282.8 330.5h0M310.6 306.8h0M299.6 312.6h0M252.9 355.7h0M296.7 317.6h0M305.0 310.9h0M290.0 327.6h0M296.6 315.0h0M298.2 326.0h0M300.7 316.2h0M274.6 332.8h0M296.3 320.9h0M315.0 305.1h0M268.9 347.4h0M301.0 313.0h0M253.0 347.7h0M299.8 320.6h0M313.8 306.4h0M308.4 314.4h0M268.5 348.7h0M327.7 299.9h0M297.6 320.8h0M312.4 307.3h0M276.1 334.6h0M277.8 345.3h0M282.4 334.2h0M295.0 320.3h0M301.4 315.7h0M269.2 342.8h0M297.0 323.7h0M306.8 307.6h0M310.7 306.2h0M285.4 330.6h0M283.1 331.5h0M317.2 301.1h0M297.7 321.3h0M283.8 334.9h0M292.2 316.5h0M284.8 326.4h0M293.6 325.2h0M284.9 327.3h0M296.2 329.0h0M289.7 325.5h0M282.2 333.0h0M278.0 336.3h0M289.2 331.0h0M300.2 323.3h0M299.4 322.3h0M284.1 334.1h0M296.1 314.5h0M326.4 293.1h0M268.4 341.3h0M296.1 323.5h0M271.0 343.7h0M303.2 316.9h0M299.4 317.4h0M300.1 318.9h0M286.2 327.5h0M283.1 328.9h0M261.6 344.2h0M284.5 331.5h0M283.5 332.6h0M273.2 336.6h0M279.3 335.1h0M317.7 309.2h0M286.4 328.8h0M279.1 331.8h0M257.6 353.8h0M290.5 328.4h0M271.6 340.2h0M311.5 317.8h0M274.8 339.1h0M276.4 336.0h0M286.7 329.7h0M273.4 338.5h0M291.7 322.1h0M306.0 319.7h0M308.7 312.7h0M299.1 320.9h0M283.0 324.2h0M320.9 308.4h0M333.2 298.0h0M306.0 310.9h0M263.5 345.2h0M298.4 322.5h0M289.2 330.1h0M296.1 323.1h0M304.0 319.1h0M310.0 306.0h0M276.7 339.9h0M297.5 324.2h0M275.0 336.9h0M294.9 329.0h0M322.0 300.9h0M293.1 328.7h0M288.0 325.5h0M315.6 310.6h0M288.1 327.2h0M276.3 339.1h0M298.2 315.8h0M274.6 336.9h0M289.9 323.5h0M284.5 331.0h0M270.8 337.9h0M325.9 303.1h0M281.6 329.2h0M313.3 311.9h0M285.7 335.0h0M303.7 314.6h0M305.7 319.7h0M326.2 296.2h0M287.3 322.7h0M282.8 327.8h0M297.9 317.9h0M288.4 323.9h0M266.8 349.5h0M306.0 319.8h0M287.0 325.6h0M282.9 335.2h0M281.0 335.4h0M303.2 319.2h0M260.5 344.6h0M295.5 326.6h0M277.2 337.8h0M299.6 313.8h0M270.9 341.4h0M330.6 292.3h0M279.6 332.6h0M283.0 330.9h0M271.1 336.1h0M306.0 319.8h0M289.3 334.6h0M263.0 346.0h0M292.0 326.5h0M289.8 320.7h0M268.8 344.2h0M297.7 321.5h0M282.9 331.8h0M290.0 322.2h0M299.4 324.1h0M275.8 336.5h0M302.1 320.3h0M272.6 334.1h0M258.6 357.1h0M277.3 331.7h0M299.1 321.2h0M289.4 331.1h0M268.8 342.2h0M311.4 317.1h0M319.1 300.2h0M276.8 339.3h0M316.5 301.7h0M291.0 326.1h0M298.0 319.4h0M321.7 309.3h0M306.0 308.1h0M249.7 349.6h0M294.3 329.2h0M263.6 347.9h0M288.3 322.7h0M285.1 333.0h0M288.8 316.4h0M307.8 308.8h0M290.8 328.6h0M287.9 337.1h0M287.9 323.2h0M301.1 312.1h0M311.4 314.0h0M342.2 290.9h0M286.7 329.5h0M291.1 331.8h0M287.4 327.4h0M280.9 328.2h0M302.2 318.3h0M283.2 336.7h0M271.6 342.5h0M305.6 321.5h0M319.3 309.8h0M294.8 324.2h0M307.1 311.3h0M296.8 321.6h0M278.5 331.4h0M300.5 321.6h0M294.6 313.5h0M280.2 330.1h0M312.8 302.3h0M295.9 325.8h0M311.0 311.6h0M301.8 321.4h0M283.7 327.0h0M285.0 335.6h0M298.6 315.2h0M294.7 325.1h0M282.5 336.1h0M300.5 321.5h0M278.0 338.5h0M299.2 323.2h0M302.1 312.5h0M249.6 356.5h0M267.2 347.4h0M294.5 323.0h0M295.9 325.8h0M310.8 318.1h0M295.1 324.6h0M284.3 332.7h0M295.4 320.2h0M274.5 342.5h0M306.6 307.8h0M318.9 310.9h0M306.2 318.7h0M280.6 337.8h0M334.7 297.8h0M276.3 334.0h0M277.6 336.1h0M308.8 316.9h0M304.1 315.4h0M284.7 335.6h0M279.5 331.1h0M298.2 320.8h0M291.7 328.9h0M294.4 324.1h0M277.0 336.9h0M270.0 343.4h0M313.9 305.0h0M306.2 317.4h0M281.8 335.5h0M314.9 305.8h0M277.1 335.7h0M264.1 343.6h0M327.6 302.2h0M307.9 311.0h0M281.1 330.7h0M283.2 325.4h0M276.9 334.8h0M275.7 339.2h0M262.7 346.4h0M284.1 328.0h0M313.3 309.4h0M307.8 312.0h0M294.1 323.6h0M275.7 341.2h0M294.7 326.1h0M289.8 324.5h0M312.2 318.9h0M325.9 292.3h0M293.1 326.9h0M278.1 336.8h0M319.5 300.0h0M267.4 344.9h0M258.9 350.6h0M303.9 319.3h0M276.9 328.6h0M299.7 312.4h0M257.7 353.8h0M285.4 325.6h0M265.5 337.6h0M280.5 333.7h0M311.6 307.4h0M300.1 322.3h0M306.6 316.0h0M310.9 312.3h0M294.6 324.5h0M274.5 339.5h0M271.7 341.8h0M302.6 319.4h0M261.4 349.9h0M314.3 307.4h0M316.9 305.9h0M313.8 307.1h0M305.5 314.1h0M335.4 297.5h0M282.6 334.3h0M304.7 321.3h0M300.1 315.6h0M275.9 334.5h0M274.8 342.8h0M280.7 333.3h0M269.7 340.8h0M271.2 336.5h0M253.7 347.0h0M297.3 319.3h0M307.0 313.5h0M295.4 329.2h0M293.5 320.5h0M310.6 315.7h0M286.0 329.2h0M313.7 302.2h0M282.1 330.5h0M274.3 339.3h0M287.8 332.2h0M247.6 357.3h0M282.6 334.4h0M303.2 325.0h0M313.9 306.6h0M279.4 334.7h0M274.0 340.3h0M317.3 303.5h0M305.5 308.9h0M325.4 301.9h0M312.4 305.8h0M307.2 313.4h0M297.9 320.2h0M275.0 335.5h0M272.8 338.4h0M284.1 333.8h0M292.8 318.9h0M279.6 333.9h0M262.5 339.7h0M324.0 299.5h0M261.9 345.9h0M291.2 330.3h0M269.7 333.4h0M286.8 321.7h0M331.6 292.6h0M307.0 312.3h0M282.8 334.3h0M318.5 304.5h0M281.1 338.3h0M321.1 298.4h0M296.0 321.4h0M285.3 326.2h0M294.2 316.8h0M275.6 343.0h0M269.3 347.2h0M286.0 322.2h0M285.4 322.5h0M289.7 326.9h0M299.8 322.8h0M298.9 327.0h0M298.2 320.1h0M287.8 334.1h0M279.2 333.2h0M302.6 314.0h0M280.7 334.8h0M294.7 320.4h0M277.6 330.4h0M290.0 324.8h0M281.1 341.0h0M292.6 323.6h0M314.8 308.2h0M286.4 329.6h0M286.1 319.4h0M277.6 328.0h0M284.7 328.3h0M291.0 323.6h0M273.2 334.3h0M294.9 315.0h0M280.8 335.0h0M284.8 330.0h0M309.2 310.7h0M281.5 331.4h0M288.9 321.4h0M293.4 317.2h0M305.5 321.5h0M271.0 342.7h0M267.8 344.0h0M224.7 383.6h0M355.3 262.7h0" stroke="#7c7c7c" stroke-width="1.5" stroke-linecap="round" fill="none"/>
<path d="M223.3 375.5L355.7 277.3" stroke="#2a2f8a" stroke-width="1.5" fill="none"/>
<rect x="220.9" y="260.2" width="95.6" height="24.6" rx="1.5" fill="#fff" fill-opacity="0.8" stroke="#efefef" stroke-width="0.8"/>
<path d="M223.6 266.3h16" stroke="#7272b4" stroke-width="1.9"/>
<text class="s" transform="matrix(1,0,0,1.1,0,-26.96)" x="245.77 249.98 252.98 258.41 260.79 265.38 267.75 272.40 277.10 281.31 284.31 289.74 292.12 296.76 301.35 303.73 308.37" y="269.6" font-size="7.96">y = 0.86x + 13.92</text>
<text x="245.1" y="280.0" font-size="7.96" font-style="italic" class="s">R</text>
<text x="251.5" y="277.3" font-size="5.4" class="s">2</text>
<text x="256.7" y="280.0" font-size="7.96" class="s">=</text>
<text class="s" transform="matrix(1,0,0,1.1,0,-28.00)" x="263.91 268.50 270.87 275.52 280.16" y="280.0" font-size="7.96">0.926</text>
<rect x="217.5" y="256.5" width="145.0" height="132.0" fill="none" stroke="#3c3c3c" stroke-width="1"/>
<text class="s" transform="matrix(1,0,0,1.1,0,-39.84)" x="235.83 241.32 245.97" y="398.4" font-size="7.96">−20</text>
<text class="s" transform="matrix(1,0,0,1.1,0,-39.84)" x="268.39" y="398.4" font-size="7.96">0</text>
<text class="s" transform="matrix(1,0,0,1.1,0,-39.84)" x="294.46 299.11" y="398.4" font-size="7.96">20</text>
<text class="s" transform="matrix(1,0,0,1.1,0,-39.84)" x="322.56 327.21" y="398.4" font-size="7.96">40</text>
<text class="s" transform="matrix(1,0,0,1.1,0,-39.84)" x="350.46 355.11" y="398.4" font-size="7.96">60</text>
<text class="s" transform="matrix(1,0,0,1.1,0,-38.47)" x="199.93 205.42 210.06" y="384.7" font-size="7.96">−20</text>
<text class="s" transform="matrix(1,0,0,1.1,0,-36.05)" x="210.06" y="360.5" font-size="7.96">0</text>
<text class="s" transform="matrix(1,0,0,1.1,0,-33.63)" x="205.42 210.06" y="336.3" font-size="7.96">20</text>
<text class="s" transform="matrix(1,0,0,1.1,0,-31.22)" x="205.42 210.06" y="312.2" font-size="7.96">40</text>
<text class="s" transform="matrix(1,0,0,1.1,0,-28.80)" x="205.42 210.06" y="288.0" font-size="7.96">60</text>
<text class="s" transform="matrix(1,0,0,1.1,0,-26.38)" x="205.42 210.06" y="263.8" font-size="7.96">80</text>
<path d="M242.8 388.5v2.5M270.6 388.5v2.5M299.0 388.5v2.5M327.1 388.5v2.5M355.0 388.5v2.5M217.5 381.2h-2.5M217.5 357.0h-2.5M217.5 332.8h-2.5M217.5 308.7h-2.5M217.5 284.5h-2.5M217.5 260.3h-2.5" stroke="#333" stroke-width="0.8"/>
<text class="s" transform="matrix(1,0,0,1.1,0,-40.74)" x="233.91 240.01 242.86 247.25 251.87 256.50 261.09 263.15 267.99 269.84 274.69 277.33 281.91 284.02 289.50 292.23 294.80 299.36 303.99 308.54 313.31 315.98 317.90 322.44 327.03 329.39 332.01 337.43 343.07" y="407.4" font-size="7.96">Ground Truth Attenuation (HU)</text>
<text class="s" transform="translate(195.3,322.5) rotate(-90) scale(1,1.1)" x="-49.98 -43.48 -39.00 -34.64 -30.64 -25.94 -23.08 -18.68 -14.10 -11.99 -6.51 -3.78 -1.21 3.35 7.98 12.53 17.30 19.97 21.89 26.44 31.02 33.38 36.00 41.42 47.06" y="0" font-size="7.96">Measured Attenuation (HU)</text>
<text class="s" transform="matrix(1,0,0,1.1,0,-24.37)" x="263.26 266.07 271.82 274.98 280.48 284.05 289.35 294.76 297.12 299.69 305.29 309.16 314.56" y="243.7" font-size="9.02">Internal Tool</text>
<text class="s" transform="matrix(1,0,0,1.1,0,-25.37)" x="247.80 255.60 260.91 265.60 270.48 272.89 278.23 280.86 287.33 290.61 293.77 299.24 304.79 310.25 315.91 319.09 321.48 326.94" y="253.7" font-size="9.02">Muscle Attenuation</text>
<text transform="translate(276.00,0) scale(1.14,1) translate(-276.00,0)" x="218.85 224.44 228.83 234.42 239.21 244.41 252.40 257.98 262.78 275.96 283.95 289.62 296.01 300.00 306.39 311.18 321.97 327.56" y="437.2" font-size="14.8" font-family='"Liberation Serif", serif' fill="#1c1c1c">(f) Int Muscle Att</text>
<path d="M414.2 256.5V388.5M444.5 256.5V388.5M473.8 256.5V388.5M503.6 256.5V388.5M533.4 256.5V388.5M410.5 382.4H551.5M410.5 354.4H551.5M410.5 326.5H551.5M410.5 298.6H551.5M410.5 270.6H551.5" stroke="#e2e2e2" stroke-width="0.9" fill="none"/>
<path d="M455.9 345.0h0M442.9 358.6h0M432.7 370.1h0M427.1 372.3h0M423.6 376.5h0M438.7 364.2h0M430.4 368.0h0M429.9 370.4h0M435.9 366.3h0M437.8 366.1h0M422.0 377.0h0M452.4 351.0h0M423.0 377.7h0M474.6 330.2h0M446.7 357.3h0M433.3 366.8h0M461.1 340.2h0M438.7 362.9h0M448.3 353.1h0M439.8 360.8h0M455.8 344.1h0M455.1 347.0h0M429.6 371.9h0M432.0 367.1h0M443.0 359.5h0M436.0 365.3h0M421.9 377.3h0M479.9 323.8h0M422.4 377.4h0M422.8 376.9h0M427.0 372.8h0M446.3 357.7h0M472.7 336.6h0M435.7 365.3h0M434.1 366.6h0M440.6 361.8h0M434.4 367.3h0M439.5 362.3h0M427.9 372.3h0M444.4 358.3h0M443.7 358.6h0M421.4 378.1h0M437.1 365.3h0M440.5 364.5h0M446.2 357.2h0M430.3 370.0h0M426.7 375.8h0M429.3 372.2h0M446.0 359.8h0M430.0 370.9h0M430.7 369.3h0M456.7 345.5h0M430.6 369.2h0M429.7 369.1h0M437.4 364.0h0M441.0 359.5h0M454.6 346.2h0M429.8 372.0h0M425.3 373.7h0M437.0 363.1h0M447.5 354.8h0M425.8 373.3h0M433.2 366.7h0M442.5 359.2h0M441.4 359.7h0M439.5 360.7h0M435.5 364.6h0M430.5 371.4h0M429.4 369.9h0M457.0 343.8h0M428.1 371.2h0M458.5 344.9h0M426.8 372.8h0M424.4 375.9h0M467.5 336.7h0M429.7 370.5h0M437.1 362.9h0M437.7 365.0h0M431.7 369.8h0M486.8 320.2h0M439.6 360.7h0M426.7 373.0h0M447.6 352.5h0M448.7 352.3h0M427.9 372.8h0M445.8 358.7h0M439.3 364.2h0M450.5 353.4h0M448.7 351.3h0M438.3 362.9h0M434.0 366.0h0M452.2 353.2h0M442.5 360.4h0M425.7 374.9h0M432.7 369.0h0M433.2 367.5h0M435.5 365.8h0M434.3 367.7h0M445.0 358.4h0M468.8 335.5h0M445.4 359.0h0M444.3 355.3h0M460.1 344.3h0M441.0 361.6h0M440.8 360.3h0M448.3 352.2h0M444.0 357.6h0M431.5 368.8h0M427.7 371.6h0M437.1 364.7h0M462.4 342.8h0M435.8 365.7h0M456.8 347.7h0M444.0 359.8h0M435.0 363.8h0M420.7 377.8h0M441.3 360.3h0M435.3 364.1h0M425.1 376.0h0M445.5 357.3h0M438.1 361.1h0M443.4 357.1h0M432.1 368.7h0M441.0 362.8h0M433.3 365.8h0M455.1 350.2h0M440.0 362.6h0M426.2 373.7h0M441.2 360.4h0M439.3 361.8h0M436.1 364.4h0M426.5 373.0h0M455.0 342.4h0M431.0 368.9h0M466.9 336.9h0M431.6 371.2h0M438.8 361.0h0M437.9 364.0h0M440.3 359.9h0M433.1 367.4h0M481.3 320.8h0M447.2 352.8h0M431.3 367.0h0M459.1 344.4h0M450.9 353.8h0M453.0 349.6h0M426.6 375.1h0M445.3 357.3h0M434.0 366.8h0M436.8 367.7h0M436.9 362.8h0M438.9 363.9h0M467.1 337.9h0M443.5 358.0h0M423.8 375.8h0M458.9 343.3h0M439.5 362.0h0M440.1 361.0h0M423.9 376.6h0M443.8 356.8h0M433.1 368.5h0M453.0 352.2h0M444.6 357.8h0M450.7 354.1h0M434.3 370.4h0M423.9 374.3h0M453.2 351.2h0M444.1 358.0h0M434.7 363.4h0M432.5 369.4h0M429.8 370.7h0M424.2 375.1h0M427.7 371.4h0M437.6 365.4h0M467.6 340.0h0M444.6 355.6h0M467.5 336.1h0M428.8 372.7h0M459.1 347.7h0M433.9 365.7h0M464.0 336.3h0M458.5 345.0h0M438.9 362.7h0M440.1 362.1h0M458.3 350.9h0M430.5 368.4h0M422.4 377.0h0M450.5 349.6h0M485.1 322.7h0M423.6 376.3h0M441.1 360.6h0M427.6 372.5h0M435.2 366.2h0M428.9 369.9h0M451.5 348.5h0M432.7 366.6h0M436.2 365.5h0M428.3 371.9h0M449.0 355.2h0M433.0 364.5h0M434.3 367.1h0M437.5 363.3h0M425.9 374.7h0M438.2 362.2h0M425.0 373.9h0M435.9 366.3h0M435.9 364.2h0M434.0 367.7h0M436.1 365.6h0M431.5 369.1h0M445.5 357.8h0M438.4 361.4h0M433.3 367.7h0M435.8 365.0h0M431.5 368.4h0M436.9 365.3h0M434.9 366.3h0M424.0 375.8h0M468.6 340.3h0M433.6 365.0h0M431.5 368.1h0M442.4 358.7h0M422.7 376.2h0M434.1 368.3h0M442.5 359.6h0M435.4 363.9h0M439.2 362.9h0M433.6 366.8h0M434.4 366.0h0M437.9 365.5h0M440.3 362.0h0M428.2 371.3h0M442.1 359.4h0M442.3 356.0h0M432.0 368.0h0M432.4 370.8h0M439.9 359.1h0M457.1 349.0h0M455.6 346.4h0M430.2 369.8h0M432.7 367.6h0M432.5 367.8h0M443.5 359.7h0M436.6 363.6h0M442.6 358.7h0M458.8 345.4h0M441.1 359.4h0M443.7 354.2h0M442.8 360.9h0M430.6 370.5h0M436.4 364.8h0M435.5 366.7h0M432.7 368.0h0M464.3 341.8h0M445.7 356.3h0M420.4 378.2h0M430.0 370.0h0M436.8 364.7h0M437.9 362.7h0M429.9 370.1h0M434.3 365.6h0M433.7 367.2h0M432.9 369.4h0M446.6 354.2h0M437.3 364.3h0M432.1 368.8h0M434.7 365.0h0M437.9 362.8h0M427.9 372.6h0M432.2 365.5h0M446.3 352.8h0M453.0 350.6h0M421.5 379.1h0M431.7 367.6h0M449.9 351.7h0M426.4 373.5h0M448.3 353.4h0M438.8 362.7h0M437.5 362.8h0M435.1 365.7h0M435.6 364.1h0M449.1 351.2h0M430.8 369.6h0M435.5 364.8h0M434.1 365.9h0M424.9 374.8h0M439.6 360.9h0M438.0 363.4h0M433.3 366.3h0M426.4 374.0h0M434.6 366.5h0M436.5 366.7h0M438.3 365.0h0M439.1 361.8h0M427.5 372.6h0M454.3 348.5h0M450.1 349.5h0M450.0 352.4h0M444.8 353.3h0M460.5 347.0h0M449.0 353.0h0M456.4 343.9h0M442.7 358.3h0M440.3 360.2h0M447.4 355.9h0M431.3 371.1h0M435.9 365.3h0M441.1 359.2h0M432.3 367.8h0M421.3 378.7h0M432.3 367.4h0M430.9 369.6h0M451.2 351.6h0M423.5 375.6h0M430.7 370.8h0M467.1 333.8h0M421.6 376.3h0M435.3 367.2h0M431.7 368.6h0M424.4 376.3h0M438.5 362.4h0M429.7 369.9h0M420.4 377.6h0M432.0 369.6h0M426.5 373.9h0M455.2 346.1h0M438.5 362.9h0M428.1 371.5h0M440.9 358.0h0M475.7 326.7h0M426.9 374.3h0M428.8 369.6h0M437.1 365.8h0M438.9 361.3h0M440.4 360.9h0M425.5 373.8h0M439.6 361.6h0M427.6 372.0h0M430.5 372.0h0M451.8 350.1h0M430.9 370.5h0M446.5 357.1h0M434.5 366.3h0M440.2 361.1h0M440.1 361.9h0M447.1 351.8h0M448.6 352.2h0M430.8 371.8h0M468.4 337.0h0M446.6 357.4h0M452.7 351.3h0M453.5 345.6h0M433.2 367.4h0M437.6 362.3h0M439.4 361.0h0M442.1 361.6h0M469.9 337.3h0M474.4 330.8h0M473.9 329.8h0M469.7 336.6h0M437.7 363.0h0M430.2 370.1h0M438.8 362.1h0M435.3 363.9h0M428.9 370.6h0M435.7 362.8h0M444.4 358.2h0M439.1 362.0h0M452.2 354.5h0M447.3 355.2h0M444.4 356.1h0M459.6 347.5h0M437.3 365.1h0M439.6 360.9h0M464.2 341.4h0M453.4 348.1h0M425.7 372.5h0M440.2 359.6h0M466.3 341.1h0M445.3 357.0h0M459.0 343.6h0M425.7 374.5h0M444.9 357.4h0M423.2 376.5h0M449.1 356.8h0M427.6 371.8h0M463.5 337.9h0M431.7 367.1h0M440.5 363.8h0M442.6 358.7h0M438.7 361.2h0M425.6 374.1h0M449.5 354.7h0M433.4 369.0h0M435.8 363.6h0M441.8 361.9h0M435.2 367.1h0M471.8 327.8h0M465.8 342.5h0M447.7 353.4h0M455.5 346.6h0M430.1 370.2h0M429.6 370.3h0M461.0 345.8h0M430.3 370.1h0M435.4 364.4h0M425.6 373.9h0M434.5 366.4h0M444.5 360.1h0M437.9 363.9h0M425.7 372.8h0M450.6 349.9h0M441.0 359.7h0M421.1 378.1h0M428.4 370.8h0M434.8 365.4h0M432.9 368.9h0M440.7 360.0h0M455.6 345.6h0M437.6 365.3h0M437.5 362.3h0M461.7 343.9h0M467.8 333.8h0M435.0 365.8h0M468.2 335.0h0M424.3 376.3h0M466.8 334.4h0M445.2 357.2h0M430.2 370.7h0M433.2 366.1h0M440.2 362.1h0M461.1 341.7h0M451.6 347.9h0M442.4 360.2h0M434.3 367.8h0M439.7 361.6h0M427.5 373.1h0M434.0 367.0h0M430.0 371.1h0M434.4 367.4h0M444.4 361.0h0M434.8 367.9h0M424.1 375.4h0M455.3 347.5h0M438.1 362.5h0M444.0 355.9h0M431.1 370.4h0M435.3 365.7h0M434.9 366.7h0M462.4 339.9h0M427.1 373.6h0M451.2 350.3h0M437.1 365.7h0M448.0 353.8h0M431.7 368.5h0M424.6 374.1h0M451.6 349.9h0M433.9 365.7h0M444.4 357.2h0M447.9 355.6h0M424.2 376.2h0M432.7 367.7h0M435.7 366.2h0M445.8 358.1h0M446.3 359.6h0M449.3 355.0h0M435.6 366.7h0M460.7 346.2h0M438.6 361.6h0M437.4 366.0h0M433.0 367.5h0M427.9 372.1h0M438.0 364.0h0M441.6 361.3h0M441.9 360.3h0M484.5 318.2h0M442.3 358.3h0M443.2 359.2h0M426.8 373.4h0M435.5 363.9h0M438.7 364.0h0M444.7 357.2h0M436.0 363.9h0M442.8 357.0h0M428.9 372.4h0M456.1 345.8h0M454.1 348.6h0M427.8 374.0h0M425.5 375.1h0M431.4 368.5h0M440.1 361.4h0M429.6 370.7h0M440.1 363.1h0M448.8 353.9h0M452.8 348.7h0M455.4 345.3h0M425.7 373.6h0M423.0 376.2h0M444.7 358.2h0M430.4 367.3h0M430.4 369.0h0M428.0 374.0h0M431.4 370.1h0M445.2 356.6h0M425.6 375.1h0M426.1 372.8h0M452.8 349.3h0M446.2 355.4h0M424.2 375.7h0M423.5 374.6h0M441.9 359.6h0M449.1 355.0h0M477.1 332.7h0M446.0 355.6h0M445.7 356.8h0M434.3 367.9h0M437.6 363.0h0M432.6 368.9h0M454.6 350.5h0M441.6 360.2h0M452.5 352.4h0M440.7 360.9h0M428.4 373.0h0M436.6 365.6h0M452.6 345.7h0M441.4 361.6h0M423.7 375.7h0M452.3 345.1h0M432.3 368.3h0M458.6 345.4h0M433.5 369.1h0M429.0 370.4h0M448.3 358.2h0M426.9 374.5h0M454.8 348.4h0M432.0 366.8h0M445.1 353.7h0M425.4 373.4h0M437.4 363.5h0M431.8 369.4h0M464.4 338.2h0M429.8 369.1h0M435.3 365.9h0M429.5 369.6h0M437.3 365.6h0M439.1 362.3h0M454.8 348.8h0M447.0 354.5h0M425.1 375.1h0M472.4 333.8h0M439.2 362.3h0M455.1 348.8h0M434.1 367.9h0M448.5 358.1h0M436.6 362.3h0M434.5 368.7h0M436.5 365.0h0M429.6 370.7h0M444.0 355.6h0M442.8 359.5h0M447.2 354.8h0M458.0 345.1h0M453.5 348.1h0M443.9 356.1h0M454.0 350.3h0M440.4 361.3h0M452.6 353.5h0M437.3 366.1h0M424.1 376.6h0M431.1 371.2h0M429.2 370.3h0M433.4 367.2h0M436.7 365.7h0M439.7 358.3h0M445.8 356.0h0M428.6 370.4h0M433.6 366.4h0M448.2 355.0h0M447.0 355.9h0M458.9 342.8h0M435.8 365.1h0M486.9 312.8h0M431.7 367.9h0M425.7 373.6h0M434.6 367.1h0M426.6 374.2h0M447.3 356.4h0M437.0 361.2h0M425.6 375.1h0M440.3 362.9h0M453.1 348.3h0M432.0 369.3h0M433.8 367.1h0M430.5 372.4h0M432.0 368.6h0M426.3 373.7h0M435.2 366.4h0M428.2 372.3h0M439.6 362.0h0M455.0 346.9h0M448.3 355.1h0M441.1 359.4h0M454.6 346.3h0M446.3 356.9h0M431.7 368.8h0M442.9 358.1h0M446.3 359.3h0M435.1 366.6h0M445.7 353.0h0M429.7 372.0h0M442.7 360.0h0M445.7 355.7h0M439.9 361.0h0M434.7 366.0h0M441.3 360.8h0M429.8 370.8h0M432.1 368.2h0M445.3 355.4h0M452.8 350.9h0M450.0 355.0h0M437.5 364.1h0M444.1 354.6h0M431.9 368.3h0M441.0 360.5h0M431.8 369.8h0M427.5 373.7h0M442.3 359.1h0M434.6 366.0h0M436.0 364.6h0M430.2 371.2h0M464.5 340.2h0M444.4 358.2h0M430.3 370.7h0M447.1 356.2h0M438.9 363.3h0M430.9 371.4h0M430.6 370.6h0M452.4 353.9h0M434.8 366.8h0M443.6 356.0h0M431.9 370.1h0M444.9 355.4h0M444.4 361.1h0M444.8 356.5h0M443.7 360.8h0M453.7 351.0h0M449.4 352.8h0M432.5 367.7h0M468.7 336.8h0M433.6 365.4h0M432.3 370.8h0M438.7 362.7h0M450.6 350.7h0M445.0 357.5h0M428.5 371.3h0M433.5 367.2h0M452.9 348.5h0M441.8 359.9h0M441.6 358.5h0M425.5 373.9h0M438.8 362.9h0M442.0 359.9h0M428.6 371.6h0M423.9 375.8h0M441.2 356.9h0M450.0 353.6h0M426.9 373.3h0M434.8 365.1h0M460.8 340.6h0M466.8 334.9h0M439.8 361.3h0M422.2 376.8h0M440.6 358.0h0M452.3 348.1h0M454.3 348.8h0M449.7 350.7h0M435.7 363.7h0M426.2 372.1h0M430.8 368.4h0M430.2 371.0h0M432.5 367.5h0M449.4 352.9h0M440.0 361.4h0M423.2 376.5h0M435.0 365.7h0M457.8 344.0h0M450.8 351.8h0M465.1 337.6h0M428.5 372.6h0M443.8 358.9h0M434.8 366.8h0M428.5 371.1h0M431.5 368.4h0M424.3 375.8h0M424.9 374.6h0M440.5 360.8h0M436.3 367.5h0M433.6 368.2h0M459.0 343.2h0M434.5 365.1h0M446.4 356.2h0M428.4 371.5h0M427.7 371.1h0M433.6 366.4h0M432.6 368.1h0M435.0 364.4h0M438.9 362.4h0M469.1 331.5h0M429.6 370.2h0M427.1 373.1h0M445.2 356.6h0M458.4 343.7h0M471.1 335.0h0M428.5 372.2h0M445.4 356.0h0M424.1 375.4h0M437.7 366.5h0M428.4 368.7h0M432.7 367.7h0M425.9 373.4h0M458.9 341.2h0M452.7 347.2h0M444.8 356.4h0M429.4 368.8h0M469.2 337.2h0M455.0 348.5h0M435.7 366.6h0M455.7 344.3h0M445.4 357.7h0M447.3 355.3h0M450.3 352.6h0M449.8 345.9h0M438.7 364.3h0M427.0 371.6h0M428.8 370.5h0M444.6 358.4h0M434.0 366.2h0M443.0 358.3h0M424.0 375.5h0M433.9 368.3h0M434.1 365.8h0M465.4 338.8h0M435.3 366.7h0M432.1 367.1h0M439.9 360.5h0M457.9 343.2h0M426.6 372.8h0M471.4 337.0h0M423.5 376.5h0M461.5 342.3h0M463.8 342.4h0M456.4 349.7h0M422.2 377.7h0M429.4 369.6h0M472.7 335.0h0M444.8 356.8h0M455.1 344.9h0M439.3 362.0h0M442.6 359.6h0M443.1 360.5h0M432.1 369.2h0M453.6 349.3h0M428.4 373.7h0M429.2 370.9h0M429.3 368.8h0M430.4 371.1h0M440.5 358.8h0M445.0 357.9h0M446.1 354.2h0M441.7 357.9h0M427.5 372.4h0M436.7 365.6h0M428.7 371.8h0M437.0 365.3h0M445.3 357.5h0M439.3 360.4h0M460.4 345.2h0M440.2 360.3h0M455.1 348.9h0M450.7 353.8h0M425.5 375.3h0M427.6 371.3h0M436.9 362.9h0M450.0 352.9h0M434.4 367.0h0M447.2 358.7h0M433.6 368.8h0M435.6 366.0h0M435.6 365.0h0M478.2 330.2h0M453.0 350.5h0M426.5 374.3h0M437.2 364.3h0M468.9 333.4h0M440.2 359.4h0M442.2 360.9h0M441.9 359.4h0M435.4 365.3h0M436.7 361.7h0M436.8 364.6h0M447.2 353.7h0M458.3 346.4h0M435.1 367.0h0M447.0 355.4h0M427.2 373.2h0M440.0 361.7h0M447.3 353.8h0M437.9 362.4h0M430.9 370.3h0M447.6 355.9h0M454.8 349.8h0M459.0 342.7h0M446.8 355.0h0M473.5 330.7h0M435.7 366.4h0M446.8 355.0h0M425.5 374.8h0M438.7 361.9h0M439.8 362.6h0M484.6 321.0h0M460.5 343.0h0M458.9 341.3h0M429.4 369.9h0M435.6 364.5h0M440.8 359.5h0M427.3 370.4h0M434.2 366.6h0M449.6 352.1h0M438.1 363.7h0M429.9 369.9h0M476.7 330.3h0M445.1 355.6h0M438.6 365.0h0M427.2 372.0h0M452.2 356.3h0M435.7 364.6h0M433.7 368.9h0M431.8 371.0h0M459.4 342.2h0M423.8 374.9h0M428.8 370.5h0M450.3 353.6h0M443.2 356.2h0M445.4 356.7h0M435.1 365.4h0M444.9 361.8h0M431.2 369.4h0M431.8 368.3h0M436.2 365.3h0M433.0 366.7h0M444.6 355.7h0M438.7 360.1h0M431.5 370.0h0M427.6 373.0h0M471.9 331.5h0M429.0 370.1h0M440.0 364.3h0M426.1 373.4h0M427.2 372.8h0M441.8 358.1h0M468.7 337.9h0M466.6 335.1h0M433.6 367.4h0M429.7 368.8h0M449.7 352.2h0M461.5 340.6h0M430.8 369.1h0M431.4 369.9h0M465.1 340.3h0M430.3 370.8h0M451.1 356.1h0M431.2 371.4h0M444.3 358.2h0M426.7 371.8h0M445.1 356.7h0M428.7 372.2h0M427.5 371.8h0M433.0 367.0h0M459.2 346.2h0M443.0 359.5h0M439.2 364.5h0M450.1 354.9h0M432.1 368.9h0M456.7 343.8h0M426.8 372.6h0M480.5 319.9h0M445.3 357.4h0M441.3 358.9h0M421.8 378.5h0M439.0 361.6h0M438.4 364.8h0M449.1 351.4h0M428.3 373.0h0M470.6 330.7h0M436.7 365.7h0M443.2 358.6h0M432.6 368.4h0M432.7 369.4h0M440.5 359.4h0M454.4 346.8h0M491.3 315.3h0M488.4 317.7h0M490.1 316.0h0M493.1 310.4h0M489.8 315.4h0M485.4 320.1h0M487.9 318.5h0M481.8 319.1h0M489.5 312.3h0M481.2 324.1h0M486.9 315.4h0M486.1 324.6h0M487.5 322.1h0M492.2 312.5h0M488.0 320.8h0M488.5 321.4h0M483.5 322.0h0M489.0 317.2h0M491.2 313.0h0M484.5 318.5h0M486.5 320.8h0M480.0 323.0h0M508.1 300.7h0M514.0 295.2h0M524.5 287.8h0M534.9 273.0h0M546.8 264.4h0" stroke="#7c7c7c" stroke-width="1.5" stroke-linecap="round" fill="none"/>
<path d="M416.5 382.3L545.3 266.2" stroke="#2a2f8a" stroke-width="1.5" fill="none"/>
<rect x="413.9" y="260.2" width="102.9" height="24.6" rx="1.5" fill="#fff" fill-opacity="0.8" stroke="#efefef" stroke-width="0.8"/>
<path d="M416.6 266.3h16" stroke="#7272b4" stroke-width="1.9"/>
<text class="s" transform="matrix(1,0,0,1.1,0,-26.96)" x="438.77 442.98 445.98 451.41 453.79 458.38 460.75 465.40 470.10 474.31 477.31 482.74 485.00 487.75 492.40 497.04 501.63 504.01 508.65" y="269.6" font-size="7.96">y = 0.96x + -136.65</text>
<text x="438.1" y="280.0" font-size="7.96" font-style="italic" class="s">R</text>
<text x="444.5" y="277.3" font-size="5.4" class="s">2</text>
<text x="449.7" y="280.0" font-size="7.96" class="s">=</text>
<text class="s" transform="matrix(1,0,0,1.1,0,-28.00)" x="456.91 461.50 463.87 468.52 473.16" y="280.0" font-size="7.96">0.993</text>
<rect x="410.5" y="256.5" width="141.0" height="132.0" fill="none" stroke="#3c3c3c" stroke-width="1"/>
<text class="s" transform="matrix(1,0,0,1.1,0,-39.84)" x="411.99" y="398.4" font-size="7.96">0</text>
<text class="s" transform="matrix(1,0,0,1.1,0,-39.84)" x="435.32 439.96 444.61 449.25" y="398.4" font-size="7.96">2000</text>
<text class="s" transform="matrix(1,0,0,1.1,0,-39.84)" x="464.62 469.26 473.91 478.55" y="398.4" font-size="7.96">4000</text>
<text class="s" transform="matrix(1,0,0,1.1,0,-39.84)" x="494.42 499.06 503.71 508.35" y="398.4" font-size="7.96">6000</text>
<text class="s" transform="matrix(1,0,0,1.1,0,-39.84)" x="524.22 528.86 533.51 538.15" y="398.4" font-size="7.96">8000</text>
<text class="s" transform="matrix(1,0,0,1.1,0,-38.59)" x="403.06" y="385.9" font-size="7.96">0</text>
<text class="s" transform="matrix(1,0,0,1.1,0,-35.80)" x="389.13 393.78 398.42 403.06" y="357.9" font-size="7.96">2000</text>
<text class="s" transform="matrix(1,0,0,1.1,0,-33.00)" x="389.13 393.78 398.42 403.06" y="330.0" font-size="7.96">4000</text>
<text class="s" transform="matrix(1,0,0,1.1,0,-30.21)" x="389.13 393.78 398.42 403.06" y="302.1" font-size="7.96">6000</text>
<text class="s" transform="matrix(1,0,0,1.1,0,-27.41)" x="389.13 393.78 398.42 403.06" y="274.1" font-size="7.96">8000</text>
<path d="M414.2 388.5v2.5M444.5 388.5v2.5M473.8 388.5v2.5M503.6 388.5v2.5M533.4 388.5v2.5M410.5 382.4h-2.5M410.5 354.4h-2.5M410.5 326.5h-2.5M410.5 298.6h-2.5M410.5 270.6h-2.5" stroke="#333" stroke-width="0.8"/>
<text class="s" transform="matrix(1,0,0,1.1,0,-40.74)" x="431.13 437.22 440.07 444.46 449.08 453.71 458.30 460.36 465.20 467.05 471.91 474.54 479.12 481.23 486.40 490.41 492.41 497.18 504.08 508.59 510.96 513.73 517.96 524.97 527.86" y="407.4" font-size="7.96">Ground Truth Volume (cm³)</text>
<text class="s" transform="translate(385.0,322.5) rotate(-90) scale(1,1.1)" x="-43.76 -37.27 -32.79 -28.42 -24.43 -19.73 -16.87 -12.47 -7.88 -5.78 -0.61 3.40 5.40 10.17 17.07 21.59 23.95 26.72 30.96 37.96 40.85" y="0" font-size="7.96">Measured Volume (cm³)</text>
<text class="s" transform="matrix(1,0,0,1.1,0,-24.37)" x="454.26 457.07 462.82 465.98 471.48 475.05 480.35 485.76 488.12 490.69 496.29 500.16 505.56" y="243.7" font-size="9.02">Internal Tool</text>
<text class="s" transform="matrix(1,0,0,1.1,0,-25.37)" x="424.05 430.10 435.66 441.10 446.03 451.78 454.93 460.39 465.86 471.23 476.69 482.00 486.68 489.09 494.54 499.39 502.50 505.13 511.31 516.03 518.52 524.31 532.52" y="253.7" font-size="9.02">Subcutaneous Fat Volume</text>
<text transform="translate(465.60,0) scale(1.14,1) translate(-465.60,0)" x="418.80 424.27 431.31 436.78 441.47 446.55 454.36 459.83 464.52 473.70 480.74 486.21 490.90 501.46 508.50" y="437.2" font-size="14.8" font-family='"Liberation Serif", serif' fill="#1c1c1c">(g) Int Fat Vol</text>
<path d="M612.5 256.5V388.5M635.5 256.5V388.5M658.6 256.5V388.5M681.9 256.5V388.5M705.5 256.5V388.5M729.3 256.5V388.5M600.5 387.4H740.5M600.5 371.8H740.5M600.5 356.1H740.5M600.5 340.5H740.5M600.5 324.9H740.5M600.5 309.2H740.5M600.5 293.6H740.5M600.5 277.9H740.5M600.5 262.3H740.5" stroke="#e2e2e2" stroke-width="0.9" fill="none"/>
<path d="M638.4 364.4h0M632.7 364.3h0M647.3 347.2h0M632.9 363.3h0M658.1 337.0h0M649.3 349.7h0M638.9 354.0h0M646.5 348.6h0M654.9 330.2h0M664.8 337.8h0M634.4 350.3h0M650.5 348.2h0M646.0 334.0h0M639.6 365.4h0M650.7 345.3h0M645.9 344.7h0M650.6 349.4h0M637.6 361.4h0M641.8 355.0h0M645.0 350.4h0M642.0 346.6h0M642.0 348.7h0M635.6 353.6h0M642.9 347.8h0M643.4 341.3h0M641.4 357.0h0M641.7 346.0h0M647.5 350.8h0M636.5 359.0h0M647.5 354.8h0M640.6 345.2h0M642.3 360.1h0M640.3 352.7h0M649.1 346.1h0M648.0 354.7h0M641.9 357.6h0M638.3 359.1h0M656.9 324.0h0M646.2 339.4h0M632.6 350.1h0M641.8 350.7h0M640.9 349.4h0M647.7 344.1h0M640.0 340.7h0M635.9 361.1h0M652.7 343.7h0M625.8 358.1h0M630.4 347.2h0M637.6 352.6h0M637.7 348.4h0M640.8 346.7h0M641.8 345.6h0M649.9 342.9h0M629.6 371.9h0M666.0 326.6h0M646.8 346.7h0M635.6 356.5h0M637.2 354.2h0M637.9 354.1h0M623.9 355.1h0M645.1 359.7h0M632.9 344.0h0M637.5 358.2h0M633.0 356.4h0M637.0 357.6h0M642.0 340.0h0M631.5 358.0h0M654.1 330.3h0M631.6 364.4h0M637.8 353.2h0M641.6 356.5h0M646.9 344.9h0M643.6 348.8h0M642.1 363.9h0M645.8 357.8h0M644.8 352.2h0M633.9 335.8h0M646.4 341.8h0M636.5 356.5h0M632.4 347.6h0M640.9 355.5h0M637.6 361.7h0M643.6 355.1h0M644.0 337.4h0M636.7 358.6h0M644.1 342.1h0M641.1 338.6h0M628.4 356.2h0M654.1 334.9h0M641.5 348.6h0M640.3 352.2h0M648.4 345.6h0M630.2 366.7h0M635.9 356.0h0M649.0 352.9h0M626.0 355.6h0M634.6 358.7h0M654.8 337.5h0M646.3 348.7h0M633.5 361.4h0M641.9 346.6h0M647.5 343.8h0M635.1 339.0h0M641.6 346.5h0M644.3 338.9h0M641.8 357.6h0M653.9 350.9h0M642.4 346.6h0M640.3 353.7h0M643.4 344.5h0M638.5 361.1h0M635.0 363.0h0M639.7 368.1h0M636.4 345.6h0M656.5 325.7h0M659.0 342.9h0M638.6 352.2h0M619.1 356.8h0M638.7 350.8h0M647.1 346.6h0M636.6 357.9h0M647.2 342.2h0M646.9 338.5h0M636.7 351.8h0M639.8 362.2h0M633.8 360.0h0M638.3 351.0h0M632.8 374.9h0M637.5 351.5h0M653.7 356.4h0M639.3 354.4h0M650.6 335.7h0M644.4 349.7h0M629.7 364.8h0M641.0 344.7h0M638.1 356.7h0M631.9 344.5h0M638.0 362.8h0M651.7 345.8h0M651.6 334.9h0M638.5 369.1h0M636.0 353.8h0M641.5 352.4h0M644.6 352.4h0M652.4 349.6h0M637.1 358.1h0M634.2 353.5h0M641.4 356.9h0M625.8 370.0h0M640.7 343.7h0M645.2 341.4h0M626.5 355.2h0M649.0 331.6h0M636.7 354.9h0M640.1 355.7h0M639.5 357.4h0M640.5 361.3h0M641.5 350.2h0M636.9 344.9h0M625.7 364.3h0M648.7 352.3h0M640.7 350.7h0M646.0 340.1h0M643.7 345.7h0M651.5 347.0h0M641.5 351.0h0M637.5 351.6h0M663.6 326.3h0M653.9 344.8h0M648.8 350.5h0M651.4 333.4h0M653.1 325.2h0M624.7 362.1h0M637.4 365.6h0M643.0 347.3h0M646.8 345.2h0M636.5 354.5h0M643.0 352.3h0M633.3 360.7h0M639.5 357.8h0M625.9 363.6h0M638.1 352.7h0M654.6 329.7h0M631.6 366.7h0M646.8 342.5h0M631.2 356.0h0M633.1 365.6h0M660.5 328.4h0M634.6 362.3h0M640.8 345.7h0M638.2 347.4h0M619.5 374.9h0M640.1 362.9h0M647.1 355.1h0M630.9 354.7h0M631.1 367.3h0M634.5 364.5h0M645.3 342.4h0M634.1 361.9h0M648.2 346.3h0M647.1 359.5h0M626.8 354.6h0M630.5 354.7h0M640.9 334.2h0M634.1 359.9h0M648.1 356.9h0M651.3 328.9h0M636.6 365.5h0M650.2 336.8h0M647.5 339.1h0M642.4 359.7h0M650.6 345.2h0M639.0 354.0h0M645.2 339.6h0M637.0 352.1h0M634.8 356.3h0M655.0 342.3h0M655.9 327.9h0M643.9 342.8h0M651.3 357.9h0M639.7 364.0h0M637.2 348.9h0M647.1 339.1h0M654.7 333.4h0M642.6 341.9h0M643.8 350.0h0M642.4 362.9h0M635.3 353.1h0M627.2 355.6h0M643.3 352.8h0M631.3 362.5h0M655.4 335.5h0M643.7 353.5h0M647.2 344.0h0M648.9 349.9h0M633.6 348.4h0M633.1 355.4h0M653.5 344.1h0M646.1 354.2h0M643.0 347.6h0M648.6 338.9h0M625.4 377.4h0M650.7 347.0h0M643.7 363.3h0M645.7 345.6h0M648.0 345.0h0M658.9 344.7h0M648.0 345.0h0M641.8 353.8h0M635.5 357.3h0M663.6 334.9h0M626.4 370.7h0M640.0 349.0h0M639.9 343.0h0M634.2 355.1h0M636.2 354.0h0M639.9 359.2h0M630.4 356.4h0M637.1 339.6h0M642.1 337.5h0M626.8 360.0h0M638.8 346.1h0M640.5 351.1h0M638.0 353.0h0M638.1 355.8h0M638.4 355.5h0M635.6 353.2h0M633.5 352.9h0M645.2 348.3h0M640.7 353.9h0M641.4 339.8h0M653.6 347.3h0M650.9 342.7h0M638.4 337.2h0M656.1 320.4h0M642.1 337.6h0M651.6 332.3h0M627.9 382.8h0M656.3 324.8h0M641.3 352.2h0M636.3 345.7h0M635.4 351.7h0M622.2 363.0h0M631.7 355.8h0M636.0 355.7h0M654.2 333.9h0M642.4 366.1h0M638.6 367.3h0M651.3 335.9h0M644.9 337.9h0M636.7 354.4h0M634.9 363.6h0M627.8 358.9h0M640.6 346.0h0M624.2 370.5h0M648.4 351.6h0M628.6 360.9h0M642.0 346.6h0M650.2 338.8h0M635.2 356.5h0M641.1 344.5h0M657.5 344.0h0M638.3 354.3h0M649.9 334.9h0M649.2 336.5h0M627.2 366.7h0M644.5 346.1h0M631.9 368.0h0M643.7 333.0h0M644.4 348.6h0M651.4 345.5h0M641.8 341.8h0M643.3 354.4h0M645.0 338.7h0M661.0 334.8h0M645.2 356.0h0M658.2 334.0h0M637.3 351.3h0M634.9 358.0h0M648.0 349.4h0M636.0 356.0h0M644.4 328.4h0M642.0 348.7h0M660.0 319.6h0M656.2 342.4h0M660.8 347.5h0M648.9 354.1h0M641.5 350.0h0M641.5 357.1h0M658.6 344.1h0M633.5 360.5h0M638.5 349.8h0M634.9 356.4h0M651.7 343.5h0M642.2 342.2h0M650.0 348.7h0M653.3 343.0h0M665.8 312.9h0M650.1 352.8h0M623.5 359.6h0M625.6 374.6h0M640.9 341.6h0M654.9 341.8h0M635.2 360.7h0M639.7 358.8h0M631.1 363.9h0M637.5 348.9h0M644.9 363.1h0M641.8 354.3h0M643.7 356.4h0M649.7 343.3h0M640.5 357.5h0M636.1 365.6h0M620.0 378.7h0M633.0 362.7h0M652.0 341.8h0M631.6 365.5h0M636.8 343.7h0M634.3 356.3h0M641.3 347.3h0M646.3 354.4h0M635.5 356.9h0M634.3 349.5h0M646.3 353.2h0M629.0 355.0h0M644.1 345.2h0M635.2 351.3h0M639.9 344.5h0M648.1 341.2h0M647.2 357.3h0M649.6 345.9h0M636.2 366.3h0M641.8 350.6h0M635.6 357.4h0M633.1 361.6h0M638.6 349.4h0M644.2 354.8h0M642.3 352.0h0M641.2 360.2h0M633.3 365.2h0M641.7 347.6h0M644.8 347.1h0M656.7 337.7h0M638.5 372.0h0M649.9 343.7h0M642.5 353.4h0M666.4 334.1h0M648.5 348.9h0M656.6 338.0h0M649.2 348.3h0M635.6 361.9h0M635.6 360.3h0M642.7 347.9h0M634.4 359.4h0M645.3 355.0h0M637.2 357.8h0M640.4 352.7h0M629.5 363.4h0M657.8 334.6h0M633.3 357.2h0M641.6 354.1h0M635.7 357.2h0M644.2 340.5h0M653.0 345.5h0M648.9 338.4h0M628.6 362.9h0M644.9 338.5h0M650.7 324.1h0M653.1 330.8h0M637.9 355.9h0M637.5 350.7h0M627.8 360.2h0M660.9 330.3h0M640.2 356.2h0M639.2 350.9h0M636.9 351.7h0M643.1 353.3h0M648.4 352.5h0M649.5 349.1h0M638.1 373.7h0M632.9 370.3h0M649.5 357.2h0M636.9 345.2h0M657.8 334.0h0M647.3 362.0h0M638.8 342.9h0M654.0 336.2h0M628.5 367.4h0M643.2 358.2h0M644.2 347.9h0M645.8 353.6h0M634.7 359.9h0M643.8 348.2h0M647.1 344.8h0M649.6 337.4h0M641.5 332.1h0M630.5 346.1h0M646.2 347.3h0M631.4 365.0h0M641.5 352.5h0M641.1 356.6h0M664.4 321.9h0M640.7 352.1h0M630.7 361.1h0M638.2 354.9h0M648.6 362.5h0M638.7 357.8h0M656.5 346.8h0M642.9 349.9h0M652.5 320.5h0M650.8 334.9h0M635.0 354.2h0M645.7 353.6h0M637.0 355.1h0M645.4 350.5h0M640.4 344.2h0M646.3 346.2h0M637.6 336.4h0M642.5 356.9h0M634.5 362.2h0M635.2 355.9h0M649.5 341.5h0M638.5 350.8h0M631.3 366.1h0M631.7 366.9h0M640.7 341.9h0M651.0 337.2h0M640.1 357.8h0M645.4 338.3h0M640.1 350.5h0M637.9 367.4h0M644.1 354.9h0M640.0 337.5h0M657.6 337.6h0M644.1 354.3h0M648.5 338.3h0M638.1 338.5h0M639.9 353.5h0M630.0 374.0h0M638.4 348.8h0M630.5 371.2h0M633.8 367.7h0M639.2 353.6h0M625.8 369.9h0M625.4 365.1h0M629.7 360.2h0M649.4 345.6h0M644.3 352.0h0M655.7 336.9h0M647.2 344.3h0M635.5 352.7h0M644.6 346.0h0M638.9 365.1h0M628.5 370.4h0M640.1 355.8h0M642.5 339.0h0M652.0 341.9h0M649.7 337.7h0M631.1 370.8h0M633.3 353.3h0M645.6 342.0h0M643.8 349.4h0M639.5 364.4h0M640.5 348.1h0M650.4 341.4h0M649.9 336.3h0M637.4 351.8h0M637.9 344.0h0M640.6 345.3h0M633.7 362.6h0M636.6 354.4h0M653.6 348.1h0M650.8 354.3h0M640.3 354.8h0M643.0 346.6h0M653.8 352.9h0M636.6 365.4h0M634.3 378.1h0M648.2 335.1h0M644.3 345.7h0M631.0 365.2h0M645.0 343.8h0M637.0 366.0h0M640.8 348.3h0M658.7 337.3h0M642.2 352.1h0M638.3 354.6h0M632.4 373.2h0M647.7 341.5h0M639.7 363.6h0M647.2 359.4h0M655.1 334.9h0M648.2 349.9h0M651.1 352.1h0M653.0 344.9h0M629.1 362.7h0M639.2 346.4h0M630.8 343.3h0M647.2 344.5h0M639.8 371.6h0M645.4 356.5h0M642.3 342.0h0M636.3 360.8h0M636.9 365.9h0M644.9 336.1h0M646.9 355.2h0M637.3 348.8h0M627.1 359.2h0M622.2 376.9h0M646.2 341.3h0M646.2 346.9h0M634.5 362.5h0M641.4 350.9h0M651.5 335.9h0M643.7 336.6h0M652.6 339.3h0M648.2 351.2h0M636.8 350.1h0M631.1 359.6h0M648.7 350.7h0M643.9 341.2h0M652.0 344.2h0M642.2 344.6h0M647.3 351.4h0M636.9 358.8h0M624.2 363.3h0M638.3 356.5h0M627.3 358.4h0M635.5 350.7h0M637.8 344.8h0M654.7 328.9h0M637.2 343.7h0M651.7 321.5h0M629.1 359.1h0M656.3 324.5h0M625.7 366.5h0M636.9 337.4h0M656.3 343.7h0M654.6 338.7h0M645.5 357.1h0M643.9 344.6h0M648.9 347.8h0M633.0 361.8h0M645.0 362.8h0M655.1 331.4h0M654.1 341.9h0M626.2 365.6h0M648.3 345.7h0M638.8 343.7h0M633.6 354.8h0M632.8 351.9h0M633.1 359.4h0M628.8 367.8h0M650.5 348.4h0M623.3 362.1h0M637.3 346.6h0M634.0 366.7h0M650.9 338.7h0M636.4 363.8h0M640.5 360.7h0M629.9 371.4h0M637.7 357.0h0M646.1 350.9h0M631.6 358.9h0M645.6 343.6h0M640.9 349.4h0M644.2 347.1h0M645.2 357.6h0M648.0 334.3h0M622.3 356.9h0M651.6 354.5h0M631.6 360.9h0M628.8 369.7h0M639.5 349.0h0M644.3 346.0h0M652.9 346.7h0M636.4 353.0h0M656.4 339.5h0M639.1 351.5h0M649.3 340.8h0M633.4 353.4h0M643.9 364.0h0M639.7 355.2h0M647.0 346.2h0M644.8 351.3h0M643.1 342.3h0M637.7 356.8h0M640.9 339.5h0M638.9 355.4h0M630.7 361.4h0M627.7 379.1h0M637.2 356.7h0M635.6 351.2h0M641.3 354.9h0M645.6 348.3h0M647.8 347.4h0M629.8 358.7h0M637.1 352.6h0M633.6 352.5h0M642.8 352.5h0M635.4 364.3h0M645.7 340.3h0M644.9 344.6h0M652.4 349.6h0M652.9 344.0h0M630.3 372.7h0M637.8 367.8h0M633.8 360.9h0M637.6 346.3h0M645.3 339.8h0M641.8 351.4h0M635.2 348.7h0M644.8 346.6h0M632.9 339.3h0M633.2 353.6h0M631.0 356.5h0M643.7 354.3h0M643.4 344.7h0M642.5 341.7h0M644.4 356.1h0M651.2 337.5h0M635.1 354.8h0M647.9 342.9h0M653.0 324.8h0M642.8 357.1h0M628.7 352.5h0M627.2 368.7h0M642.0 346.2h0M648.3 348.2h0M633.2 357.3h0M641.0 354.0h0M644.8 354.1h0M651.2 329.6h0M632.2 348.0h0M646.3 351.3h0M639.0 351.4h0M637.2 343.7h0M644.3 336.3h0M650.8 333.5h0M635.9 361.1h0M629.2 358.4h0M642.0 359.8h0M632.4 364.1h0M632.5 370.8h0M632.6 366.6h0M634.4 369.9h0M645.4 341.1h0M640.2 354.0h0M638.6 342.6h0M642.4 346.4h0M636.4 354.6h0M639.9 342.0h0M654.2 336.3h0M642.8 354.9h0M638.7 349.6h0M641.4 362.5h0M646.1 339.3h0M644.2 351.4h0M639.6 372.4h0M640.7 348.4h0M636.0 348.5h0M656.9 326.5h0M645.9 353.4h0M649.2 371.7h0M639.2 357.5h0M646.5 335.9h0M633.6 355.8h0M632.1 340.9h0M654.7 350.1h0M648.3 357.5h0M637.5 373.7h0M623.6 363.2h0M645.7 341.1h0M649.2 374.2h0M635.7 356.1h0M644.7 337.1h0M630.9 366.4h0M634.5 351.5h0M639.1 354.0h0M644.5 339.5h0M644.9 355.3h0M653.6 347.6h0M645.7 349.1h0M637.5 370.8h0M646.0 344.9h0M643.3 340.6h0M641.2 350.7h0M642.0 360.2h0M640.9 341.1h0M641.4 362.2h0M617.7 369.7h0M650.7 342.9h0M642.0 361.2h0M641.3 361.7h0M642.2 358.6h0M641.9 347.0h0M633.5 356.1h0M651.0 326.2h0M639.2 364.9h0M647.9 349.6h0M635.6 357.8h0M636.6 357.7h0M642.2 353.7h0M645.0 339.2h0M659.6 345.6h0M629.3 363.8h0M632.4 357.5h0M639.7 334.2h0M637.8 360.5h0M655.0 344.8h0M640.7 340.5h0M634.1 352.9h0M630.5 360.1h0M637.7 350.7h0M628.3 365.9h0M644.2 347.6h0M656.5 335.4h0M632.8 351.3h0M644.3 352.1h0M647.3 347.2h0M641.8 350.2h0M640.4 359.9h0M645.1 359.7h0M652.8 338.9h0M639.0 341.9h0M636.5 374.5h0M639.6 359.7h0M634.5 357.4h0M655.7 347.2h0M643.7 347.8h0M640.0 338.3h0M645.4 358.7h0M640.0 361.0h0M651.0 341.0h0M623.6 366.4h0M632.4 353.0h0M649.0 357.2h0M648.6 355.8h0M644.5 348.5h0M643.3 354.5h0M648.5 358.5h0M640.4 340.2h0M638.7 352.2h0M645.0 344.0h0M633.8 366.2h0M635.8 369.9h0M653.6 331.8h0M651.0 345.1h0M645.5 353.1h0M639.8 349.8h0M651.2 328.5h0M649.5 341.2h0M640.2 342.4h0M643.7 347.4h0M647.1 346.0h0M623.7 363.6h0M639.8 354.6h0M629.6 371.7h0M634.0 350.7h0M644.2 337.6h0M645.2 347.9h0M632.2 353.9h0M642.8 348.6h0M639.9 354.9h0M653.2 337.8h0M643.7 338.8h0M635.8 352.5h0M644.6 339.8h0M652.5 343.7h0M639.1 341.3h0M640.6 354.4h0M647.5 340.5h0M634.3 349.8h0M648.8 347.6h0M631.9 347.5h0M647.0 349.6h0M639.2 362.5h0M642.7 351.6h0M630.5 359.3h0M639.1 345.0h0M635.6 348.9h0M633.4 334.8h0M627.5 344.5h0M641.9 362.5h0M637.8 351.6h0M629.7 356.5h0M637.3 349.3h0M640.6 344.5h0M642.4 350.5h0M649.8 343.8h0M637.3 365.6h0M635.4 366.8h0M635.1 358.2h0M652.9 345.6h0M633.1 360.8h0M626.2 365.8h0M632.6 345.8h0M632.8 369.6h0M634.2 352.9h0M656.3 322.6h0M648.6 340.7h0M634.6 339.7h0M648.1 359.3h0M639.3 348.1h0M648.5 332.5h0M660.3 344.0h0M644.6 342.7h0M639.9 349.0h0M651.3 358.0h0M644.3 342.6h0M635.3 365.2h0M639.8 359.6h0M641.6 341.0h0M647.0 343.3h0M648.1 352.8h0M647.4 339.4h0M648.4 331.7h0M616.7 371.7h0M631.5 351.8h0M651.6 347.8h0M642.5 349.5h0M630.7 346.9h0M634.1 356.9h0M645.1 349.9h0M638.6 360.3h0M656.1 342.5h0M627.0 366.5h0M629.9 374.2h0M651.0 338.4h0M655.7 327.2h0M646.9 339.9h0M639.8 350.4h0M633.7 373.4h0M632.8 350.7h0M641.6 349.2h0M638.9 358.9h0M643.4 350.3h0M659.4 347.2h0M640.7 351.2h0M644.7 347.0h0M658.0 333.0h0M636.2 372.0h0M648.0 363.3h0M633.5 358.3h0M629.7 365.8h0M666.2 330.7h0M639.9 362.3h0M644.5 350.7h0M629.5 364.6h0M645.9 348.7h0M645.3 354.4h0M637.9 354.4h0M648.1 345.2h0M641.9 346.0h0M642.8 341.7h0M643.4 349.5h0M641.8 352.7h0M625.1 376.7h0M649.5 340.1h0M649.3 349.6h0M671.7 324.6h0M666.8 320.0h0M660.6 330.6h0M663.1 343.5h0M641.0 353.2h0M631.0 379.3h0M662.1 300.9h0M643.1 357.6h0M656.4 326.1h0M646.0 333.8h0M660.7 309.7h0M669.3 317.1h0M663.5 373.7h0M640.7 363.8h0M651.2 330.6h0M633.2 372.4h0M631.2 337.0h0M665.4 332.4h0M649.5 350.4h0M647.2 360.4h0M634.3 369.6h0M614.9 381.8h0M629.3 368.6h0M636.2 362.9h0M661.2 331.2h0M639.3 371.3h0M680.0 329.2h0M654.9 348.3h0M625.9 376.7h0M674.6 325.7h0M645.9 347.9h0M646.6 356.8h0M667.6 338.7h0M648.4 364.7h0M634.2 382.2h0M679.4 310.8h0M644.9 371.6h0M652.8 364.6h0M652.7 318.7h0M649.4 334.9h0M659.9 339.2h0M677.2 302.7h0M634.6 342.1h0M654.9 359.7h0M665.3 346.9h0M675.0 328.7h0M659.0 319.7h0M629.8 379.7h0M649.6 330.3h0M620.5 359.2h0M683.4 325.2h0M646.6 336.8h0M650.0 345.7h0M671.7 321.2h0M630.7 340.1h0M653.9 350.5h0M657.7 319.1h0M609.0 376.7h0M648.6 355.7h0M650.9 338.0h0M655.9 323.1h0M648.3 366.4h0M673.7 343.7h0M643.0 340.9h0M645.1 369.7h0M645.7 365.4h0M643.7 367.2h0M618.2 354.5h0M641.8 348.6h0M647.6 341.8h0M653.0 370.8h0M664.7 331.8h0M667.7 330.0h0M661.2 338.0h0M668.3 367.2h0M648.9 356.5h0M644.0 349.2h0M642.4 376.9h0M618.7 362.8h0M669.2 331.5h0M677.7 315.2h0M650.1 345.4h0M661.5 318.6h0M654.9 345.6h0M647.0 353.9h0M651.6 325.6h0M640.7 351.6h0M666.6 321.1h0M648.8 366.4h0M646.9 318.7h0M654.4 308.1h0M678.6 329.4h0M647.1 356.3h0M628.7 325.9h0M631.2 333.1h0M671.1 328.1h0M641.5 349.3h0M687.8 294.3h0M670.0 301.9h0M664.3 295.8h0M701.0 287.0h0M678.6 304.5h0M634.5 349.0h0M628.8 359.7h0M671.7 293.2h0M652.8 349.0h0M624.7 359.8h0M685.6 344.3h0M655.1 344.4h0M646.7 343.9h0M654.2 350.3h0M665.4 312.4h0M625.3 363.2h0M652.9 342.1h0M668.1 327.8h0M652.8 320.2h0M649.9 341.9h0M642.8 345.4h0M677.2 328.8h0M658.8 366.5h0M641.7 326.2h0M643.2 322.3h0M619.1 377.9h0M632.9 348.2h0M653.1 376.6h0M639.0 320.6h0M692.7 312.6h0M654.6 333.7h0M654.3 372.7h0M678.5 325.4h0M648.5 379.1h0M637.9 340.6h0M617.8 381.7h0M670.6 317.1h0M625.1 359.5h0M647.2 369.0h0M664.8 347.1h0M660.9 335.5h0M681.6 300.9h0M625.5 383.6h0M672.7 323.6h0M658.5 344.3h0M658.5 350.5h0M675.1 322.8h0M629.1 341.3h0M653.4 360.1h0M647.7 340.6h0M673.3 263.8h0M632.4 336.4h0M657.2 316.1h0M622.5 297.4h0M632.1 315.3h0M632.5 347.5h0M673.2 277.2h0M638.0 312.9h0M651.9 333.5h0M651.1 310.0h0M629.4 315.6h0M666.8 321.7h0M685.3 296.0h0M662.3 322.3h0M674.6 316.6h0M635.4 339.5h0M661.0 288.0h0M623.1 355.9h0M674.8 265.7h0M665.4 289.4h0M643.8 331.4h0M683.3 289.6h0M637.3 290.5h0M654.3 322.1h0M653.6 327.9h0M644.2 331.7h0M629.9 337.8h0M650.9 288.1h0M649.0 310.7h0M633.6 346.0h0M624.9 353.3h0M634.4 345.0h0M657.5 328.7h0M629.4 316.1h0M623.6 328.1h0M686.6 278.5h0M626.4 321.8h0M658.6 310.0h0M623.3 359.0h0M674.4 285.5h0M652.4 332.6h0M677.6 305.3h0M677.7 302.4h0M659.0 323.4h0M664.4 324.6h0M669.4 323.2h0M634.0 319.9h0M667.8 307.2h0M684.9 312.3h0M647.7 337.5h0M681.7 303.2h0M671.5 322.7h0M662.1 283.7h0M607.3 314.2h0M607.3 329.2h0M617.8 309.8h0M629.8 312.8h0M647.5 285.9h0M653.4 284.3h0M689.6 284.3h0M703.3 312.8h0M728.7 269.5h0M734.7 321.7h0M697.2 327.8h0M731.7 300.9h0" stroke="#7c7c7c" stroke-width="1.5" stroke-linecap="round" fill="none"/>
<path d="M606.8 376.4L735.2 274.9" stroke="#2a2f8a" stroke-width="1.5" fill="none"/>
<rect x="603.9" y="260.2" width="98.2" height="24.6" rx="1.5" fill="#fff" fill-opacity="0.8" stroke="#efefef" stroke-width="0.8"/>
<path d="M606.6 266.3h16" stroke="#7272b4" stroke-width="1.9"/>
<text class="s" transform="matrix(1,0,0,1.1,0,-26.96)" x="628.77 632.98 635.98 641.41 643.79 648.38 650.75 655.40 660.10 664.31 667.31 672.74 675.00 677.75 682.40 686.99 689.36 694.01" y="269.6" font-size="7.96">y = 0.59x + -39.23</text>
<text x="628.1" y="280.0" font-size="7.96" font-style="italic" class="s">R</text>
<text x="634.5" y="277.3" font-size="5.4" class="s">2</text>
<text x="639.7" y="280.0" font-size="7.96" class="s">=</text>
<text class="s" transform="matrix(1,0,0,1.1,0,-28.00)" x="646.91 651.50 653.87 658.52 663.16" y="280.0" font-size="7.96">0.453</text>
<rect x="600.5" y="256.5" width="140.0" height="132.0" fill="none" stroke="#3c3c3c" stroke-width="1"/>
<text class="s" transform="matrix(1,0,0,1.1,0,-39.84)" x="603.21 608.70 613.35 617.99" y="398.4" font-size="7.96">−120</text>
<text class="s" transform="matrix(1,0,0,1.1,0,-39.84)" x="626.21 631.70 636.35 640.99" y="398.4" font-size="7.96">−100</text>
<text class="s" transform="matrix(1,0,0,1.1,0,-39.84)" x="651.63 657.12 661.77" y="398.4" font-size="7.96">−80</text>
<text class="s" transform="matrix(1,0,0,1.1,0,-39.84)" x="674.93 680.42 685.07" y="398.4" font-size="7.96">−60</text>
<text class="s" transform="matrix(1,0,0,1.1,0,-39.84)" x="698.53 704.02 708.67" y="398.4" font-size="7.96">−40</text>
<text class="s" transform="matrix(1,0,0,1.1,0,-39.84)" x="722.33 727.82 732.47" y="398.4" font-size="7.96">−20</text>
<text class="s" transform="matrix(1,0,0,1.1,0,-39.09)" x="578.28 583.78 588.42 593.06" y="390.9" font-size="7.96">−120</text>
<text class="s" transform="matrix(1,0,0,1.1,0,-37.53)" x="578.28 583.78 588.42 593.06" y="375.3" font-size="7.96">−110</text>
<text class="s" transform="matrix(1,0,0,1.1,0,-35.96)" x="578.28 583.78 588.42 593.06" y="359.6" font-size="7.96">−100</text>
<text class="s" transform="matrix(1,0,0,1.1,0,-34.40)" x="582.93 588.42 593.06" y="344.0" font-size="7.96">−90</text>
<text class="s" transform="matrix(1,0,0,1.1,0,-32.84)" x="582.93 588.42 593.06" y="328.4" font-size="7.96">−80</text>
<text class="s" transform="matrix(1,0,0,1.1,0,-31.27)" x="582.93 588.42 593.06" y="312.7" font-size="7.96">−70</text>
<text class="s" transform="matrix(1,0,0,1.1,0,-29.71)" x="582.93 588.42 593.06" y="297.1" font-size="7.96">−60</text>
<text class="s" transform="matrix(1,0,0,1.1,0,-28.14)" x="582.93 588.42 593.06" y="281.4" font-size="7.96">−50</text>
<text class="s" transform="matrix(1,0,0,1.1,0,-26.58)" x="582.93 588.42 593.06" y="265.8" font-size="7.96">−40</text>
<path d="M612.5 388.5v2.5M635.5 388.5v2.5M658.6 388.5v2.5M681.9 388.5v2.5M705.5 388.5v2.5M729.3 388.5v2.5M600.5 387.4h-2.5M600.5 371.8h-2.5M600.5 356.1h-2.5M600.5 340.5h-2.5M600.5 324.9h-2.5M600.5 309.2h-2.5M600.5 293.6h-2.5M600.5 277.9h-2.5M600.5 262.3h-2.5" stroke="#333" stroke-width="0.8"/>
<text class="s" transform="matrix(1,0,0,1.1,0,-40.74)" x="614.41 620.51 623.36 627.75 632.37 637.00 641.59 643.65 648.49 650.34 655.19 657.83 662.41 664.52 670.00 672.73 675.30 679.86 684.49 689.04 693.81 696.48 698.40 702.94 707.53 709.89 712.51 717.93 723.57" y="407.4" font-size="7.96">Ground Truth Attenuation (HU)</text>
<text class="s" transform="translate(572.7,322.5) rotate(-90) scale(1,1.1)" x="-49.98 -43.48 -39.00 -34.64 -30.64 -25.94 -23.08 -18.68 -14.10 -11.99 -6.51 -3.78 -1.21 3.35 7.98 12.53 17.30 19.97 21.89 26.44 31.02 33.38 36.00 41.42 47.06" y="0" font-size="7.96">Measured Attenuation (HU)</text>
<text class="s" transform="matrix(1,0,0,1.1,0,-24.37)" x="643.76 646.57 652.32 655.48 660.98 664.55 669.85 675.26 677.62 680.19 685.79 689.66 695.06" y="243.7" font-size="9.02">Internal Tool</text>
<text class="s" transform="matrix(1,0,0,1.1,0,-25.37)" x="604.16 610.22 615.77 621.22 626.15 631.90 635.04 640.50 645.97 651.35 656.80 662.11 666.79 669.20 674.65 679.50 682.61 685.25 691.72 695.00 698.15 703.62 709.18 714.64 720.29 723.48 725.87 731.33" y="253.7" font-size="9.02">Subcutaneous Fat Attenuation</text>
<text transform="translate(654.40,0) scale(1.14,1) translate(-654.40,0)" x="607.38 612.83 620.62 626.07 630.74 635.80 643.59 649.04 653.71 662.86 669.88 675.33 680.00 690.52 695.97" y="437.2" font-size="14.8" font-family='"Liberation Serif", serif' fill="#1c1c1c">(h) Int Fat Att</text>
</svg></body></html>
